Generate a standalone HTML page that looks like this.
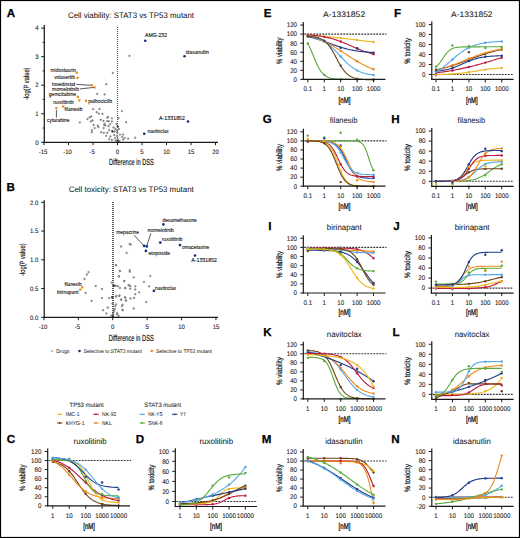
<!DOCTYPE html>
<html><head><meta charset="utf-8"><style>
html,body{margin:0;padding:0;background:#fff;}
body{width:520px;height:538px;overflow:hidden;}
svg{display:block;font-family:"Liberation Sans",sans-serif;text-rendering:geometricPrecision;}
</style></head><body>
<svg width="520" height="538" viewBox="0 0 520 538">
<rect x="0" y="0" width="520" height="538" fill="#fff"/>
<line x1="304.30" y1="34.10" x2="386.50" y2="34.10" stroke="#333" stroke-width="1.1" stroke-dasharray="1.9,1.1" stroke-linecap="butt"/>
<path d="M307.80,35.26 L308.91,35.32 L310.03,35.38 L311.14,35.44 L312.26,35.51 L313.37,35.58 L314.49,35.65 L315.60,35.72 L316.72,35.80 L317.83,35.87 L318.95,35.95 L320.06,36.04 L321.17,36.12 L322.29,36.21 L323.40,36.30 L324.52,36.40 L325.63,36.49 L326.75,36.59 L327.86,36.69 L328.98,36.80 L330.09,36.91 L331.21,37.02 L332.32,37.13 L333.44,37.24 L334.55,37.36 L335.66,37.48 L336.78,37.60 L337.89,37.73 L339.01,37.85 L340.12,37.98 L341.24,38.11 L342.35,38.24 L343.47,38.37 L344.58,38.51 L345.70,38.65 L346.81,38.78 L347.92,38.92 L349.04,39.06 L350.15,39.20 L351.27,39.34 L352.38,39.48 L353.50,39.62 L354.61,39.76 L355.73,39.89 L356.84,40.03 L357.96,40.17 L359.07,40.31 L360.19,40.45 L361.30,40.58 L362.41,40.71 L363.53,40.85 L364.64,40.98 L365.76,41.11 L366.87,41.23 L367.99,41.36 L369.10,41.48 L370.22,41.60 L371.33,41.72 L372.45,41.84 L373.56,41.95" fill="none" stroke="#f0b51a" stroke-width="1.12"/>
<path d="M307.80,34.78 L308.91,34.86 L310.03,34.95 L311.14,35.05 L312.26,35.15 L313.37,35.26 L314.49,35.38 L315.60,35.50 L316.72,35.64 L317.83,35.78 L318.95,35.94 L320.06,36.10 L321.17,36.28 L322.29,36.47 L323.40,36.67 L324.52,36.88 L325.63,37.11 L326.75,37.34 L327.86,37.60 L328.98,37.86 L330.09,38.14 L331.21,38.44 L332.32,38.75 L333.44,39.08 L334.55,39.42 L335.66,39.77 L336.78,40.15 L337.89,40.53 L339.01,40.93 L340.12,41.34 L341.24,41.77 L342.35,42.21 L343.47,42.65 L344.58,43.11 L345.70,43.58 L346.81,44.05 L347.92,44.53 L349.04,45.02 L350.15,45.51 L351.27,46.00 L352.38,46.49 L353.50,46.98 L354.61,47.46 L355.73,47.94 L356.84,48.42 L357.96,48.89 L359.07,49.34 L360.19,49.79 L361.30,50.23 L362.41,50.66 L363.53,51.07 L364.64,51.47 L365.76,51.86 L366.87,52.23 L367.99,52.59 L369.10,52.93 L370.22,53.26 L371.33,53.57 L372.45,53.87 L373.56,54.15" fill="none" stroke="#bf1a40" stroke-width="1.12"/>
<path d="M307.80,36.71 L308.91,36.94 L310.03,37.19 L311.14,37.44 L312.26,37.71 L313.37,38.00 L314.49,38.29 L315.60,38.60 L316.72,38.92 L317.83,39.25 L318.95,39.60 L320.06,39.95 L321.17,40.32 L322.29,40.70 L323.40,41.08 L324.52,41.47 L325.63,41.87 L326.75,42.27 L327.86,42.68 L328.98,43.09 L330.09,43.50 L331.21,43.91 L332.32,44.32 L333.44,44.72 L334.55,45.12 L335.66,45.52 L336.78,45.90 L337.89,46.28 L339.01,46.65 L340.12,47.01 L341.24,47.36 L342.35,47.70 L343.47,48.03 L344.58,48.34 L345.70,48.64 L346.81,48.93 L347.92,49.20 L349.04,49.46 L350.15,49.71 L351.27,49.95 L352.38,50.17 L353.50,50.38 L354.61,50.58 L355.73,50.77 L356.84,50.94 L357.96,51.11 L359.07,51.26 L360.19,51.41 L361.30,51.54 L362.41,51.67 L363.53,51.79 L364.64,51.90 L365.76,52.00 L366.87,52.10 L367.99,52.18 L369.10,52.27 L370.22,52.34 L371.33,52.41 L372.45,52.48 L373.56,52.54" fill="none" stroke="#1f3d8c" stroke-width="1.12"/>
<path d="M307.80,35.62 L308.91,35.91 L310.03,36.22 L311.14,36.54 L312.26,36.88 L313.37,37.23 L314.49,37.60 L315.60,37.98 L316.72,38.38 L317.83,38.80 L318.95,39.23 L320.06,39.68 L321.17,40.15 L322.29,40.63 L323.40,41.13 L324.52,41.65 L325.63,42.19 L326.75,42.74 L327.86,43.31 L328.98,43.89 L330.09,44.50 L331.21,45.11 L332.32,45.74 L333.44,46.38 L334.55,47.04 L335.66,47.71 L336.78,48.39 L337.89,49.08 L339.01,49.78 L340.12,50.48 L341.24,51.20 L342.35,51.92 L343.47,52.64 L344.58,53.36 L345.70,54.09 L346.81,54.81 L347.92,55.54 L349.04,56.26 L350.15,56.98 L351.27,57.69 L352.38,58.39 L353.50,59.09 L354.61,59.77 L355.73,60.45 L356.84,61.12 L357.96,61.77 L359.07,62.41 L360.19,63.04 L361.30,63.65 L362.41,64.25 L363.53,64.83 L364.64,65.39 L365.76,65.94 L366.87,66.47 L367.99,66.98 L369.10,67.48 L370.22,67.96 L371.33,68.42 L372.45,68.87 L373.56,69.30" fill="none" stroke="#ec8b20" stroke-width="1.12"/>
<path d="M307.80,36.12 L308.91,36.28 L310.03,36.47 L311.14,36.68 L312.26,36.91 L313.37,37.16 L314.49,37.44 L315.60,37.76 L316.72,38.10 L317.83,38.48 L318.95,38.90 L320.06,39.37 L321.17,39.87 L322.29,40.42 L323.40,41.02 L324.52,41.67 L325.63,42.38 L326.75,43.14 L327.86,43.95 L328.98,44.82 L330.09,45.74 L331.21,46.71 L332.32,47.73 L333.44,48.80 L334.55,49.91 L335.66,51.05 L336.78,52.22 L337.89,53.41 L339.01,54.62 L340.12,55.83 L341.24,57.04 L342.35,58.24 L343.47,59.42 L344.58,60.58 L345.70,61.70 L346.81,62.78 L347.92,63.82 L349.04,64.81 L350.15,65.74 L351.27,66.63 L352.38,67.46 L353.50,68.24 L354.61,68.96 L355.73,69.63 L356.84,70.25 L357.96,70.81 L359.07,71.33 L360.19,71.81 L361.30,72.24 L362.41,72.64 L363.53,73.00 L364.64,73.32 L365.76,73.61 L366.87,73.88 L367.99,74.12 L369.10,74.33 L370.22,74.52 L371.33,74.69 L372.45,74.85 L373.56,74.99" fill="none" stroke="#55a7e6" stroke-width="1.12"/>
<path d="M307.80,36.21 L308.91,36.28 L310.03,36.36 L311.14,36.46 L312.26,36.58 L313.37,36.73 L314.49,36.90 L315.60,37.10 L316.72,37.35 L317.83,37.65 L318.95,38.00 L320.06,38.43 L321.17,38.92 L322.29,39.51 L323.40,40.20 L324.52,41.01 L325.63,41.94 L326.75,43.02 L327.86,44.24 L328.98,45.61 L330.09,47.14 L331.21,48.82 L332.32,50.64 L333.44,52.58 L334.55,54.60 L335.66,56.69 L336.78,58.80 L337.89,60.89 L339.01,62.92 L340.12,64.87 L341.24,66.70 L342.35,68.40 L343.47,69.95 L344.58,71.35 L345.70,72.59 L346.81,73.68 L347.92,74.63 L349.04,75.45 L350.15,76.15 L351.27,76.76 L352.38,77.27 L353.50,77.70 L354.61,78.06 L355.73,78.36 L356.84,78.62 L357.96,78.83 L359.07,79.00 L360.19,79.15 L361.30,79.27 L362.41,79.37 L363.53,79.46 L364.64,79.53 L365.76,79.58 L366.87,79.63 L367.99,79.67 L369.10,79.70 L370.22,79.73 L371.33,79.75 L372.45,79.77 L373.56,79.79" fill="none" stroke="#6e4219" stroke-width="1.12"/>
<path d="M307.80,43.43 L308.91,45.57 L310.03,47.92 L311.14,50.45 L312.26,53.11 L313.37,55.83 L314.49,58.54 L315.60,61.18 L316.72,63.68 L317.83,65.99 L318.95,68.09 L320.06,69.95 L321.17,71.57 L322.29,72.96 L323.40,74.14 L324.52,75.13 L325.63,75.95 L326.75,76.62 L327.86,77.17 L328.98,77.62 L330.09,77.99 L331.21,78.28 L332.32,78.52 L333.44,78.71 L334.55,78.86 L335.66,78.98 L336.78,79.08 L337.89,79.16 L339.01,79.22 L340.12,79.27 L341.24,79.31 L342.35,79.34 L343.47,79.36 L344.58,79.38 L345.70,79.40 L346.81,79.41 L347.92,79.42 L349.04,79.43 L350.15,79.44 L351.27,79.44 L352.38,79.44 L353.50,79.45 L354.61,79.45 L355.73,79.45 L356.84,79.45 L357.96,79.46 L359.07,79.46 L360.19,79.46 L361.30,79.46 L362.41,79.46 L363.53,79.46 L364.64,79.46 L365.76,79.46 L366.87,79.46 L367.99,79.46 L369.10,79.46 L370.22,79.46 L371.33,79.46 L372.45,79.46 L373.56,79.46" fill="none" stroke="#5aab3c" stroke-width="1.12"/>
<circle cx="307.80" cy="35.26" r="1.2" fill="#f0b51a"/>
<circle cx="324.24" cy="36.37" r="1.2" fill="#f0b51a"/>
<circle cx="340.68" cy="38.05" r="1.2" fill="#f0b51a"/>
<circle cx="357.12" cy="40.07" r="1.2" fill="#f0b51a"/>
<circle cx="373.56" cy="41.95" r="1.2" fill="#f0b51a"/>
<circle cx="307.80" cy="34.78" r="1.2" fill="#bf1a40"/>
<circle cx="324.24" cy="36.83" r="1.2" fill="#bf1a40"/>
<circle cx="340.68" cy="41.55" r="1.2" fill="#bf1a40"/>
<circle cx="357.12" cy="48.54" r="1.2" fill="#bf1a40"/>
<circle cx="373.56" cy="54.15" r="1.2" fill="#bf1a40"/>
<circle cx="307.80" cy="36.37" r="1.2" fill="#1f3d8c"/>
<circle cx="324.24" cy="40.90" r="1.2" fill="#1f3d8c"/>
<circle cx="340.68" cy="47.69" r="1.2" fill="#1f3d8c"/>
<circle cx="357.12" cy="48.32" r="1.2" fill="#1f3d8c"/>
<circle cx="373.56" cy="52.67" r="1.2" fill="#1f3d8c"/>
<circle cx="307.80" cy="35.62" r="1.2" fill="#ec8b20"/>
<circle cx="324.24" cy="41.52" r="1.2" fill="#ec8b20"/>
<circle cx="340.68" cy="50.84" r="1.2" fill="#ec8b20"/>
<circle cx="357.12" cy="61.28" r="1.2" fill="#ec8b20"/>
<circle cx="373.56" cy="69.30" r="1.2" fill="#ec8b20"/>
<circle cx="307.80" cy="36.12" r="1.2" fill="#55a7e6"/>
<circle cx="324.24" cy="41.51" r="1.2" fill="#55a7e6"/>
<circle cx="340.68" cy="56.44" r="1.2" fill="#55a7e6"/>
<circle cx="357.12" cy="70.39" r="1.2" fill="#55a7e6"/>
<circle cx="373.56" cy="74.99" r="1.2" fill="#55a7e6"/>
<circle cx="307.80" cy="36.21" r="1.2" fill="#6e4219"/>
<circle cx="324.24" cy="40.80" r="1.2" fill="#6e4219"/>
<circle cx="340.68" cy="65.80" r="1.2" fill="#6e4219"/>
<circle cx="357.12" cy="78.67" r="1.2" fill="#6e4219"/>
<circle cx="373.56" cy="79.79" r="1.2" fill="#6e4219"/>
<circle cx="307.80" cy="43.43" r="1.2" fill="#5aab3c"/>
<circle cx="324.24" cy="74.90" r="1.2" fill="#5aab3c"/>
<circle cx="340.68" cy="79.29" r="1.2" fill="#5aab3c"/>
<circle cx="357.12" cy="79.45" r="1.2" fill="#5aab3c"/>
<circle cx="373.56" cy="79.46" r="1.2" fill="#5aab3c"/>
<line x1="303.30" y1="22.04" x2="303.30" y2="79.90" stroke="#1a1a1a" stroke-width="1.2" stroke-linecap="butt"/>
<line x1="302.70" y1="79.40" x2="385.50" y2="79.40" stroke="#1a1a1a" stroke-width="1.2" stroke-linecap="butt"/>
<line x1="300.30" y1="79.40" x2="303.30" y2="79.40" stroke="#1a1a1a" stroke-width="1.0" stroke-linecap="butt"/>
<text x="297.00" y="81.75" font-size="6.7" text-anchor="end" textLength="3.43" lengthAdjust="spacingAndGlyphs" fill="#222" stroke="#222" stroke-width="0.1">0</text>
<line x1="300.30" y1="70.34" x2="303.30" y2="70.34" stroke="#1a1a1a" stroke-width="1.0" stroke-linecap="butt"/>
<text x="297.00" y="72.69" font-size="6.7" text-anchor="end" textLength="6.86" lengthAdjust="spacingAndGlyphs" fill="#222" stroke="#222" stroke-width="0.1">20</text>
<line x1="300.30" y1="61.28" x2="303.30" y2="61.28" stroke="#1a1a1a" stroke-width="1.0" stroke-linecap="butt"/>
<text x="297.00" y="63.63" font-size="6.7" text-anchor="end" textLength="6.86" lengthAdjust="spacingAndGlyphs" fill="#222" stroke="#222" stroke-width="0.1">40</text>
<line x1="300.30" y1="52.22" x2="303.30" y2="52.22" stroke="#1a1a1a" stroke-width="1.0" stroke-linecap="butt"/>
<text x="297.00" y="54.57" font-size="6.7" text-anchor="end" textLength="6.86" lengthAdjust="spacingAndGlyphs" fill="#222" stroke="#222" stroke-width="0.1">60</text>
<line x1="300.30" y1="43.16" x2="303.30" y2="43.16" stroke="#1a1a1a" stroke-width="1.0" stroke-linecap="butt"/>
<text x="297.00" y="45.51" font-size="6.7" text-anchor="end" textLength="6.86" lengthAdjust="spacingAndGlyphs" fill="#222" stroke="#222" stroke-width="0.1">80</text>
<line x1="300.30" y1="34.10" x2="303.30" y2="34.10" stroke="#1a1a1a" stroke-width="1.0" stroke-linecap="butt"/>
<text x="297.00" y="36.45" font-size="6.7" text-anchor="end" textLength="10.28" lengthAdjust="spacingAndGlyphs" fill="#222" stroke="#222" stroke-width="0.1">100</text>
<line x1="300.30" y1="25.04" x2="303.30" y2="25.04" stroke="#1a1a1a" stroke-width="1.0" stroke-linecap="butt"/>
<text x="297.00" y="27.39" font-size="6.7" text-anchor="end" textLength="10.28" lengthAdjust="spacingAndGlyphs" fill="#222" stroke="#222" stroke-width="0.1">120</text>
<line x1="307.80" y1="79.40" x2="307.80" y2="82.40" stroke="#1a1a1a" stroke-width="1.0" stroke-linecap="butt"/>
<text x="307.80" y="91.10" font-size="6.7" text-anchor="middle" textLength="8.57" lengthAdjust="spacingAndGlyphs" fill="#222" stroke="#222" stroke-width="0.1">0.1</text>
<line x1="324.24" y1="79.40" x2="324.24" y2="82.40" stroke="#1a1a1a" stroke-width="1.0" stroke-linecap="butt"/>
<text x="324.24" y="91.10" font-size="6.7" text-anchor="middle" textLength="3.43" lengthAdjust="spacingAndGlyphs" fill="#222" stroke="#222" stroke-width="0.1">1</text>
<line x1="340.68" y1="79.40" x2="340.68" y2="82.40" stroke="#1a1a1a" stroke-width="1.0" stroke-linecap="butt"/>
<text x="340.68" y="91.10" font-size="6.7" text-anchor="middle" textLength="6.86" lengthAdjust="spacingAndGlyphs" fill="#222" stroke="#222" stroke-width="0.1">10</text>
<line x1="357.12" y1="79.40" x2="357.12" y2="82.40" stroke="#1a1a1a" stroke-width="1.0" stroke-linecap="butt"/>
<text x="357.12" y="91.10" font-size="6.7" text-anchor="middle" textLength="10.28" lengthAdjust="spacingAndGlyphs" fill="#222" stroke="#222" stroke-width="0.1">100</text>
<line x1="373.56" y1="79.40" x2="373.56" y2="82.40" stroke="#1a1a1a" stroke-width="1.0" stroke-linecap="butt"/>
<text x="373.56" y="91.10" font-size="6.7" text-anchor="middle" textLength="13.71" lengthAdjust="spacingAndGlyphs" fill="#222" stroke="#222" stroke-width="0.1">1000</text>
<text x="323.10" y="16.80" font-size="8.1" fill="#111" textLength="42.10" lengthAdjust="spacingAndGlyphs" stroke="#111" stroke-width="0.04">A-1331852</text>
<text x="338.60" y="102.50" font-size="8.4" fill="#111" textLength="11.90" lengthAdjust="spacingAndGlyphs" stroke="#111" stroke-width="0.3">[nM]</text>
<text transform="translate(281.80,64.00) rotate(-90)" x="0" y="0" font-size="8.0" textLength="26.50" lengthAdjust="spacingAndGlyphs" fill="#111" stroke="#111" stroke-width="0.22">% viability</text>
<line x1="432.80" y1="74.44" x2="513.10" y2="74.44" stroke="#333" stroke-width="1.1" stroke-dasharray="1.9,1.1" stroke-linecap="butt"/>
<path d="M436.00,74.56 L437.11,74.54 L438.23,74.52 L439.34,74.49 L440.46,74.47 L441.57,74.44 L442.69,74.41 L443.80,74.37 L444.92,74.34 L446.03,74.30 L447.15,74.25 L448.26,74.20 L449.37,74.15 L450.49,74.09 L451.60,74.03 L452.72,73.96 L453.83,73.89 L454.95,73.81 L456.06,73.72 L457.18,73.63 L458.29,73.53 L459.41,73.43 L460.52,73.31 L461.64,73.19 L462.75,73.07 L463.86,72.93 L464.98,72.79 L466.09,72.64 L467.21,72.49 L468.32,72.33 L469.44,72.16 L470.55,71.99 L471.67,71.81 L472.78,71.63 L473.90,71.45 L475.01,71.27 L476.12,71.08 L477.24,70.89 L478.35,70.71 L479.47,70.52 L480.58,70.34 L481.70,70.16 L482.81,69.99 L483.93,69.82 L485.04,69.65 L486.16,69.49 L487.27,69.34 L488.39,69.20 L489.50,69.06 L490.61,68.93 L491.73,68.80 L492.84,68.69 L493.96,68.58 L495.07,68.48 L496.19,68.38 L497.30,68.29 L498.42,68.21 L499.53,68.13 L500.65,68.06 L501.76,67.99" fill="none" stroke="#f0b51a" stroke-width="1.12"/>
<path d="M436.00,72.88 L437.11,72.74 L438.23,72.60 L439.34,72.46 L440.46,72.31 L441.57,72.16 L442.69,72.00 L443.80,71.84 L444.92,71.67 L446.03,71.50 L447.15,71.33 L448.26,71.15 L449.37,70.97 L450.49,70.78 L451.60,70.59 L452.72,70.39 L453.83,70.19 L454.95,69.98 L456.06,69.77 L457.18,69.55 L458.29,69.33 L459.41,69.11 L460.52,68.88 L461.64,68.64 L462.75,68.40 L463.86,68.16 L464.98,67.91 L466.09,67.66 L467.21,67.40 L468.32,67.13 L469.44,66.87 L470.55,66.59 L471.67,66.32 L472.78,66.03 L473.90,65.75 L475.01,65.46 L476.12,65.16 L477.24,64.86 L478.35,64.56 L479.47,64.26 L480.58,63.95 L481.70,63.63 L482.81,63.31 L483.93,62.99 L485.04,62.67 L486.16,62.34 L487.27,62.01 L488.39,61.68 L489.50,61.35 L490.61,61.01 L491.73,60.67 L492.84,60.33 L493.96,59.99 L495.07,59.65 L496.19,59.30 L497.30,58.96 L498.42,58.61 L499.53,58.26 L500.65,57.91 L501.76,57.57" fill="none" stroke="#bf1a40" stroke-width="1.12"/>
<path d="M436.00,71.18 L437.11,71.08 L438.23,70.96 L439.34,70.83 L440.46,70.69 L441.57,70.54 L442.69,70.36 L443.80,70.17 L444.92,69.97 L446.03,69.74 L447.15,69.49 L448.26,69.22 L449.37,68.93 L450.49,68.61 L451.60,68.27 L452.72,67.91 L453.83,67.52 L454.95,67.12 L456.06,66.69 L457.18,66.25 L458.29,65.79 L459.41,65.31 L460.52,64.82 L461.64,64.33 L462.75,63.83 L463.86,63.33 L464.98,62.83 L466.09,62.34 L467.21,61.86 L468.32,61.40 L469.44,60.95 L470.55,60.51 L471.67,60.10 L472.78,59.71 L473.90,59.33 L475.01,58.99 L476.12,58.66 L477.24,58.36 L478.35,58.08 L479.47,57.82 L480.58,57.59 L481.70,57.37 L482.81,57.18 L483.93,57.00 L485.04,56.83 L486.16,56.69 L487.27,56.55 L488.39,56.44 L489.50,56.33 L490.61,56.23 L491.73,56.14 L492.84,56.07 L493.96,56.00 L495.07,55.94 L496.19,55.88 L497.30,55.83 L498.42,55.79 L499.53,55.75 L500.65,55.71 L501.76,55.68" fill="none" stroke="#1f3d8c" stroke-width="1.12"/>
<path d="M436.00,69.76 L437.11,69.54 L438.23,69.31 L439.34,69.07 L440.46,68.82 L441.57,68.56 L442.69,68.29 L443.80,68.01 L444.92,67.72 L446.03,67.43 L447.15,67.12 L448.26,66.81 L449.37,66.48 L450.49,66.15 L451.60,65.81 L452.72,65.46 L453.83,65.10 L454.95,64.74 L456.06,64.37 L457.18,63.99 L458.29,63.60 L459.41,63.21 L460.52,62.81 L461.64,62.41 L462.75,62.00 L463.86,61.59 L464.98,61.17 L466.09,60.76 L467.21,60.34 L468.32,59.92 L469.44,59.50 L470.55,59.08 L471.67,58.66 L472.78,58.24 L473.90,57.82 L475.01,57.41 L476.12,57.00 L477.24,56.60 L478.35,56.20 L479.47,55.80 L480.58,55.41 L481.70,55.03 L482.81,54.65 L483.93,54.29 L485.04,53.92 L486.16,53.57 L487.27,53.23 L488.39,52.89 L489.50,52.56 L490.61,52.25 L491.73,51.94 L492.84,51.64 L493.96,51.35 L495.07,51.07 L496.19,50.79 L497.30,50.53 L498.42,50.28 L499.53,50.03 L500.65,49.80 L501.76,49.57" fill="none" stroke="#6e4219" stroke-width="1.12"/>
<path d="M436.00,70.50 L437.11,70.22 L438.23,69.93 L439.34,69.63 L440.46,69.31 L441.57,68.99 L442.69,68.66 L443.80,68.32 L444.92,67.96 L446.03,67.60 L447.15,67.22 L448.26,66.84 L449.37,66.45 L450.49,66.05 L451.60,65.64 L452.72,65.22 L453.83,64.79 L454.95,64.36 L456.06,63.92 L457.18,63.48 L458.29,63.03 L459.41,62.58 L460.52,62.13 L461.64,61.67 L462.75,61.21 L463.86,60.75 L464.98,60.29 L466.09,59.83 L467.21,59.38 L468.32,58.92 L469.44,58.47 L470.55,58.03 L471.67,57.59 L472.78,57.15 L473.90,56.73 L475.01,56.30 L476.12,55.89 L477.24,55.48 L478.35,55.09 L479.47,54.70 L480.58,54.32 L481.70,53.95 L482.81,53.59 L483.93,53.24 L485.04,52.91 L486.16,52.58 L487.27,52.26 L488.39,51.96 L489.50,51.66 L490.61,51.38 L491.73,51.10 L492.84,50.84 L493.96,50.58 L495.07,50.34 L496.19,50.11 L497.30,49.88 L498.42,49.67 L499.53,49.47 L500.65,49.27 L501.76,49.08" fill="none" stroke="#ec8b20" stroke-width="1.12"/>
<path d="M436.00,72.11 L437.11,71.44 L438.23,70.75 L439.34,70.01 L440.46,69.24 L441.57,68.44 L442.69,67.61 L443.80,66.74 L444.92,65.85 L446.03,64.94 L447.15,64.01 L448.26,63.06 L449.37,62.10 L450.49,61.14 L451.60,60.17 L452.72,59.20 L453.83,58.25 L454.95,57.30 L456.06,56.37 L457.18,55.46 L458.29,54.57 L459.41,53.71 L460.52,52.88 L461.64,52.08 L462.75,51.31 L463.86,50.58 L464.98,49.89 L466.09,49.23 L467.21,48.60 L468.32,48.02 L469.44,47.47 L470.55,46.95 L471.67,46.47 L472.78,46.03 L473.90,45.61 L475.01,45.22 L476.12,44.86 L477.24,44.53 L478.35,44.23 L479.47,43.95 L480.58,43.69 L481.70,43.45 L482.81,43.23 L483.93,43.04 L485.04,42.85 L486.16,42.68 L487.27,42.53 L488.39,42.39 L489.50,42.26 L490.61,42.15 L491.73,42.04 L492.84,41.95 L493.96,41.86 L495.07,41.78 L496.19,41.70 L497.30,41.64 L498.42,41.58 L499.53,41.52 L500.65,41.47 L501.76,41.43" fill="none" stroke="#55a7e6" stroke-width="1.12"/>
<path d="M436.00,66.66 L437.11,65.79 L438.23,64.73 L439.34,63.47 L440.46,62.03 L441.57,60.44 L442.69,58.76 L443.80,57.06 L444.92,55.41 L446.03,53.87 L447.15,52.50 L448.26,51.32 L449.37,50.34 L450.49,49.54 L451.60,48.90 L452.72,48.40 L453.83,48.01 L454.95,47.71 L456.06,47.49 L457.18,47.32 L458.29,47.19 L459.41,47.09 L460.52,47.02 L461.64,46.97 L462.75,46.93 L463.86,46.90 L464.98,46.88 L466.09,46.86 L467.21,46.85 L468.32,46.84 L469.44,46.83 L470.55,46.83 L471.67,46.82 L472.78,46.82 L473.90,46.82 L475.01,46.82 L476.12,46.82 L477.24,46.82 L478.35,46.82 L479.47,46.82 L480.58,46.81 L481.70,46.81 L482.81,46.81 L483.93,46.81 L485.04,46.81 L486.16,46.81 L487.27,46.81 L488.39,46.81 L489.50,46.81 L490.61,46.81 L491.73,46.81 L492.84,46.81 L493.96,46.81 L495.07,46.81 L496.19,46.81 L497.30,46.81 L498.42,46.81 L499.53,46.81 L500.65,46.81 L501.76,46.81" fill="none" stroke="#5aab3c" stroke-width="1.12"/>
<circle cx="436.00" cy="74.56" r="1.2" fill="#f0b51a"/>
<circle cx="452.44" cy="73.98" r="1.2" fill="#f0b51a"/>
<circle cx="468.88" cy="72.25" r="1.2" fill="#f0b51a"/>
<circle cx="485.32" cy="69.61" r="1.2" fill="#f0b51a"/>
<circle cx="501.76" cy="67.99" r="1.2" fill="#f0b51a"/>
<circle cx="436.00" cy="72.88" r="1.2" fill="#bf1a40"/>
<circle cx="452.44" cy="70.44" r="1.2" fill="#bf1a40"/>
<circle cx="468.88" cy="67.00" r="1.2" fill="#bf1a40"/>
<circle cx="485.32" cy="62.59" r="1.2" fill="#bf1a40"/>
<circle cx="501.76" cy="57.57" r="1.2" fill="#bf1a40"/>
<circle cx="436.00" cy="71.18" r="1.2" fill="#1f3d8c"/>
<circle cx="452.44" cy="68.00" r="1.2" fill="#1f3d8c"/>
<circle cx="468.88" cy="61.17" r="1.2" fill="#1f3d8c"/>
<circle cx="485.32" cy="56.80" r="1.2" fill="#1f3d8c"/>
<circle cx="501.76" cy="55.68" r="1.2" fill="#1f3d8c"/>
<circle cx="436.00" cy="69.70" r="1.2" fill="#6e4219"/>
<circle cx="452.44" cy="65.72" r="1.2" fill="#6e4219"/>
<circle cx="468.88" cy="52.16" r="1.2" fill="#6e4219"/>
<circle cx="485.32" cy="54.00" r="1.2" fill="#6e4219"/>
<circle cx="501.76" cy="49.52" r="1.2" fill="#6e4219"/>
<circle cx="436.00" cy="75.44" r="1.2" fill="#ec8b20"/>
<circle cx="452.44" cy="65.47" r="1.2" fill="#ec8b20"/>
<circle cx="468.88" cy="58.49" r="1.2" fill="#ec8b20"/>
<circle cx="485.32" cy="53.00" r="1.2" fill="#ec8b20"/>
<circle cx="501.76" cy="49.02" r="1.2" fill="#ec8b20"/>
<circle cx="436.00" cy="72.11" r="1.2" fill="#55a7e6"/>
<circle cx="452.44" cy="59.44" r="1.2" fill="#55a7e6"/>
<circle cx="468.88" cy="47.74" r="1.2" fill="#55a7e6"/>
<circle cx="485.32" cy="42.81" r="1.2" fill="#55a7e6"/>
<circle cx="501.76" cy="41.43" r="1.2" fill="#55a7e6"/>
<circle cx="436.00" cy="66.66" r="1.2" fill="#5aab3c"/>
<circle cx="452.44" cy="45.53" r="1.2" fill="#5aab3c"/>
<circle cx="468.88" cy="46.03" r="1.2" fill="#5aab3c"/>
<circle cx="485.32" cy="48.02" r="1.2" fill="#5aab3c"/>
<circle cx="501.76" cy="47.02" r="1.2" fill="#5aab3c"/>
<line x1="431.80" y1="21.59" x2="431.80" y2="79.92" stroke="#1a1a1a" stroke-width="1.2" stroke-linecap="butt"/>
<line x1="431.20" y1="79.42" x2="513.60" y2="79.42" stroke="#1a1a1a" stroke-width="1.2" stroke-linecap="butt"/>
<line x1="428.80" y1="74.44" x2="431.80" y2="74.44" stroke="#1a1a1a" stroke-width="1.0" stroke-linecap="butt"/>
<text x="425.50" y="76.79" font-size="6.7" text-anchor="end" textLength="3.43" lengthAdjust="spacingAndGlyphs" fill="#222" stroke="#222" stroke-width="0.1">0</text>
<line x1="428.80" y1="64.47" x2="431.80" y2="64.47" stroke="#1a1a1a" stroke-width="1.0" stroke-linecap="butt"/>
<text x="425.50" y="66.82" font-size="6.7" text-anchor="end" textLength="6.86" lengthAdjust="spacingAndGlyphs" fill="#222" stroke="#222" stroke-width="0.1">20</text>
<line x1="428.80" y1="54.50" x2="431.80" y2="54.50" stroke="#1a1a1a" stroke-width="1.0" stroke-linecap="butt"/>
<text x="425.50" y="56.85" font-size="6.7" text-anchor="end" textLength="6.86" lengthAdjust="spacingAndGlyphs" fill="#222" stroke="#222" stroke-width="0.1">40</text>
<line x1="428.80" y1="44.53" x2="431.80" y2="44.53" stroke="#1a1a1a" stroke-width="1.0" stroke-linecap="butt"/>
<text x="425.50" y="46.88" font-size="6.7" text-anchor="end" textLength="6.86" lengthAdjust="spacingAndGlyphs" fill="#222" stroke="#222" stroke-width="0.1">60</text>
<line x1="428.80" y1="34.56" x2="431.80" y2="34.56" stroke="#1a1a1a" stroke-width="1.0" stroke-linecap="butt"/>
<text x="425.50" y="36.91" font-size="6.7" text-anchor="end" textLength="6.86" lengthAdjust="spacingAndGlyphs" fill="#222" stroke="#222" stroke-width="0.1">80</text>
<line x1="428.80" y1="24.59" x2="431.80" y2="24.59" stroke="#1a1a1a" stroke-width="1.0" stroke-linecap="butt"/>
<text x="425.50" y="26.94" font-size="6.7" text-anchor="end" textLength="10.28" lengthAdjust="spacingAndGlyphs" fill="#222" stroke="#222" stroke-width="0.1">100</text>
<line x1="436.00" y1="79.42" x2="436.00" y2="82.42" stroke="#1a1a1a" stroke-width="1.0" stroke-linecap="butt"/>
<text x="436.00" y="91.12" font-size="6.7" text-anchor="middle" textLength="8.57" lengthAdjust="spacingAndGlyphs" fill="#222" stroke="#222" stroke-width="0.1">0.1</text>
<line x1="452.44" y1="79.42" x2="452.44" y2="82.42" stroke="#1a1a1a" stroke-width="1.0" stroke-linecap="butt"/>
<text x="452.44" y="91.12" font-size="6.7" text-anchor="middle" textLength="3.43" lengthAdjust="spacingAndGlyphs" fill="#222" stroke="#222" stroke-width="0.1">1</text>
<line x1="468.88" y1="79.42" x2="468.88" y2="82.42" stroke="#1a1a1a" stroke-width="1.0" stroke-linecap="butt"/>
<text x="468.88" y="91.12" font-size="6.7" text-anchor="middle" textLength="6.86" lengthAdjust="spacingAndGlyphs" fill="#222" stroke="#222" stroke-width="0.1">10</text>
<line x1="485.32" y1="79.42" x2="485.32" y2="82.42" stroke="#1a1a1a" stroke-width="1.0" stroke-linecap="butt"/>
<text x="485.32" y="91.12" font-size="6.7" text-anchor="middle" textLength="10.28" lengthAdjust="spacingAndGlyphs" fill="#222" stroke="#222" stroke-width="0.1">100</text>
<line x1="501.76" y1="79.42" x2="501.76" y2="82.42" stroke="#1a1a1a" stroke-width="1.0" stroke-linecap="butt"/>
<text x="501.76" y="91.12" font-size="6.7" text-anchor="middle" textLength="13.71" lengthAdjust="spacingAndGlyphs" fill="#222" stroke="#222" stroke-width="0.1">1000</text>
<text x="451.10" y="16.80" font-size="8.1" fill="#111" textLength="41.50" lengthAdjust="spacingAndGlyphs" stroke="#111" stroke-width="0.04">A-1331852</text>
<text x="466.00" y="102.50" font-size="8.4" fill="#111" textLength="11.70" lengthAdjust="spacingAndGlyphs" stroke="#111" stroke-width="0.3">[nM]</text>
<text transform="translate(409.60,63.80) rotate(-90)" x="0" y="0" font-size="8.0" textLength="26.00" lengthAdjust="spacingAndGlyphs" fill="#111" stroke="#111" stroke-width="0.22">% toxicity</text>
<line x1="304.40" y1="140.90" x2="386.50" y2="140.90" stroke="#333" stroke-width="1.1" stroke-dasharray="1.9,1.1" stroke-linecap="butt"/>
<path d="M307.80,140.90 L308.91,140.90 L310.03,140.90 L311.14,140.90 L312.26,140.90 L313.37,140.90 L314.49,140.90 L315.60,140.90 L316.72,140.90 L317.83,140.90 L318.95,140.90 L320.06,140.90 L321.17,140.90 L322.29,140.90 L323.40,140.90 L324.52,140.90 L325.63,140.90 L326.75,140.90 L327.86,140.90 L328.98,140.90 L330.09,140.90 L331.21,140.90 L332.32,140.90 L333.44,140.90 L334.55,140.90 L335.66,140.90 L336.78,140.90 L337.89,140.90 L339.01,140.90 L340.12,140.90 L341.24,140.90 L342.35,140.90 L343.47,140.90 L344.58,140.90 L345.70,140.91 L346.81,140.91 L347.92,140.91 L349.04,140.92 L350.15,140.93 L351.27,140.95 L352.38,140.98 L353.50,141.02 L354.61,141.08 L355.73,141.17 L356.84,141.31 L357.96,141.52 L359.07,141.82 L360.19,142.28 L361.30,142.94 L362.41,143.90 L363.53,145.24 L364.64,147.07 L365.76,149.45 L366.87,152.37 L367.99,155.71 L369.10,159.25 L370.22,162.69 L371.33,165.77 L372.45,168.34 L373.56,170.34" fill="none" stroke="#5aab3c" stroke-width="1.12"/>
<path d="M307.80,140.98 L308.91,140.98 L310.03,140.99 L311.14,140.99 L312.26,140.99 L313.37,141.00 L314.49,141.00 L315.60,141.01 L316.72,141.02 L317.83,141.04 L318.95,141.05 L320.06,141.08 L321.17,141.11 L322.29,141.14 L323.40,141.19 L324.52,141.25 L325.63,141.34 L326.75,141.44 L327.86,141.57 L328.98,141.75 L330.09,141.97 L331.21,142.25 L332.32,142.60 L333.44,143.05 L334.55,143.62 L335.66,144.33 L336.78,145.20 L337.89,146.27 L339.01,147.54 L340.12,149.06 L341.24,150.80 L342.35,152.78 L343.47,154.94 L344.58,157.26 L345.70,159.65 L346.81,162.04 L347.92,164.35 L349.04,166.53 L350.15,168.50 L351.27,170.25 L352.38,171.77 L353.50,173.05 L354.61,174.12 L355.73,174.99 L356.84,175.70 L357.96,176.27 L359.07,176.73 L360.19,177.08 L361.30,177.37 L362.41,177.59 L363.53,177.76 L364.64,177.89 L365.76,178.00 L366.87,178.08 L367.99,178.14 L369.10,178.19 L370.22,178.23 L371.33,178.26 L372.45,178.28 L373.56,178.30" fill="none" stroke="#1f3d8c" stroke-width="1.12"/>
<path d="M307.80,140.78 L308.91,140.78 L310.03,140.79 L311.14,140.79 L312.26,140.80 L313.37,140.80 L314.49,140.81 L315.60,140.82 L316.72,140.83 L317.83,140.85 L318.95,140.86 L320.06,140.89 L321.17,140.92 L322.29,140.96 L323.40,141.01 L324.52,141.07 L325.63,141.15 L326.75,141.24 L327.86,141.37 L328.98,141.52 L330.09,141.72 L331.21,141.96 L332.32,142.27 L333.44,142.65 L334.55,143.12 L335.66,143.70 L336.78,144.41 L337.89,145.28 L339.01,146.31 L340.12,147.55 L341.24,148.99 L342.35,150.65 L343.47,152.53 L344.58,154.61 L345.70,156.86 L346.81,159.22 L347.92,161.64 L349.04,164.06 L350.15,166.40 L351.27,168.61 L352.38,170.64 L353.50,172.47 L354.61,174.08 L355.73,175.47 L356.84,176.65 L357.96,177.65 L359.07,178.47 L360.19,179.15 L361.30,179.70 L362.41,180.15 L363.53,180.51 L364.64,180.80 L365.76,181.03 L366.87,181.21 L367.99,181.36 L369.10,181.48 L370.22,181.57 L371.33,181.64 L372.45,181.70 L373.56,181.75" fill="none" stroke="#ec8b20" stroke-width="1.12"/>
<path d="M307.80,140.98 L308.91,140.98 L310.03,140.99 L311.14,140.99 L312.26,141.00 L313.37,141.01 L314.49,141.02 L315.60,141.04 L316.72,141.06 L317.83,141.08 L318.95,141.11 L320.06,141.15 L321.17,141.21 L322.29,141.27 L323.40,141.36 L324.52,141.46 L325.63,141.60 L326.75,141.77 L327.86,141.99 L328.98,142.26 L330.09,142.59 L331.21,143.02 L332.32,143.54 L333.44,144.18 L334.55,144.96 L335.66,145.91 L336.78,147.02 L337.89,148.33 L339.01,149.83 L340.12,151.51 L341.24,153.35 L342.35,155.32 L343.47,157.36 L344.58,159.41 L345.70,161.42 L346.81,163.33 L347.92,165.10 L349.04,166.69 L350.15,168.10 L351.27,169.31 L352.38,170.34 L353.50,171.20 L354.61,171.91 L355.73,172.49 L356.84,172.96 L357.96,173.34 L359.07,173.64 L360.19,173.88 L361.30,174.08 L362.41,174.23 L363.53,174.35 L364.64,174.44 L365.76,174.52 L366.87,174.58 L367.99,174.62 L369.10,174.66 L370.22,174.69 L371.33,174.71 L372.45,174.73 L373.56,174.74" fill="none" stroke="#55a7e6" stroke-width="1.12"/>
<path d="M307.80,140.71 L308.91,140.72 L310.03,140.73 L311.14,140.75 L312.26,140.76 L313.37,140.79 L314.49,140.82 L315.60,140.86 L316.72,140.91 L317.83,140.98 L318.95,141.07 L320.06,141.18 L321.17,141.33 L322.29,141.52 L323.40,141.77 L324.52,142.08 L325.63,142.49 L326.75,143.00 L327.86,143.64 L328.98,144.44 L330.09,145.43 L331.21,146.63 L332.32,148.06 L333.44,149.73 L334.55,151.64 L335.66,153.75 L336.78,156.02 L337.89,158.37 L339.01,160.74 L340.12,163.03 L341.24,165.18 L342.35,167.13 L343.47,168.85 L344.58,170.33 L345.70,171.58 L346.81,172.61 L347.92,173.45 L349.04,174.12 L350.15,174.66 L351.27,175.08 L352.38,175.41 L353.50,175.67 L354.61,175.87 L355.73,176.03 L356.84,176.15 L357.96,176.24 L359.07,176.31 L360.19,176.37 L361.30,176.41 L362.41,176.44 L363.53,176.47 L364.64,176.49 L365.76,176.50 L366.87,176.51 L367.99,176.52 L369.10,176.53 L370.22,176.53 L371.33,176.54 L372.45,176.54 L373.56,176.54" fill="none" stroke="#bf1a40" stroke-width="1.12"/>
<path d="M307.80,140.79 L308.91,140.80 L310.03,140.82 L311.14,140.84 L312.26,140.86 L313.37,140.89 L314.49,140.93 L315.60,140.98 L316.72,141.05 L317.83,141.13 L318.95,141.24 L320.06,141.39 L321.17,141.58 L322.29,141.83 L323.40,142.14 L324.52,142.55 L325.63,143.07 L326.75,143.72 L327.86,144.56 L328.98,145.59 L330.09,146.87 L331.21,148.42 L332.32,150.28 L333.44,152.44 L334.55,154.90 L335.66,157.62 L336.78,160.54 L337.89,163.55 L339.01,166.57 L340.12,169.48 L341.24,172.19 L342.35,174.65 L343.47,176.80 L344.58,178.64 L345.70,180.19 L346.81,181.46 L347.92,182.49 L349.04,183.32 L350.15,183.97 L351.27,184.49 L352.38,184.89 L353.50,185.21 L354.61,185.45 L355.73,185.64 L356.84,185.78 L357.96,185.90 L359.07,185.98 L360.19,186.05 L361.30,186.10 L362.41,186.14 L363.53,186.17 L364.64,186.19 L365.76,186.21 L366.87,186.22 L367.99,186.23 L369.10,186.24 L370.22,186.25 L371.33,186.25 L372.45,186.25 L373.56,186.26" fill="none" stroke="#f0b51a" stroke-width="1.12"/>
<path d="M307.80,140.73 L308.91,140.75 L310.03,140.78 L311.14,140.82 L312.26,140.86 L313.37,140.92 L314.49,140.99 L315.60,141.09 L316.72,141.21 L317.83,141.37 L318.95,141.56 L320.06,141.81 L321.17,142.13 L322.29,142.53 L323.40,143.04 L324.52,143.67 L325.63,144.45 L326.75,145.41 L327.86,146.58 L328.98,147.99 L330.09,149.66 L331.21,151.60 L332.32,153.81 L333.44,156.26 L334.55,158.92 L335.66,161.71 L336.78,164.56 L337.89,167.38 L339.01,170.09 L340.12,172.61 L341.24,174.90 L342.35,176.92 L343.47,178.67 L344.58,180.16 L345.70,181.40 L346.81,182.42 L347.92,183.26 L349.04,183.93 L350.15,184.47 L351.27,184.90 L352.38,185.24 L353.50,185.51 L354.61,185.73 L355.73,185.89 L356.84,186.03 L357.96,186.13 L359.07,186.21 L360.19,186.27 L361.30,186.32 L362.41,186.36 L363.53,186.39 L364.64,186.41 L365.76,186.43 L366.87,186.44 L367.99,186.46 L369.10,186.46 L370.22,186.47 L371.33,186.48 L372.45,186.48 L373.56,186.48" fill="none" stroke="#6e4219" stroke-width="1.12"/>
<circle cx="307.80" cy="135.60" r="1.2" fill="#5aab3c"/>
<circle cx="324.24" cy="137.41" r="1.2" fill="#5aab3c"/>
<circle cx="340.68" cy="132.75" r="1.2" fill="#5aab3c"/>
<circle cx="357.12" cy="139.63" r="1.2" fill="#5aab3c"/>
<circle cx="373.56" cy="170.34" r="1.2" fill="#5aab3c"/>
<circle cx="307.80" cy="141.35" r="1.2" fill="#1f3d8c"/>
<circle cx="324.24" cy="138.36" r="1.2" fill="#1f3d8c"/>
<circle cx="340.68" cy="145.43" r="1.2" fill="#1f3d8c"/>
<circle cx="357.12" cy="176.23" r="1.2" fill="#1f3d8c"/>
<circle cx="373.56" cy="178.05" r="1.2" fill="#1f3d8c"/>
<circle cx="307.80" cy="139.54" r="1.2" fill="#ec8b20"/>
<circle cx="324.24" cy="140.90" r="1.2" fill="#ec8b20"/>
<circle cx="340.68" cy="146.56" r="1.2" fill="#ec8b20"/>
<circle cx="357.12" cy="180.31" r="1.2" fill="#ec8b20"/>
<circle cx="373.56" cy="182.12" r="1.2" fill="#ec8b20"/>
<circle cx="307.80" cy="140.98" r="1.2" fill="#55a7e6"/>
<circle cx="324.24" cy="141.43" r="1.2" fill="#55a7e6"/>
<circle cx="340.68" cy="152.41" r="1.2" fill="#55a7e6"/>
<circle cx="357.12" cy="173.06" r="1.2" fill="#55a7e6"/>
<circle cx="373.56" cy="174.74" r="1.2" fill="#55a7e6"/>
<circle cx="307.80" cy="141.44" r="1.2" fill="#bf1a40"/>
<circle cx="324.24" cy="140.90" r="1.2" fill="#bf1a40"/>
<circle cx="340.68" cy="164.27" r="1.2" fill="#bf1a40"/>
<circle cx="357.12" cy="176.23" r="1.2" fill="#bf1a40"/>
<circle cx="373.56" cy="176.69" r="1.2" fill="#bf1a40"/>
<circle cx="307.80" cy="138.73" r="1.2" fill="#f0b51a"/>
<circle cx="324.24" cy="140.90" r="1.2" fill="#f0b51a"/>
<circle cx="340.68" cy="170.80" r="1.2" fill="#f0b51a"/>
<circle cx="357.12" cy="185.84" r="1.2" fill="#f0b51a"/>
<circle cx="373.56" cy="186.20" r="1.2" fill="#f0b51a"/>
<circle cx="307.80" cy="141.35" r="1.2" fill="#6e4219"/>
<circle cx="324.24" cy="143.16" r="1.2" fill="#6e4219"/>
<circle cx="340.68" cy="182.12" r="1.2" fill="#6e4219"/>
<circle cx="357.12" cy="186.20" r="1.2" fill="#6e4219"/>
<circle cx="373.56" cy="186.20" r="1.2" fill="#6e4219"/>
<line x1="303.40" y1="128.84" x2="303.40" y2="186.70" stroke="#1a1a1a" stroke-width="1.2" stroke-linecap="butt"/>
<line x1="302.80" y1="186.20" x2="385.50" y2="186.20" stroke="#1a1a1a" stroke-width="1.2" stroke-linecap="butt"/>
<line x1="300.40" y1="186.20" x2="303.40" y2="186.20" stroke="#1a1a1a" stroke-width="1.0" stroke-linecap="butt"/>
<text x="297.10" y="188.55" font-size="6.7" text-anchor="end" textLength="3.43" lengthAdjust="spacingAndGlyphs" fill="#222" stroke="#222" stroke-width="0.1">0</text>
<line x1="300.40" y1="177.14" x2="303.40" y2="177.14" stroke="#1a1a1a" stroke-width="1.0" stroke-linecap="butt"/>
<text x="297.10" y="179.49" font-size="6.7" text-anchor="end" textLength="6.86" lengthAdjust="spacingAndGlyphs" fill="#222" stroke="#222" stroke-width="0.1">20</text>
<line x1="300.40" y1="168.08" x2="303.40" y2="168.08" stroke="#1a1a1a" stroke-width="1.0" stroke-linecap="butt"/>
<text x="297.10" y="170.43" font-size="6.7" text-anchor="end" textLength="6.86" lengthAdjust="spacingAndGlyphs" fill="#222" stroke="#222" stroke-width="0.1">40</text>
<line x1="300.40" y1="159.02" x2="303.40" y2="159.02" stroke="#1a1a1a" stroke-width="1.0" stroke-linecap="butt"/>
<text x="297.10" y="161.37" font-size="6.7" text-anchor="end" textLength="6.86" lengthAdjust="spacingAndGlyphs" fill="#222" stroke="#222" stroke-width="0.1">60</text>
<line x1="300.40" y1="149.96" x2="303.40" y2="149.96" stroke="#1a1a1a" stroke-width="1.0" stroke-linecap="butt"/>
<text x="297.10" y="152.31" font-size="6.7" text-anchor="end" textLength="6.86" lengthAdjust="spacingAndGlyphs" fill="#222" stroke="#222" stroke-width="0.1">80</text>
<line x1="300.40" y1="140.90" x2="303.40" y2="140.90" stroke="#1a1a1a" stroke-width="1.0" stroke-linecap="butt"/>
<text x="297.10" y="143.25" font-size="6.7" text-anchor="end" textLength="10.28" lengthAdjust="spacingAndGlyphs" fill="#222" stroke="#222" stroke-width="0.1">100</text>
<line x1="300.40" y1="131.84" x2="303.40" y2="131.84" stroke="#1a1a1a" stroke-width="1.0" stroke-linecap="butt"/>
<text x="297.10" y="134.19" font-size="6.7" text-anchor="end" textLength="10.28" lengthAdjust="spacingAndGlyphs" fill="#222" stroke="#222" stroke-width="0.1">120</text>
<line x1="307.80" y1="186.20" x2="307.80" y2="189.20" stroke="#1a1a1a" stroke-width="1.0" stroke-linecap="butt"/>
<text x="307.80" y="197.90" font-size="6.7" text-anchor="middle" textLength="8.57" lengthAdjust="spacingAndGlyphs" fill="#222" stroke="#222" stroke-width="0.1">0.1</text>
<line x1="324.24" y1="186.20" x2="324.24" y2="189.20" stroke="#1a1a1a" stroke-width="1.0" stroke-linecap="butt"/>
<text x="324.24" y="197.90" font-size="6.7" text-anchor="middle" textLength="3.43" lengthAdjust="spacingAndGlyphs" fill="#222" stroke="#222" stroke-width="0.1">1</text>
<line x1="340.68" y1="186.20" x2="340.68" y2="189.20" stroke="#1a1a1a" stroke-width="1.0" stroke-linecap="butt"/>
<text x="340.68" y="197.90" font-size="6.7" text-anchor="middle" textLength="6.86" lengthAdjust="spacingAndGlyphs" fill="#222" stroke="#222" stroke-width="0.1">10</text>
<line x1="357.12" y1="186.20" x2="357.12" y2="189.20" stroke="#1a1a1a" stroke-width="1.0" stroke-linecap="butt"/>
<text x="357.12" y="197.90" font-size="6.7" text-anchor="middle" textLength="10.28" lengthAdjust="spacingAndGlyphs" fill="#222" stroke="#222" stroke-width="0.1">100</text>
<line x1="373.56" y1="186.20" x2="373.56" y2="189.20" stroke="#1a1a1a" stroke-width="1.0" stroke-linecap="butt"/>
<text x="373.56" y="197.90" font-size="6.7" text-anchor="middle" textLength="13.71" lengthAdjust="spacingAndGlyphs" fill="#222" stroke="#222" stroke-width="0.1">1000</text>
<text x="329.70" y="123.30" font-size="8.1" fill="#111" textLength="27.70" lengthAdjust="spacingAndGlyphs" stroke="#111" stroke-width="0.04">filanesib</text>
<text x="338.60" y="208.50" font-size="8.4" fill="#111" textLength="11.90" lengthAdjust="spacingAndGlyphs" stroke="#111" stroke-width="0.3">[nM]</text>
<text transform="translate(281.80,171.00) rotate(-90)" x="0" y="0" font-size="8.0" textLength="27.00" lengthAdjust="spacingAndGlyphs" fill="#111" stroke="#111" stroke-width="0.22">% viability</text>
<line x1="432.80" y1="181.30" x2="513.10" y2="181.30" stroke="#333" stroke-width="1.1" stroke-dasharray="1.9,1.1" stroke-linecap="butt"/>
<path d="M436.00,181.34 L437.11,181.34 L438.23,181.33 L439.34,181.33 L440.46,181.33 L441.57,181.33 L442.69,181.32 L443.80,181.32 L444.92,181.32 L446.03,181.31 L447.15,181.30 L448.26,181.30 L449.37,181.29 L450.49,181.28 L451.60,181.27 L452.72,181.25 L453.83,181.23 L454.95,181.22 L456.06,181.19 L457.18,181.17 L458.29,181.13 L459.41,181.10 L460.52,181.06 L461.64,181.01 L462.75,180.95 L463.86,180.88 L464.98,180.80 L466.09,180.71 L467.21,180.60 L468.32,180.47 L469.44,180.33 L470.55,180.16 L471.67,179.97 L472.78,179.75 L473.90,179.49 L475.01,179.20 L476.12,178.87 L477.24,178.50 L478.35,178.08 L479.47,177.61 L480.58,177.10 L481.70,176.53 L482.81,175.92 L483.93,175.25 L485.04,174.55 L486.16,173.80 L487.27,173.03 L488.39,172.23 L489.50,171.42 L490.61,170.61 L491.73,169.81 L492.84,169.03 L493.96,168.27 L495.07,167.55 L496.19,166.88 L497.30,166.24 L498.42,165.66 L499.53,165.13 L500.65,164.65 L501.76,164.22" fill="none" stroke="#5aab3c" stroke-width="1.12"/>
<path d="M436.00,181.45 L437.11,181.45 L438.23,181.44 L439.34,181.44 L440.46,181.43 L441.57,181.42 L442.69,181.40 L443.80,181.39 L444.92,181.36 L446.03,181.33 L447.15,181.29 L448.26,181.24 L449.37,181.17 L450.49,181.09 L451.60,180.98 L452.72,180.83 L453.83,180.65 L454.95,180.42 L456.06,180.14 L457.18,179.79 L458.29,179.36 L459.41,178.85 L460.52,178.25 L461.64,177.57 L462.75,176.81 L463.86,176.00 L464.98,175.15 L466.09,174.31 L467.21,173.49 L468.32,172.73 L469.44,172.03 L470.55,171.42 L471.67,170.90 L472.78,170.46 L473.90,170.10 L475.01,169.81 L476.12,169.57 L477.24,169.38 L478.35,169.24 L479.47,169.12 L480.58,169.03 L481.70,168.96 L482.81,168.91 L483.93,168.87 L485.04,168.84 L486.16,168.81 L487.27,168.79 L488.39,168.78 L489.50,168.77 L490.61,168.76 L491.73,168.75 L492.84,168.75 L493.96,168.74 L495.07,168.74 L496.19,168.74 L497.30,168.74 L498.42,168.74 L499.53,168.73 L500.65,168.73 L501.76,168.73" fill="none" stroke="#6e4219" stroke-width="1.12"/>
<path d="M436.00,181.29 L437.11,181.29 L438.23,181.28 L439.34,181.28 L440.46,181.28 L441.57,181.27 L442.69,181.26 L443.80,181.26 L444.92,181.25 L446.03,181.23 L447.15,181.22 L448.26,181.20 L449.37,181.18 L450.49,181.15 L451.60,181.11 L452.72,181.06 L453.83,181.01 L454.95,180.94 L456.06,180.86 L457.18,180.75 L458.29,180.63 L459.41,180.47 L460.52,180.28 L461.64,180.05 L462.75,179.77 L463.86,179.44 L464.98,179.04 L466.09,178.57 L467.21,178.02 L468.32,177.39 L469.44,176.66 L470.55,175.85 L471.67,174.96 L472.78,174.00 L473.90,172.98 L475.01,171.93 L476.12,170.86 L477.24,169.81 L478.35,168.80 L479.47,167.85 L480.58,166.96 L481.70,166.16 L482.81,165.45 L483.93,164.82 L485.04,164.28 L486.16,163.82 L487.27,163.43 L488.39,163.10 L489.50,162.83 L490.61,162.61 L491.73,162.42 L492.84,162.27 L493.96,162.14 L495.07,162.04 L496.19,161.96 L497.30,161.89 L498.42,161.84 L499.53,161.79 L500.65,161.76 L501.76,161.73" fill="none" stroke="#55a7e6" stroke-width="1.12"/>
<path d="M436.00,181.38 L437.11,181.38 L438.23,181.37 L439.34,181.36 L440.46,181.36 L441.57,181.34 L442.69,181.33 L443.80,181.31 L444.92,181.28 L446.03,181.25 L447.15,181.20 L448.26,181.14 L449.37,181.07 L450.49,180.97 L451.60,180.83 L452.72,180.66 L453.83,180.44 L454.95,180.15 L456.06,179.78 L457.18,179.32 L458.29,178.74 L459.41,178.03 L460.52,177.17 L461.64,176.15 L462.75,174.99 L463.86,173.68 L464.98,172.28 L466.09,170.82 L467.21,169.35 L468.32,167.94 L469.44,166.63 L470.55,165.46 L471.67,164.43 L472.78,163.56 L473.90,162.84 L475.01,162.25 L476.12,161.78 L477.24,161.41 L478.35,161.12 L479.47,160.90 L480.58,160.72 L481.70,160.59 L482.81,160.48 L483.93,160.40 L485.04,160.34 L486.16,160.30 L487.27,160.26 L488.39,160.24 L489.50,160.22 L490.61,160.20 L491.73,160.19 L492.84,160.18 L493.96,160.17 L495.07,160.17 L496.19,160.16 L497.30,160.16 L498.42,160.16 L499.53,160.16 L500.65,160.16 L501.76,160.15" fill="none" stroke="#f0b51a" stroke-width="1.12"/>
<path d="M436.00,181.24 L437.11,181.24 L438.23,181.24 L439.34,181.23 L440.46,181.23 L441.57,181.22 L442.69,181.21 L443.80,181.20 L444.92,181.19 L446.03,181.17 L447.15,181.14 L448.26,181.11 L449.37,181.07 L450.49,181.01 L451.60,180.94 L452.72,180.84 L453.83,180.71 L454.95,180.54 L456.06,180.32 L457.18,180.04 L458.29,179.68 L459.41,179.21 L460.52,178.62 L461.64,177.88 L462.75,176.98 L463.86,175.88 L464.98,174.60 L466.09,173.13 L467.21,171.50 L468.32,169.75 L469.44,167.95 L470.55,166.16 L471.67,164.46 L472.78,162.89 L473.90,161.49 L475.01,160.29 L476.12,159.27 L477.24,158.44 L478.35,157.77 L479.47,157.23 L480.58,156.81 L481.70,156.48 L482.81,156.22 L483.93,156.03 L485.04,155.88 L486.16,155.76 L487.27,155.68 L488.39,155.61 L489.50,155.56 L490.61,155.52 L491.73,155.49 L492.84,155.47 L493.96,155.45 L495.07,155.44 L496.19,155.43 L497.30,155.42 L498.42,155.42 L499.53,155.41 L500.65,155.41 L501.76,155.41" fill="none" stroke="#bf1a40" stroke-width="1.12"/>
<path d="M436.00,181.51 L437.11,181.51 L438.23,181.51 L439.34,181.51 L440.46,181.51 L441.57,181.50 L442.69,181.50 L443.80,181.49 L444.92,181.49 L446.03,181.48 L447.15,181.47 L448.26,181.46 L449.37,181.44 L450.49,181.42 L451.60,181.40 L452.72,181.37 L453.83,181.33 L454.95,181.28 L456.06,181.21 L457.18,181.13 L458.29,181.03 L459.41,180.90 L460.52,180.74 L461.64,180.53 L462.75,180.27 L463.86,179.95 L464.98,179.55 L466.09,179.06 L467.21,178.45 L468.32,177.71 L469.44,176.83 L470.55,175.77 L471.67,174.54 L472.78,173.12 L473.90,171.53 L475.01,169.77 L476.12,167.89 L477.24,165.92 L478.35,163.92 L479.47,161.95 L480.58,160.05 L481.70,158.29 L482.81,156.68 L483.93,155.25 L485.04,154.00 L486.16,152.93 L487.27,152.04 L488.39,151.29 L489.50,150.67 L490.61,150.17 L491.73,149.76 L492.84,149.44 L493.96,149.17 L495.07,148.96 L496.19,148.80 L497.30,148.67 L498.42,148.56 L499.53,148.48 L500.65,148.41 L501.76,148.36" fill="none" stroke="#ec8b20" stroke-width="1.12"/>
<path d="M436.00,181.43 L437.11,181.43 L438.23,181.42 L439.34,181.41 L440.46,181.40 L441.57,181.38 L442.69,181.36 L443.80,181.34 L444.92,181.31 L446.03,181.27 L447.15,181.21 L448.26,181.14 L449.37,181.05 L450.49,180.94 L451.60,180.79 L452.72,180.60 L453.83,180.35 L454.95,180.04 L456.06,179.64 L457.18,179.14 L458.29,178.52 L459.41,177.76 L460.52,176.82 L461.64,175.70 L462.75,174.37 L463.86,172.85 L464.98,171.14 L466.09,169.28 L467.21,167.30 L468.32,165.29 L469.44,163.29 L470.55,161.39 L471.67,159.62 L472.78,158.03 L473.90,156.63 L475.01,155.44 L476.12,154.44 L477.24,153.62 L478.35,152.95 L479.47,152.41 L480.58,151.98 L481.70,151.64 L482.81,151.38 L483.93,151.17 L485.04,151.01 L486.16,150.88 L487.27,150.78 L488.39,150.70 L489.50,150.65 L490.61,150.60 L491.73,150.57 L492.84,150.54 L493.96,150.52 L495.07,150.50 L496.19,150.49 L497.30,150.48 L498.42,150.47 L499.53,150.47 L500.65,150.46 L501.76,150.46" fill="none" stroke="#1f3d8c" stroke-width="1.12"/>
<circle cx="436.00" cy="186.33" r="1.2" fill="#5aab3c"/>
<circle cx="452.44" cy="184.31" r="1.2" fill="#5aab3c"/>
<circle cx="468.88" cy="186.33" r="1.2" fill="#5aab3c"/>
<circle cx="485.32" cy="175.27" r="1.2" fill="#5aab3c"/>
<circle cx="501.76" cy="164.22" r="1.2" fill="#5aab3c"/>
<circle cx="436.00" cy="181.45" r="1.2" fill="#6e4219"/>
<circle cx="452.44" cy="180.87" r="1.2" fill="#6e4219"/>
<circle cx="468.88" cy="172.37" r="1.2" fill="#6e4219"/>
<circle cx="485.32" cy="168.83" r="1.2" fill="#6e4219"/>
<circle cx="501.76" cy="168.73" r="1.2" fill="#6e4219"/>
<circle cx="436.00" cy="181.29" r="1.2" fill="#55a7e6"/>
<circle cx="452.44" cy="181.08" r="1.2" fill="#55a7e6"/>
<circle cx="468.88" cy="177.04" r="1.2" fill="#55a7e6"/>
<circle cx="485.32" cy="164.16" r="1.2" fill="#55a7e6"/>
<circle cx="501.76" cy="161.73" r="1.2" fill="#55a7e6"/>
<circle cx="436.00" cy="183.81" r="1.2" fill="#f0b51a"/>
<circle cx="452.44" cy="184.31" r="1.2" fill="#f0b51a"/>
<circle cx="468.88" cy="167.23" r="1.2" fill="#f0b51a"/>
<circle cx="485.32" cy="166.23" r="1.2" fill="#f0b51a"/>
<circle cx="501.76" cy="160.20" r="1.2" fill="#f0b51a"/>
<circle cx="436.00" cy="181.24" r="1.2" fill="#bf1a40"/>
<circle cx="452.44" cy="180.87" r="1.2" fill="#bf1a40"/>
<circle cx="468.88" cy="168.85" r="1.2" fill="#bf1a40"/>
<circle cx="485.32" cy="155.85" r="1.2" fill="#bf1a40"/>
<circle cx="501.76" cy="155.41" r="1.2" fill="#bf1a40"/>
<circle cx="436.00" cy="181.51" r="1.2" fill="#ec8b20"/>
<circle cx="452.44" cy="181.38" r="1.2" fill="#ec8b20"/>
<circle cx="468.88" cy="177.29" r="1.2" fill="#ec8b20"/>
<circle cx="485.32" cy="153.72" r="1.2" fill="#ec8b20"/>
<circle cx="501.76" cy="148.36" r="1.2" fill="#ec8b20"/>
<circle cx="436.00" cy="181.30" r="1.2" fill="#1f3d8c"/>
<circle cx="452.44" cy="182.56" r="1.2" fill="#1f3d8c"/>
<circle cx="468.88" cy="164.22" r="1.2" fill="#1f3d8c"/>
<circle cx="485.32" cy="148.79" r="1.2" fill="#1f3d8c"/>
<circle cx="501.76" cy="151.15" r="1.2" fill="#1f3d8c"/>
<line x1="431.80" y1="128.05" x2="431.80" y2="186.83" stroke="#1a1a1a" stroke-width="1.2" stroke-linecap="butt"/>
<line x1="431.20" y1="186.33" x2="513.60" y2="186.33" stroke="#1a1a1a" stroke-width="1.2" stroke-linecap="butt"/>
<line x1="428.80" y1="181.30" x2="431.80" y2="181.30" stroke="#1a1a1a" stroke-width="1.0" stroke-linecap="butt"/>
<text x="425.50" y="183.65" font-size="6.7" text-anchor="end" textLength="3.43" lengthAdjust="spacingAndGlyphs" fill="#222" stroke="#222" stroke-width="0.1">0</text>
<line x1="428.80" y1="171.25" x2="431.80" y2="171.25" stroke="#1a1a1a" stroke-width="1.0" stroke-linecap="butt"/>
<text x="425.50" y="173.60" font-size="6.7" text-anchor="end" textLength="6.86" lengthAdjust="spacingAndGlyphs" fill="#222" stroke="#222" stroke-width="0.1">20</text>
<line x1="428.80" y1="161.20" x2="431.80" y2="161.20" stroke="#1a1a1a" stroke-width="1.0" stroke-linecap="butt"/>
<text x="425.50" y="163.55" font-size="6.7" text-anchor="end" textLength="6.86" lengthAdjust="spacingAndGlyphs" fill="#222" stroke="#222" stroke-width="0.1">40</text>
<line x1="428.80" y1="151.15" x2="431.80" y2="151.15" stroke="#1a1a1a" stroke-width="1.0" stroke-linecap="butt"/>
<text x="425.50" y="153.50" font-size="6.7" text-anchor="end" textLength="6.86" lengthAdjust="spacingAndGlyphs" fill="#222" stroke="#222" stroke-width="0.1">60</text>
<line x1="428.80" y1="141.10" x2="431.80" y2="141.10" stroke="#1a1a1a" stroke-width="1.0" stroke-linecap="butt"/>
<text x="425.50" y="143.45" font-size="6.7" text-anchor="end" textLength="6.86" lengthAdjust="spacingAndGlyphs" fill="#222" stroke="#222" stroke-width="0.1">80</text>
<line x1="428.80" y1="131.05" x2="431.80" y2="131.05" stroke="#1a1a1a" stroke-width="1.0" stroke-linecap="butt"/>
<text x="425.50" y="133.40" font-size="6.7" text-anchor="end" textLength="10.28" lengthAdjust="spacingAndGlyphs" fill="#222" stroke="#222" stroke-width="0.1">100</text>
<line x1="436.00" y1="186.33" x2="436.00" y2="189.33" stroke="#1a1a1a" stroke-width="1.0" stroke-linecap="butt"/>
<text x="436.00" y="198.03" font-size="6.7" text-anchor="middle" textLength="8.57" lengthAdjust="spacingAndGlyphs" fill="#222" stroke="#222" stroke-width="0.1">0.1</text>
<line x1="452.44" y1="186.33" x2="452.44" y2="189.33" stroke="#1a1a1a" stroke-width="1.0" stroke-linecap="butt"/>
<text x="452.44" y="198.03" font-size="6.7" text-anchor="middle" textLength="3.43" lengthAdjust="spacingAndGlyphs" fill="#222" stroke="#222" stroke-width="0.1">1</text>
<line x1="468.88" y1="186.33" x2="468.88" y2="189.33" stroke="#1a1a1a" stroke-width="1.0" stroke-linecap="butt"/>
<text x="468.88" y="198.03" font-size="6.7" text-anchor="middle" textLength="6.86" lengthAdjust="spacingAndGlyphs" fill="#222" stroke="#222" stroke-width="0.1">10</text>
<line x1="485.32" y1="186.33" x2="485.32" y2="189.33" stroke="#1a1a1a" stroke-width="1.0" stroke-linecap="butt"/>
<text x="485.32" y="198.03" font-size="6.7" text-anchor="middle" textLength="10.28" lengthAdjust="spacingAndGlyphs" fill="#222" stroke="#222" stroke-width="0.1">100</text>
<line x1="501.76" y1="186.33" x2="501.76" y2="189.33" stroke="#1a1a1a" stroke-width="1.0" stroke-linecap="butt"/>
<text x="501.76" y="198.03" font-size="6.7" text-anchor="middle" textLength="13.71" lengthAdjust="spacingAndGlyphs" fill="#222" stroke="#222" stroke-width="0.1">1000</text>
<text x="457.60" y="123.30" font-size="8.1" fill="#111" textLength="27.50" lengthAdjust="spacingAndGlyphs" stroke="#111" stroke-width="0.04">filanesib</text>
<text x="466.00" y="208.50" font-size="8.4" fill="#111" textLength="11.70" lengthAdjust="spacingAndGlyphs" stroke="#111" stroke-width="0.3">[nM]</text>
<text transform="translate(409.60,171.00) rotate(-90)" x="0" y="0" font-size="8.0" textLength="27.00" lengthAdjust="spacingAndGlyphs" fill="#111" stroke="#111" stroke-width="0.22">% toxicity</text>
<line x1="304.30" y1="247.40" x2="386.50" y2="247.40" stroke="#333" stroke-width="1.1" stroke-dasharray="1.9,1.1" stroke-linecap="butt"/>
<path d="M307.80,248.02 L308.91,248.02 L310.03,248.02 L311.14,248.02 L312.26,248.02 L313.37,248.02 L314.49,248.02 L315.60,248.02 L316.72,248.02 L317.83,248.02 L318.95,248.02 L320.06,248.02 L321.17,248.02 L322.29,248.02 L323.40,248.02 L324.52,248.02 L325.63,248.02 L326.75,248.03 L327.86,248.03 L328.98,248.03 L330.09,248.03 L331.21,248.04 L332.32,248.04 L333.44,248.05 L334.55,248.05 L335.66,248.06 L336.78,248.07 L337.89,248.08 L339.01,248.09 L340.12,248.10 L341.24,248.12 L342.35,248.14 L343.47,248.16 L344.58,248.19 L345.70,248.23 L346.81,248.27 L347.92,248.32 L349.04,248.37 L350.15,248.44 L351.27,248.53 L352.38,248.62 L353.50,248.74 L354.61,248.88 L355.73,249.04 L356.84,249.23 L357.96,249.45 L359.07,249.71 L360.19,250.02 L361.30,250.37 L362.41,250.78 L363.53,251.25 L364.64,251.78 L365.76,252.37 L366.87,253.04 L367.99,253.78 L369.10,254.58 L370.22,255.45 L371.33,256.38 L372.45,257.35 L373.56,258.35" fill="none" stroke="#bf1a40" stroke-width="1.12"/>
<path d="M307.80,248.38 L308.91,248.42 L310.03,248.47 L311.14,248.51 L312.26,248.56 L313.37,248.60 L314.49,248.65 L315.60,248.69 L316.72,248.74 L317.83,248.78 L318.95,248.83 L320.06,248.88 L321.17,248.92 L322.29,248.97 L323.40,249.02 L324.52,249.07 L325.63,249.11 L326.75,249.16 L327.86,249.21 L328.98,249.26 L330.09,249.31 L331.21,249.36 L332.32,249.41 L333.44,249.46 L334.55,249.51 L335.66,249.56 L336.78,249.61 L337.89,249.66 L339.01,249.71 L340.12,249.77 L341.24,249.82 L342.35,249.87 L343.47,249.92 L344.58,249.98 L345.70,250.03 L346.81,250.09 L347.92,250.14 L349.04,250.19 L350.15,250.25 L351.27,250.30 L352.38,250.36 L353.50,250.42 L354.61,250.47 L355.73,250.53 L356.84,250.59 L357.96,250.64 L359.07,250.70 L360.19,250.76 L361.30,250.82 L362.41,250.88 L363.53,250.94 L364.64,250.99 L365.76,251.05 L366.87,251.11 L367.99,251.18 L369.10,251.24 L370.22,251.30 L371.33,251.36 L372.45,251.42 L373.56,251.48" fill="none" stroke="#ec8b20" stroke-width="1.12"/>
<path d="M307.80,248.70 L308.91,248.70 L310.03,248.70 L311.14,248.71 L312.26,248.71 L313.37,248.71 L314.49,248.71 L315.60,248.71 L316.72,248.72 L317.83,248.72 L318.95,248.73 L320.06,248.73 L321.17,248.74 L322.29,248.75 L323.40,248.76 L324.52,248.78 L325.63,248.80 L326.75,248.82 L327.86,248.84 L328.98,248.87 L330.09,248.91 L331.21,248.95 L332.32,249.00 L333.44,249.06 L334.55,249.13 L335.66,249.21 L336.78,249.31 L337.89,249.42 L339.01,249.54 L340.12,249.68 L341.24,249.84 L342.35,250.01 L343.47,250.20 L344.58,250.39 L345.70,250.60 L346.81,250.81 L347.92,251.01 L349.04,251.22 L350.15,251.42 L351.27,251.61 L352.38,251.78 L353.50,251.94 L354.61,252.08 L355.73,252.21 L356.84,252.32 L357.96,252.42 L359.07,252.51 L360.19,252.58 L361.30,252.64 L362.41,252.69 L363.53,252.74 L364.64,252.78 L365.76,252.81 L366.87,252.83 L367.99,252.85 L369.10,252.87 L370.22,252.89 L371.33,252.90 L372.45,252.91 L373.56,252.92" fill="none" stroke="#55a7e6" stroke-width="1.12"/>
<path d="M307.80,250.26 L308.91,250.26 L310.03,250.27 L311.14,250.27 L312.26,250.28 L313.37,250.28 L314.49,250.29 L315.60,250.30 L316.72,250.31 L317.83,250.32 L318.95,250.34 L320.06,250.35 L321.17,250.37 L322.29,250.39 L323.40,250.42 L324.52,250.45 L325.63,250.48 L326.75,250.52 L327.86,250.57 L328.98,250.62 L330.09,250.68 L331.21,250.75 L332.32,250.83 L333.44,250.92 L334.55,251.03 L335.66,251.16 L336.78,251.30 L337.89,251.47 L339.01,251.66 L340.12,251.87 L341.24,252.12 L342.35,252.41 L343.47,252.73 L344.58,253.11 L345.70,253.53 L346.81,254.01 L347.92,254.55 L349.04,255.15 L350.15,255.84 L351.27,256.59 L352.38,257.44 L353.50,258.36 L354.61,259.38 L355.73,260.48 L356.84,261.68 L357.96,262.95 L359.07,264.31 L360.19,265.73 L361.30,267.21 L362.41,268.73 L363.53,270.29 L364.64,271.85 L365.76,273.41 L366.87,274.95 L367.99,276.45 L369.10,277.90 L370.22,279.28 L371.33,280.60 L372.45,281.83 L373.56,282.97" fill="none" stroke="#1f3d8c" stroke-width="1.12"/>
<path d="M307.80,248.60 L308.91,248.60 L310.03,248.60 L311.14,248.60 L312.26,248.61 L313.37,248.61 L314.49,248.61 L315.60,248.61 L316.72,248.61 L317.83,248.61 L318.95,248.61 L320.06,248.61 L321.17,248.61 L322.29,248.62 L323.40,248.62 L324.52,248.62 L325.63,248.63 L326.75,248.64 L327.86,248.64 L328.98,248.66 L330.09,248.67 L331.21,248.68 L332.32,248.70 L333.44,248.73 L334.55,248.76 L335.66,248.80 L336.78,248.85 L337.89,248.91 L339.01,248.99 L340.12,249.08 L341.24,249.20 L342.35,249.34 L343.47,249.52 L344.58,249.74 L345.70,250.02 L346.81,250.36 L347.92,250.77 L349.04,251.27 L350.15,251.89 L351.27,252.62 L352.38,253.50 L353.50,254.54 L354.61,255.76 L355.73,257.16 L356.84,258.76 L357.96,260.53 L359.07,262.48 L360.19,264.55 L361.30,266.73 L362.41,268.95 L363.53,271.15 L364.64,273.30 L365.76,275.34 L366.87,277.23 L367.99,278.94 L369.10,280.47 L370.22,281.81 L371.33,282.96 L372.45,283.94 L373.56,284.77" fill="none" stroke="#6e4219" stroke-width="1.12"/>
<path d="M307.80,248.86 L308.91,248.87 L310.03,248.87 L311.14,248.87 L312.26,248.88 L313.37,248.89 L314.49,248.89 L315.60,248.90 L316.72,248.92 L317.83,248.93 L318.95,248.95 L320.06,248.97 L321.17,249.00 L322.29,249.03 L323.40,249.08 L324.52,249.13 L325.63,249.20 L326.75,249.28 L327.86,249.38 L328.98,249.50 L330.09,249.65 L331.21,249.83 L332.32,250.05 L333.44,250.32 L334.55,250.64 L335.66,251.03 L336.78,251.49 L337.89,252.03 L339.01,252.67 L340.12,253.40 L341.24,254.22 L342.35,255.15 L343.47,256.17 L344.58,257.26 L345.70,258.42 L346.81,259.61 L347.92,260.81 L349.04,262.00 L350.15,263.14 L351.27,264.22 L352.38,265.21 L353.50,266.11 L354.61,266.91 L355.73,267.62 L356.84,268.23 L357.96,268.75 L359.07,269.19 L360.19,269.56 L361.30,269.87 L362.41,270.12 L363.53,270.33 L364.64,270.51 L365.76,270.65 L366.87,270.76 L367.99,270.86 L369.10,270.93 L370.22,271.00 L371.33,271.05 L372.45,271.09 L373.56,271.12" fill="none" stroke="#5aab3c" stroke-width="1.12"/>
<path d="M307.80,248.95 L308.91,248.95 L310.03,248.96 L311.14,248.97 L312.26,248.98 L313.37,249.00 L314.49,249.01 L315.60,249.03 L316.72,249.06 L317.83,249.08 L318.95,249.12 L320.06,249.16 L321.17,249.20 L322.29,249.26 L323.40,249.33 L324.52,249.41 L325.63,249.51 L326.75,249.63 L327.86,249.77 L328.98,249.93 L330.09,250.13 L331.21,250.36 L332.32,250.64 L333.44,250.97 L334.55,251.35 L335.66,251.80 L336.78,252.33 L337.89,252.95 L339.01,253.66 L340.12,254.47 L341.24,255.41 L342.35,256.46 L343.47,257.65 L344.58,258.96 L345.70,260.39 L346.81,261.95 L347.92,263.61 L349.04,265.35 L350.15,267.16 L351.27,269.00 L352.38,270.84 L353.50,272.66 L354.61,274.42 L355.73,276.09 L356.84,277.67 L357.96,279.14 L359.07,280.47 L360.19,281.68 L361.30,282.77 L362.41,283.72 L363.53,284.56 L364.64,285.30 L365.76,285.93 L366.87,286.47 L367.99,286.94 L369.10,287.34 L370.22,287.68 L371.33,287.96 L372.45,288.21 L373.56,288.41" fill="none" stroke="#f0b51a" stroke-width="1.12"/>
<circle cx="307.80" cy="248.02" r="1.2" fill="#bf1a40"/>
<circle cx="324.24" cy="248.02" r="1.2" fill="#bf1a40"/>
<circle cx="340.68" cy="248.11" r="1.2" fill="#bf1a40"/>
<circle cx="357.12" cy="249.28" r="1.2" fill="#bf1a40"/>
<circle cx="373.56" cy="258.35" r="1.2" fill="#bf1a40"/>
<circle cx="307.80" cy="248.38" r="1.2" fill="#ec8b20"/>
<circle cx="324.24" cy="249.05" r="1.2" fill="#ec8b20"/>
<circle cx="340.68" cy="249.79" r="1.2" fill="#ec8b20"/>
<circle cx="357.12" cy="250.60" r="1.2" fill="#ec8b20"/>
<circle cx="373.56" cy="251.48" r="1.2" fill="#ec8b20"/>
<circle cx="307.80" cy="248.31" r="1.2" fill="#55a7e6"/>
<circle cx="324.24" cy="249.22" r="1.2" fill="#55a7e6"/>
<circle cx="340.68" cy="247.40" r="1.2" fill="#55a7e6"/>
<circle cx="357.12" cy="252.42" r="1.2" fill="#55a7e6"/>
<circle cx="373.56" cy="252.87" r="1.2" fill="#55a7e6"/>
<circle cx="307.80" cy="250.26" r="1.2" fill="#1f3d8c"/>
<circle cx="324.24" cy="250.44" r="1.2" fill="#1f3d8c"/>
<circle cx="340.68" cy="251.99" r="1.2" fill="#1f3d8c"/>
<circle cx="357.12" cy="261.99" r="1.2" fill="#1f3d8c"/>
<circle cx="373.56" cy="282.97" r="1.2" fill="#1f3d8c"/>
<circle cx="307.80" cy="251.05" r="1.2" fill="#6e4219"/>
<circle cx="324.24" cy="248.77" r="1.2" fill="#6e4219"/>
<circle cx="340.68" cy="248.77" r="1.2" fill="#6e4219"/>
<circle cx="357.12" cy="259.26" r="1.2" fill="#6e4219"/>
<circle cx="373.56" cy="284.79" r="1.2" fill="#6e4219"/>
<circle cx="307.80" cy="248.86" r="1.2" fill="#5aab3c"/>
<circle cx="324.24" cy="249.12" r="1.2" fill="#5aab3c"/>
<circle cx="340.68" cy="253.80" r="1.2" fill="#5aab3c"/>
<circle cx="357.12" cy="268.36" r="1.2" fill="#5aab3c"/>
<circle cx="373.56" cy="271.12" r="1.2" fill="#5aab3c"/>
<circle cx="307.80" cy="248.95" r="1.2" fill="#f0b51a"/>
<circle cx="324.24" cy="249.39" r="1.2" fill="#f0b51a"/>
<circle cx="340.68" cy="254.93" r="1.2" fill="#f0b51a"/>
<circle cx="357.12" cy="278.05" r="1.2" fill="#f0b51a"/>
<circle cx="373.56" cy="288.41" r="1.2" fill="#f0b51a"/>
<line x1="303.30" y1="235.28" x2="303.30" y2="293.50" stroke="#1a1a1a" stroke-width="1.2" stroke-linecap="butt"/>
<line x1="302.70" y1="293.00" x2="385.50" y2="293.00" stroke="#1a1a1a" stroke-width="1.2" stroke-linecap="butt"/>
<line x1="300.30" y1="293.00" x2="303.30" y2="293.00" stroke="#1a1a1a" stroke-width="1.0" stroke-linecap="butt"/>
<text x="297.00" y="295.35" font-size="6.7" text-anchor="end" textLength="3.43" lengthAdjust="spacingAndGlyphs" fill="#222" stroke="#222" stroke-width="0.1">0</text>
<line x1="300.30" y1="283.88" x2="303.30" y2="283.88" stroke="#1a1a1a" stroke-width="1.0" stroke-linecap="butt"/>
<text x="297.00" y="286.23" font-size="6.7" text-anchor="end" textLength="6.86" lengthAdjust="spacingAndGlyphs" fill="#222" stroke="#222" stroke-width="0.1">20</text>
<line x1="300.30" y1="274.76" x2="303.30" y2="274.76" stroke="#1a1a1a" stroke-width="1.0" stroke-linecap="butt"/>
<text x="297.00" y="277.11" font-size="6.7" text-anchor="end" textLength="6.86" lengthAdjust="spacingAndGlyphs" fill="#222" stroke="#222" stroke-width="0.1">40</text>
<line x1="300.30" y1="265.64" x2="303.30" y2="265.64" stroke="#1a1a1a" stroke-width="1.0" stroke-linecap="butt"/>
<text x="297.00" y="267.99" font-size="6.7" text-anchor="end" textLength="6.86" lengthAdjust="spacingAndGlyphs" fill="#222" stroke="#222" stroke-width="0.1">60</text>
<line x1="300.30" y1="256.52" x2="303.30" y2="256.52" stroke="#1a1a1a" stroke-width="1.0" stroke-linecap="butt"/>
<text x="297.00" y="258.87" font-size="6.7" text-anchor="end" textLength="6.86" lengthAdjust="spacingAndGlyphs" fill="#222" stroke="#222" stroke-width="0.1">80</text>
<line x1="300.30" y1="247.40" x2="303.30" y2="247.40" stroke="#1a1a1a" stroke-width="1.0" stroke-linecap="butt"/>
<text x="297.00" y="249.75" font-size="6.7" text-anchor="end" textLength="10.28" lengthAdjust="spacingAndGlyphs" fill="#222" stroke="#222" stroke-width="0.1">100</text>
<line x1="300.30" y1="238.28" x2="303.30" y2="238.28" stroke="#1a1a1a" stroke-width="1.0" stroke-linecap="butt"/>
<text x="297.00" y="240.63" font-size="6.7" text-anchor="end" textLength="10.28" lengthAdjust="spacingAndGlyphs" fill="#222" stroke="#222" stroke-width="0.1">120</text>
<line x1="307.80" y1="293.00" x2="307.80" y2="296.00" stroke="#1a1a1a" stroke-width="1.0" stroke-linecap="butt"/>
<text x="307.80" y="304.70" font-size="6.7" text-anchor="middle" textLength="8.57" lengthAdjust="spacingAndGlyphs" fill="#222" stroke="#222" stroke-width="0.1">0.1</text>
<line x1="324.24" y1="293.00" x2="324.24" y2="296.00" stroke="#1a1a1a" stroke-width="1.0" stroke-linecap="butt"/>
<text x="324.24" y="304.70" font-size="6.7" text-anchor="middle" textLength="3.43" lengthAdjust="spacingAndGlyphs" fill="#222" stroke="#222" stroke-width="0.1">1</text>
<line x1="340.68" y1="293.00" x2="340.68" y2="296.00" stroke="#1a1a1a" stroke-width="1.0" stroke-linecap="butt"/>
<text x="340.68" y="304.70" font-size="6.7" text-anchor="middle" textLength="6.86" lengthAdjust="spacingAndGlyphs" fill="#222" stroke="#222" stroke-width="0.1">10</text>
<line x1="357.12" y1="293.00" x2="357.12" y2="296.00" stroke="#1a1a1a" stroke-width="1.0" stroke-linecap="butt"/>
<text x="357.12" y="304.70" font-size="6.7" text-anchor="middle" textLength="10.28" lengthAdjust="spacingAndGlyphs" fill="#222" stroke="#222" stroke-width="0.1">100</text>
<line x1="373.56" y1="293.00" x2="373.56" y2="296.00" stroke="#1a1a1a" stroke-width="1.0" stroke-linecap="butt"/>
<text x="373.56" y="304.70" font-size="6.7" text-anchor="middle" textLength="13.71" lengthAdjust="spacingAndGlyphs" fill="#222" stroke="#222" stroke-width="0.1">1000</text>
<text x="326.80" y="230.30" font-size="8.1" fill="#111" textLength="34.90" lengthAdjust="spacingAndGlyphs" stroke="#111" stroke-width="0.04">birinapant</text>
<text x="338.60" y="315.30" font-size="8.4" fill="#111" textLength="11.90" lengthAdjust="spacingAndGlyphs" stroke="#111" stroke-width="0.3">[nM]</text>
<text transform="translate(281.80,278.00) rotate(-90)" x="0" y="0" font-size="8.0" textLength="27.00" lengthAdjust="spacingAndGlyphs" fill="#111" stroke="#111" stroke-width="0.22">% viability</text>
<line x1="432.40" y1="288.10" x2="513.10" y2="288.10" stroke="#333" stroke-width="1.1" stroke-dasharray="1.9,1.1" stroke-linecap="butt"/>
<path d="M436.00,288.45 L437.11,288.45 L438.23,288.45 L439.34,288.45 L440.46,288.45 L441.57,288.45 L442.69,288.45 L443.80,288.45 L444.92,288.45 L446.03,288.45 L447.15,288.45 L448.26,288.45 L449.37,288.45 L450.49,288.45 L451.60,288.45 L452.72,288.45 L453.83,288.45 L454.95,288.45 L456.06,288.45 L457.18,288.45 L458.29,288.45 L459.41,288.45 L460.52,288.45 L461.64,288.45 L462.75,288.45 L463.86,288.45 L464.98,288.45 L466.09,288.45 L467.21,288.45 L468.32,288.45 L469.44,288.45 L470.55,288.43 L471.67,288.40 L472.78,288.36 L473.90,288.31 L475.01,288.24 L476.12,288.16 L477.24,288.07 L478.35,287.97 L479.47,287.87 L480.58,287.75 L481.70,287.63 L482.81,287.50 L483.93,287.37 L485.04,287.23 L486.16,287.08 L487.27,286.88 L488.39,286.63 L489.50,286.34 L490.61,286.01 L491.73,285.64 L492.84,285.24 L493.96,284.81 L495.07,284.36 L496.19,283.87 L497.30,283.37 L498.42,282.84 L499.53,282.30 L500.65,281.74 L501.76,281.18" fill="none" stroke="#bf1a40" stroke-width="1.12"/>
<path d="M436.00,287.51 L437.11,287.51 L438.23,287.51 L439.34,287.51 L440.46,287.50 L441.57,287.50 L442.69,287.50 L443.80,287.50 L444.92,287.49 L446.03,287.49 L447.15,287.49 L448.26,287.48 L449.37,287.48 L450.49,287.47 L451.60,287.47 L452.72,287.46 L453.83,287.45 L454.95,287.44 L456.06,287.43 L457.18,287.41 L458.29,287.40 L459.41,287.38 L460.52,287.36 L461.64,287.34 L462.75,287.31 L463.86,287.28 L464.98,287.24 L466.09,287.20 L467.21,287.15 L468.32,287.10 L469.44,287.04 L470.55,286.97 L471.67,286.89 L472.78,286.80 L473.90,286.70 L475.01,286.59 L476.12,286.46 L477.24,286.32 L478.35,286.16 L479.47,285.99 L480.58,285.81 L481.70,285.60 L482.81,285.39 L483.93,285.15 L485.04,284.91 L486.16,284.65 L487.27,284.38 L488.39,284.10 L489.50,283.82 L490.61,283.54 L491.73,283.26 L492.84,282.98 L493.96,282.71 L495.07,282.45 L496.19,282.20 L497.30,281.97 L498.42,281.75 L499.53,281.54 L500.65,281.35 L501.76,281.18" fill="none" stroke="#f0b51a" stroke-width="1.12"/>
<path d="M436.00,284.74 L437.11,284.74 L438.23,284.73 L439.34,284.73 L440.46,284.72 L441.57,284.71 L442.69,284.70 L443.80,284.70 L444.92,284.69 L446.03,284.68 L447.15,284.66 L448.26,284.65 L449.37,284.64 L450.49,284.62 L451.60,284.60 L452.72,284.58 L453.83,284.56 L454.95,284.53 L456.06,284.50 L457.18,284.47 L458.29,284.43 L459.41,284.39 L460.52,284.35 L461.64,284.30 L462.75,284.25 L463.86,284.19 L464.98,284.12 L466.09,284.05 L467.21,283.97 L468.32,283.88 L469.44,283.78 L470.55,283.68 L471.67,283.56 L472.78,283.43 L473.90,283.30 L475.01,283.15 L476.12,282.99 L477.24,282.81 L478.35,282.63 L479.47,282.43 L480.58,282.22 L481.70,281.99 L482.81,281.76 L483.93,281.51 L485.04,281.26 L486.16,280.99 L487.27,280.72 L488.39,280.44 L489.50,280.15 L490.61,279.86 L491.73,279.57 L492.84,279.28 L493.96,278.99 L495.07,278.71 L496.19,278.43 L497.30,278.16 L498.42,277.89 L499.53,277.64 L500.65,277.40 L501.76,277.17" fill="none" stroke="#6e4219" stroke-width="1.12"/>
<path d="M436.00,286.60 L437.11,286.59 L438.23,286.59 L439.34,286.59 L440.46,286.58 L441.57,286.57 L442.69,286.56 L443.80,286.55 L444.92,286.52 L446.03,286.49 L447.15,286.44 L448.26,286.37 L449.37,286.27 L450.49,286.14 L451.60,285.94 L452.72,285.67 L453.83,285.30 L454.95,284.80 L456.06,284.16 L457.18,283.37 L458.29,282.43 L459.41,281.38 L460.52,280.28 L461.64,279.21 L462.75,278.23 L463.86,277.38 L464.98,276.69 L466.09,276.15 L467.21,275.73 L468.32,275.43 L469.44,275.21 L470.55,275.05 L471.67,274.94 L472.78,274.86 L473.90,274.81 L475.01,274.77 L476.12,274.74 L477.24,274.73 L478.35,274.71 L479.47,274.70 L480.58,274.70 L481.70,274.69 L482.81,274.69 L483.93,274.69 L485.04,274.69 L486.16,274.69 L487.27,274.69 L488.39,274.69 L489.50,274.68 L490.61,274.68 L491.73,274.68 L492.84,274.68 L493.96,274.68 L495.07,274.68 L496.19,274.68 L497.30,274.68 L498.42,274.68 L499.53,274.68 L500.65,274.68 L501.76,274.68" fill="none" stroke="#55a7e6" stroke-width="1.12"/>
<path d="M436.00,283.96 L437.11,283.96 L438.23,283.96 L439.34,283.96 L440.46,283.96 L441.57,283.96 L442.69,283.96 L443.80,283.95 L444.92,283.95 L446.03,283.94 L447.15,283.93 L448.26,283.92 L449.37,283.90 L450.49,283.88 L451.60,283.84 L452.72,283.79 L453.83,283.72 L454.95,283.63 L456.06,283.49 L457.18,283.30 L458.29,283.04 L459.41,282.69 L460.52,282.22 L461.64,281.60 L462.75,280.81 L463.86,279.84 L464.98,278.70 L466.09,277.42 L467.21,276.07 L468.32,274.71 L469.44,273.44 L470.55,272.31 L471.67,271.36 L472.78,270.58 L473.90,269.97 L475.01,269.51 L476.12,269.16 L477.24,268.91 L478.35,268.72 L479.47,268.59 L480.58,268.50 L481.70,268.43 L482.81,268.38 L483.93,268.34 L485.04,268.32 L486.16,268.30 L487.27,268.29 L488.39,268.28 L489.50,268.28 L490.61,268.27 L491.73,268.27 L492.84,268.27 L493.96,268.27 L495.07,268.26 L496.19,268.26 L497.30,268.26 L498.42,268.26 L499.53,268.26 L500.65,268.26 L501.76,268.26" fill="none" stroke="#5aab3c" stroke-width="1.12"/>
<path d="M436.00,286.59 L437.11,286.58 L438.23,286.57 L439.34,286.55 L440.46,286.53 L441.57,286.50 L442.69,286.45 L443.80,286.40 L444.92,286.33 L446.03,286.24 L447.15,286.11 L448.26,285.96 L449.37,285.75 L450.49,285.49 L451.60,285.15 L452.72,284.73 L453.83,284.19 L454.95,283.54 L456.06,282.74 L457.18,281.80 L458.29,280.71 L459.41,279.49 L460.52,278.16 L461.64,276.77 L462.75,275.36 L463.86,273.99 L464.98,272.71 L466.09,271.56 L467.21,270.54 L468.32,269.67 L469.44,268.95 L470.55,268.36 L471.67,267.88 L472.78,267.50 L473.90,267.20 L475.01,266.97 L476.12,266.79 L477.24,266.65 L478.35,266.55 L479.47,266.46 L480.58,266.40 L481.70,266.35 L482.81,266.32 L483.93,266.29 L485.04,266.27 L486.16,266.25 L487.27,266.24 L488.39,266.23 L489.50,266.23 L490.61,266.22 L491.73,266.22 L492.84,266.21 L493.96,266.21 L495.07,266.21 L496.19,266.21 L497.30,266.21 L498.42,266.21 L499.53,266.21 L500.65,266.21 L501.76,266.20" fill="none" stroke="#ec8b20" stroke-width="1.12"/>
<path d="M436.00,285.03 L437.11,285.03 L438.23,285.02 L439.34,285.02 L440.46,285.01 L441.57,285.00 L442.69,284.98 L443.80,284.96 L444.92,284.94 L446.03,284.90 L447.15,284.85 L448.26,284.78 L449.37,284.69 L450.49,284.56 L451.60,284.39 L452.72,284.17 L453.83,283.87 L454.95,283.47 L456.06,282.94 L457.18,282.25 L458.29,281.36 L459.41,280.23 L460.52,278.83 L461.64,277.14 L462.75,275.16 L463.86,272.92 L464.98,270.50 L466.09,267.99 L467.21,265.52 L468.32,263.18 L469.44,261.07 L470.55,259.23 L471.67,257.69 L472.78,256.44 L473.90,255.44 L475.01,254.66 L476.12,254.05 L477.24,253.59 L478.35,253.25 L479.47,252.99 L480.58,252.79 L481.70,252.65 L482.81,252.54 L483.93,252.46 L485.04,252.41 L486.16,252.36 L487.27,252.33 L488.39,252.31 L489.50,252.29 L490.61,252.28 L491.73,252.27 L492.84,252.26 L493.96,252.26 L495.07,252.25 L496.19,252.25 L497.30,252.25 L498.42,252.25 L499.53,252.25 L500.65,252.24 L501.76,252.24" fill="none" stroke="#1f3d8c" stroke-width="1.12"/>
<circle cx="436.00" cy="288.45" r="1.2" fill="#bf1a40"/>
<circle cx="452.44" cy="289.10" r="1.2" fill="#bf1a40"/>
<circle cx="468.88" cy="288.45" r="1.2" fill="#bf1a40"/>
<circle cx="485.32" cy="287.20" r="1.2" fill="#bf1a40"/>
<circle cx="501.76" cy="281.08" r="1.2" fill="#bf1a40"/>
<circle cx="436.00" cy="287.51" r="1.2" fill="#f0b51a"/>
<circle cx="452.44" cy="287.46" r="1.2" fill="#f0b51a"/>
<circle cx="468.88" cy="287.07" r="1.2" fill="#f0b51a"/>
<circle cx="485.32" cy="284.84" r="1.2" fill="#f0b51a"/>
<circle cx="501.76" cy="281.18" r="1.2" fill="#f0b51a"/>
<circle cx="436.00" cy="284.74" r="1.2" fill="#6e4219"/>
<circle cx="452.44" cy="284.58" r="1.2" fill="#6e4219"/>
<circle cx="468.88" cy="283.83" r="1.2" fill="#6e4219"/>
<circle cx="485.32" cy="281.19" r="1.2" fill="#6e4219"/>
<circle cx="501.76" cy="277.17" r="1.2" fill="#6e4219"/>
<circle cx="436.00" cy="286.60" r="1.2" fill="#55a7e6"/>
<circle cx="452.44" cy="285.74" r="1.2" fill="#55a7e6"/>
<circle cx="468.88" cy="275.31" r="1.2" fill="#55a7e6"/>
<circle cx="485.32" cy="274.69" r="1.2" fill="#55a7e6"/>
<circle cx="501.76" cy="274.68" r="1.2" fill="#55a7e6"/>
<circle cx="436.00" cy="281.58" r="1.2" fill="#5aab3c"/>
<circle cx="452.44" cy="283.89" r="1.2" fill="#5aab3c"/>
<circle cx="468.88" cy="272.55" r="1.2" fill="#5aab3c"/>
<circle cx="485.32" cy="270.55" r="1.2" fill="#5aab3c"/>
<circle cx="501.76" cy="265.68" r="1.2" fill="#5aab3c"/>
<circle cx="436.00" cy="286.60" r="1.2" fill="#ec8b20"/>
<circle cx="452.44" cy="284.84" r="1.2" fill="#ec8b20"/>
<circle cx="468.88" cy="266.54" r="1.2" fill="#ec8b20"/>
<circle cx="485.32" cy="270.55" r="1.2" fill="#ec8b20"/>
<circle cx="501.76" cy="261.67" r="1.2" fill="#ec8b20"/>
<circle cx="436.00" cy="284.84" r="1.2" fill="#1f3d8c"/>
<circle cx="452.44" cy="284.44" r="1.2" fill="#1f3d8c"/>
<circle cx="468.88" cy="262.02" r="1.2" fill="#1f3d8c"/>
<circle cx="485.32" cy="254.75" r="1.2" fill="#1f3d8c"/>
<circle cx="501.76" cy="250.19" r="1.2" fill="#1f3d8c"/>
<line x1="431.40" y1="234.95" x2="431.40" y2="293.62" stroke="#1a1a1a" stroke-width="1.2" stroke-linecap="butt"/>
<line x1="430.80" y1="293.12" x2="513.60" y2="293.12" stroke="#1a1a1a" stroke-width="1.2" stroke-linecap="butt"/>
<line x1="428.40" y1="288.10" x2="431.40" y2="288.10" stroke="#1a1a1a" stroke-width="1.0" stroke-linecap="butt"/>
<text x="425.10" y="290.45" font-size="6.7" text-anchor="end" textLength="3.43" lengthAdjust="spacingAndGlyphs" fill="#222" stroke="#222" stroke-width="0.1">0</text>
<line x1="428.40" y1="278.07" x2="431.40" y2="278.07" stroke="#1a1a1a" stroke-width="1.0" stroke-linecap="butt"/>
<text x="425.10" y="280.42" font-size="6.7" text-anchor="end" textLength="6.86" lengthAdjust="spacingAndGlyphs" fill="#222" stroke="#222" stroke-width="0.1">20</text>
<line x1="428.40" y1="268.04" x2="431.40" y2="268.04" stroke="#1a1a1a" stroke-width="1.0" stroke-linecap="butt"/>
<text x="425.10" y="270.39" font-size="6.7" text-anchor="end" textLength="6.86" lengthAdjust="spacingAndGlyphs" fill="#222" stroke="#222" stroke-width="0.1">40</text>
<line x1="428.40" y1="258.01" x2="431.40" y2="258.01" stroke="#1a1a1a" stroke-width="1.0" stroke-linecap="butt"/>
<text x="425.10" y="260.36" font-size="6.7" text-anchor="end" textLength="6.86" lengthAdjust="spacingAndGlyphs" fill="#222" stroke="#222" stroke-width="0.1">60</text>
<line x1="428.40" y1="247.98" x2="431.40" y2="247.98" stroke="#1a1a1a" stroke-width="1.0" stroke-linecap="butt"/>
<text x="425.10" y="250.33" font-size="6.7" text-anchor="end" textLength="6.86" lengthAdjust="spacingAndGlyphs" fill="#222" stroke="#222" stroke-width="0.1">80</text>
<line x1="428.40" y1="237.95" x2="431.40" y2="237.95" stroke="#1a1a1a" stroke-width="1.0" stroke-linecap="butt"/>
<text x="425.10" y="240.30" font-size="6.7" text-anchor="end" textLength="10.28" lengthAdjust="spacingAndGlyphs" fill="#222" stroke="#222" stroke-width="0.1">100</text>
<line x1="436.00" y1="293.12" x2="436.00" y2="296.12" stroke="#1a1a1a" stroke-width="1.0" stroke-linecap="butt"/>
<text x="436.00" y="304.81" font-size="6.7" text-anchor="middle" textLength="8.57" lengthAdjust="spacingAndGlyphs" fill="#222" stroke="#222" stroke-width="0.1">0.1</text>
<line x1="452.44" y1="293.12" x2="452.44" y2="296.12" stroke="#1a1a1a" stroke-width="1.0" stroke-linecap="butt"/>
<text x="452.44" y="304.81" font-size="6.7" text-anchor="middle" textLength="3.43" lengthAdjust="spacingAndGlyphs" fill="#222" stroke="#222" stroke-width="0.1">1</text>
<line x1="468.88" y1="293.12" x2="468.88" y2="296.12" stroke="#1a1a1a" stroke-width="1.0" stroke-linecap="butt"/>
<text x="468.88" y="304.81" font-size="6.7" text-anchor="middle" textLength="6.86" lengthAdjust="spacingAndGlyphs" fill="#222" stroke="#222" stroke-width="0.1">10</text>
<line x1="485.32" y1="293.12" x2="485.32" y2="296.12" stroke="#1a1a1a" stroke-width="1.0" stroke-linecap="butt"/>
<text x="485.32" y="304.81" font-size="6.7" text-anchor="middle" textLength="10.28" lengthAdjust="spacingAndGlyphs" fill="#222" stroke="#222" stroke-width="0.1">100</text>
<line x1="501.76" y1="293.12" x2="501.76" y2="296.12" stroke="#1a1a1a" stroke-width="1.0" stroke-linecap="butt"/>
<text x="501.76" y="304.81" font-size="6.7" text-anchor="middle" textLength="13.71" lengthAdjust="spacingAndGlyphs" fill="#222" stroke="#222" stroke-width="0.1">1000</text>
<text x="454.70" y="230.30" font-size="8.1" fill="#111" textLength="34.90" lengthAdjust="spacingAndGlyphs" stroke="#111" stroke-width="0.04">birinapant</text>
<text x="466.00" y="315.30" font-size="8.4" fill="#111" textLength="11.70" lengthAdjust="spacingAndGlyphs" stroke="#111" stroke-width="0.3">[nM]</text>
<text transform="translate(409.60,278.00) rotate(-90)" x="0" y="0" font-size="8.0" textLength="27.00" lengthAdjust="spacingAndGlyphs" fill="#111" stroke="#111" stroke-width="0.22">% toxicity</text>
<line x1="304.30" y1="353.80" x2="386.50" y2="353.80" stroke="#333" stroke-width="1.1" stroke-dasharray="1.9,1.1" stroke-linecap="butt"/>
<path d="M307.80,357.32 L308.64,357.33 L309.47,357.35 L310.31,357.36 L311.14,357.38 L311.98,357.40 L312.82,357.43 L313.65,357.47 L314.49,357.52 L315.32,357.57 L316.16,357.65 L317.00,357.74 L317.83,357.86 L318.67,358.00 L319.50,358.19 L320.34,358.42 L321.17,358.70 L322.01,359.05 L322.85,359.49 L323.68,360.03 L324.52,360.68 L325.35,361.48 L326.19,362.44 L327.03,363.58 L327.86,364.92 L328.70,366.47 L329.53,368.24 L330.37,370.20 L331.21,372.35 L332.04,374.63 L332.88,377.00 L333.71,379.39 L334.55,381.75 L335.39,384.01 L336.22,386.12 L337.06,388.04 L337.89,389.76 L338.73,391.27 L339.57,392.57 L340.40,393.67 L341.24,394.59 L342.07,395.36 L342.91,395.99 L343.75,396.50 L344.58,396.92 L345.42,397.26 L346.25,397.53 L347.09,397.75 L347.92,397.92 L348.76,398.06 L349.60,398.17 L350.43,398.26 L351.27,398.33 L352.10,398.39 L352.94,398.43 L353.78,398.47 L354.61,398.49 L355.45,398.52 L356.28,398.53 L357.12,398.55" fill="none" stroke="#5aab3c" stroke-width="1.12"/>
<path d="M307.80,350.50 L308.91,350.56 L310.03,350.62 L311.14,350.70 L312.26,350.80 L313.37,350.93 L314.49,351.09 L315.60,351.28 L316.72,351.52 L317.83,351.82 L318.95,352.19 L320.06,352.64 L321.17,353.19 L322.29,353.85 L323.40,354.66 L324.52,355.63 L325.63,356.78 L326.75,358.14 L327.86,359.72 L328.98,361.52 L330.09,363.56 L331.21,365.80 L332.32,368.24 L333.44,370.82 L334.55,373.49 L335.66,376.19 L336.78,378.84 L337.89,381.39 L339.01,383.79 L340.12,386.00 L341.24,387.98 L342.35,389.74 L343.47,391.27 L344.58,392.58 L345.70,393.69 L346.81,394.63 L347.92,395.40 L349.04,396.04 L350.15,396.57 L351.27,397.00 L352.38,397.35 L353.50,397.64 L354.61,397.87 L355.73,398.05 L356.84,398.20 L357.96,398.32 L359.07,398.42 L360.19,398.50 L361.30,398.56 L362.41,398.61 L363.53,398.65 L364.64,398.68 L365.76,398.71 L366.87,398.73 L367.99,398.75 L369.10,398.76 L370.22,398.77 L371.33,398.78 L372.45,398.79 L373.56,398.79" fill="none" stroke="#6e4219" stroke-width="1.12"/>
<path d="M307.80,351.96 L308.91,352.04 L310.03,352.14 L311.14,352.24 L312.26,352.36 L313.37,352.49 L314.49,352.65 L315.60,352.82 L316.72,353.02 L317.83,353.24 L318.95,353.49 L320.06,353.78 L321.17,354.10 L322.29,354.46 L323.40,354.87 L324.52,355.32 L325.63,355.83 L326.75,356.39 L327.86,357.02 L328.98,357.71 L330.09,358.48 L331.21,359.32 L332.32,360.24 L333.44,361.23 L334.55,362.31 L335.66,363.47 L336.78,364.70 L337.89,366.01 L339.01,367.38 L340.12,368.82 L341.24,370.31 L342.35,371.83 L343.47,373.38 L344.58,374.95 L345.70,376.52 L346.81,378.07 L347.92,379.60 L349.04,381.08 L350.15,382.52 L351.27,383.89 L352.38,385.20 L353.50,386.44 L354.61,387.59 L355.73,388.67 L356.84,389.67 L357.96,390.58 L359.07,391.42 L360.19,392.19 L361.30,392.88 L362.41,393.51 L363.53,394.08 L364.64,394.58 L365.76,395.04 L366.87,395.44 L367.99,395.80 L369.10,396.13 L370.22,396.41 L371.33,396.66 L372.45,396.89 L373.56,397.08" fill="none" stroke="#55a7e6" stroke-width="1.12"/>
<path d="M307.80,353.39 L308.91,353.45 L310.03,353.53 L311.14,353.61 L312.26,353.71 L313.37,353.82 L314.49,353.94 L315.60,354.08 L316.72,354.24 L317.83,354.42 L318.95,354.62 L320.06,354.85 L321.17,355.11 L322.29,355.40 L323.40,355.73 L324.52,356.09 L325.63,356.50 L326.75,356.95 L327.86,357.46 L328.98,358.02 L330.09,358.64 L331.21,359.32 L332.32,360.07 L333.44,360.88 L334.55,361.76 L335.66,362.71 L336.78,363.73 L337.89,364.82 L339.01,365.98 L340.12,367.19 L341.24,368.45 L342.35,369.76 L343.47,371.10 L344.58,372.47 L345.70,373.84 L346.81,375.23 L347.92,376.60 L349.04,377.94 L350.15,379.26 L351.27,380.53 L352.38,381.75 L353.50,382.92 L354.61,384.02 L355.73,385.05 L356.84,386.02 L357.96,386.91 L359.07,387.74 L360.19,388.50 L361.30,389.19 L362.41,389.82 L363.53,390.39 L364.64,390.91 L365.76,391.37 L366.87,391.79 L367.99,392.16 L369.10,392.50 L370.22,392.79 L371.33,393.06 L372.45,393.29 L373.56,393.50" fill="none" stroke="#ec8b20" stroke-width="1.12"/>
<path d="M307.80,352.08 L308.91,352.36 L310.03,352.66 L311.14,352.96 L312.26,353.26 L313.37,353.57 L314.49,353.88 L315.60,354.20 L316.72,354.52 L317.83,354.85 L318.95,355.19 L320.06,355.53 L321.17,355.88 L322.29,356.23 L323.40,356.59 L324.52,356.96 L325.63,357.33 L326.75,357.71 L327.86,358.09 L328.98,358.48 L330.09,358.88 L331.21,359.28 L332.32,359.70 L333.44,360.12 L334.55,360.54 L335.66,360.98 L336.78,361.42 L337.89,361.87 L339.01,362.32 L340.12,362.79 L341.24,363.26 L342.35,363.74 L343.47,364.23 L344.58,364.72 L345.70,365.23 L346.81,365.74 L347.92,366.27 L349.04,366.80 L350.15,367.34 L351.27,367.89 L352.38,368.45 L353.50,369.02 L354.61,369.60 L355.73,370.19 L356.84,370.79 L357.96,371.40 L359.07,372.02 L360.19,372.65 L361.30,373.29 L362.41,373.94 L363.53,374.61 L364.64,375.28 L365.76,375.97 L366.87,376.67 L367.99,377.38 L369.10,378.10 L370.22,378.84 L371.33,379.59 L372.45,380.35 L373.56,381.12" fill="none" stroke="#1f3d8c" stroke-width="1.12"/>
<path d="M307.80,353.40 L308.91,353.41 L310.03,353.41 L311.14,353.42 L312.26,353.43 L313.37,353.44 L314.49,353.46 L315.60,353.47 L316.72,353.49 L317.83,353.51 L318.95,353.54 L320.06,353.57 L321.17,353.61 L322.29,353.65 L323.40,353.70 L324.52,353.75 L325.63,353.82 L326.75,353.90 L327.86,353.99 L328.98,354.10 L330.09,354.22 L331.21,354.36 L332.32,354.53 L333.44,354.73 L334.55,354.95 L335.66,355.21 L336.78,355.52 L337.89,355.86 L339.01,356.26 L340.12,356.72 L341.24,357.24 L342.35,357.83 L343.47,358.49 L344.58,359.24 L345.70,360.08 L346.81,361.00 L347.92,362.02 L349.04,363.13 L350.15,364.32 L351.27,365.60 L352.38,366.95 L353.50,368.37 L354.61,369.83 L355.73,371.32 L356.84,372.82 L357.96,374.31 L359.07,375.78 L360.19,377.20 L361.30,378.56 L362.41,379.86 L363.53,381.07 L364.64,382.20 L365.76,383.23 L366.87,384.17 L367.99,385.02 L369.10,385.79 L370.22,386.47 L371.33,387.08 L372.45,387.61 L373.56,388.08" fill="none" stroke="#bf1a40" stroke-width="1.12"/>
<path d="M307.80,354.75 L308.91,354.78 L310.03,354.81 L311.14,354.84 L312.26,354.88 L313.37,354.92 L314.49,354.97 L315.60,355.01 L316.72,355.06 L317.83,355.12 L318.95,355.18 L320.06,355.24 L321.17,355.31 L322.29,355.38 L323.40,355.46 L324.52,355.55 L325.63,355.64 L326.75,355.74 L327.86,355.85 L328.98,355.97 L330.09,356.09 L331.21,356.23 L332.32,356.37 L333.44,356.53 L334.55,356.70 L335.66,356.88 L336.78,357.08 L337.89,357.29 L339.01,357.52 L340.12,357.77 L341.24,358.03 L342.35,358.32 L343.47,358.63 L344.58,358.96 L345.70,359.32 L346.81,359.71 L347.92,360.12 L349.04,360.57 L350.15,361.06 L351.27,361.58 L352.38,362.14 L353.50,362.75 L354.61,363.40 L355.73,364.11 L356.84,364.87 L357.96,365.69 L359.07,366.57 L360.19,367.52 L361.30,368.55 L362.41,369.65 L363.53,370.84 L364.64,372.13 L365.76,373.51 L366.87,375.00 L367.99,376.61 L369.10,378.34 L370.22,380.21 L371.33,382.22 L372.45,384.39 L373.56,386.72" fill="none" stroke="#f0b51a" stroke-width="1.12"/>
<circle cx="307.80" cy="357.86" r="1.2" fill="#5aab3c"/>
<circle cx="324.24" cy="361.02" r="1.2" fill="#5aab3c"/>
<circle cx="340.68" cy="398.90" r="1.2" fill="#5aab3c"/>
<circle cx="307.80" cy="350.50" r="1.2" fill="#6e4219"/>
<circle cx="324.24" cy="355.37" r="1.2" fill="#6e4219"/>
<circle cx="340.68" cy="387.02" r="1.2" fill="#6e4219"/>
<circle cx="357.12" cy="398.23" r="1.2" fill="#6e4219"/>
<circle cx="373.56" cy="398.79" r="1.2" fill="#6e4219"/>
<circle cx="307.80" cy="351.96" r="1.2" fill="#55a7e6"/>
<circle cx="324.24" cy="355.20" r="1.2" fill="#55a7e6"/>
<circle cx="340.68" cy="369.56" r="1.2" fill="#55a7e6"/>
<circle cx="357.12" cy="389.90" r="1.2" fill="#55a7e6"/>
<circle cx="373.56" cy="397.08" r="1.2" fill="#55a7e6"/>
<circle cx="307.80" cy="353.39" r="1.2" fill="#ec8b20"/>
<circle cx="324.24" cy="356.00" r="1.2" fill="#ec8b20"/>
<circle cx="340.68" cy="367.81" r="1.2" fill="#ec8b20"/>
<circle cx="357.12" cy="386.25" r="1.2" fill="#ec8b20"/>
<circle cx="373.56" cy="393.50" r="1.2" fill="#ec8b20"/>
<circle cx="307.80" cy="352.45" r="1.2" fill="#1f3d8c"/>
<circle cx="324.24" cy="355.60" r="1.2" fill="#1f3d8c"/>
<circle cx="340.68" cy="365.07" r="1.2" fill="#1f3d8c"/>
<circle cx="357.12" cy="368.68" r="1.2" fill="#1f3d8c"/>
<circle cx="373.56" cy="381.31" r="1.2" fill="#1f3d8c"/>
<circle cx="307.80" cy="353.40" r="1.2" fill="#bf1a40"/>
<circle cx="324.24" cy="353.74" r="1.2" fill="#bf1a40"/>
<circle cx="340.68" cy="356.97" r="1.2" fill="#bf1a40"/>
<circle cx="357.12" cy="373.19" r="1.2" fill="#bf1a40"/>
<circle cx="373.56" cy="388.08" r="1.2" fill="#bf1a40"/>
<circle cx="307.80" cy="354.75" r="1.2" fill="#f0b51a"/>
<circle cx="324.24" cy="355.53" r="1.2" fill="#f0b51a"/>
<circle cx="340.68" cy="357.90" r="1.2" fill="#f0b51a"/>
<circle cx="357.12" cy="365.07" r="1.2" fill="#f0b51a"/>
<circle cx="373.56" cy="386.72" r="1.2" fill="#f0b51a"/>
<line x1="303.30" y1="341.78" x2="303.30" y2="399.40" stroke="#1a1a1a" stroke-width="1.2" stroke-linecap="butt"/>
<line x1="302.70" y1="398.90" x2="385.50" y2="398.90" stroke="#1a1a1a" stroke-width="1.2" stroke-linecap="butt"/>
<line x1="300.30" y1="398.90" x2="303.30" y2="398.90" stroke="#1a1a1a" stroke-width="1.0" stroke-linecap="butt"/>
<text x="297.00" y="401.25" font-size="6.7" text-anchor="end" textLength="3.43" lengthAdjust="spacingAndGlyphs" fill="#222" stroke="#222" stroke-width="0.1">0</text>
<line x1="300.30" y1="389.88" x2="303.30" y2="389.88" stroke="#1a1a1a" stroke-width="1.0" stroke-linecap="butt"/>
<text x="297.00" y="392.23" font-size="6.7" text-anchor="end" textLength="6.86" lengthAdjust="spacingAndGlyphs" fill="#222" stroke="#222" stroke-width="0.1">20</text>
<line x1="300.30" y1="380.86" x2="303.30" y2="380.86" stroke="#1a1a1a" stroke-width="1.0" stroke-linecap="butt"/>
<text x="297.00" y="383.21" font-size="6.7" text-anchor="end" textLength="6.86" lengthAdjust="spacingAndGlyphs" fill="#222" stroke="#222" stroke-width="0.1">40</text>
<line x1="300.30" y1="371.84" x2="303.30" y2="371.84" stroke="#1a1a1a" stroke-width="1.0" stroke-linecap="butt"/>
<text x="297.00" y="374.19" font-size="6.7" text-anchor="end" textLength="6.86" lengthAdjust="spacingAndGlyphs" fill="#222" stroke="#222" stroke-width="0.1">60</text>
<line x1="300.30" y1="362.82" x2="303.30" y2="362.82" stroke="#1a1a1a" stroke-width="1.0" stroke-linecap="butt"/>
<text x="297.00" y="365.17" font-size="6.7" text-anchor="end" textLength="6.86" lengthAdjust="spacingAndGlyphs" fill="#222" stroke="#222" stroke-width="0.1">80</text>
<line x1="300.30" y1="353.80" x2="303.30" y2="353.80" stroke="#1a1a1a" stroke-width="1.0" stroke-linecap="butt"/>
<text x="297.00" y="356.15" font-size="6.7" text-anchor="end" textLength="10.28" lengthAdjust="spacingAndGlyphs" fill="#222" stroke="#222" stroke-width="0.1">100</text>
<line x1="300.30" y1="344.78" x2="303.30" y2="344.78" stroke="#1a1a1a" stroke-width="1.0" stroke-linecap="butt"/>
<text x="297.00" y="347.13" font-size="6.7" text-anchor="end" textLength="10.28" lengthAdjust="spacingAndGlyphs" fill="#222" stroke="#222" stroke-width="0.1">120</text>
<line x1="307.80" y1="398.90" x2="307.80" y2="401.90" stroke="#1a1a1a" stroke-width="1.0" stroke-linecap="butt"/>
<text x="307.80" y="410.60" font-size="6.7" text-anchor="middle" textLength="3.43" lengthAdjust="spacingAndGlyphs" fill="#222" stroke="#222" stroke-width="0.1">1</text>
<line x1="324.24" y1="398.90" x2="324.24" y2="401.90" stroke="#1a1a1a" stroke-width="1.0" stroke-linecap="butt"/>
<text x="324.24" y="410.60" font-size="6.7" text-anchor="middle" textLength="6.86" lengthAdjust="spacingAndGlyphs" fill="#222" stroke="#222" stroke-width="0.1">10</text>
<line x1="340.68" y1="398.90" x2="340.68" y2="401.90" stroke="#1a1a1a" stroke-width="1.0" stroke-linecap="butt"/>
<text x="340.68" y="410.60" font-size="6.7" text-anchor="middle" textLength="10.28" lengthAdjust="spacingAndGlyphs" fill="#222" stroke="#222" stroke-width="0.1">100</text>
<line x1="357.12" y1="398.90" x2="357.12" y2="401.90" stroke="#1a1a1a" stroke-width="1.0" stroke-linecap="butt"/>
<text x="357.12" y="410.60" font-size="6.7" text-anchor="middle" textLength="13.71" lengthAdjust="spacingAndGlyphs" fill="#222" stroke="#222" stroke-width="0.1">1000</text>
<line x1="373.56" y1="398.90" x2="373.56" y2="401.90" stroke="#1a1a1a" stroke-width="1.0" stroke-linecap="butt"/>
<text x="373.56" y="410.60" font-size="6.7" text-anchor="middle" textLength="17.14" lengthAdjust="spacingAndGlyphs" fill="#222" stroke="#222" stroke-width="0.1">10000</text>
<text x="326.80" y="337.10" font-size="8.1" fill="#111" textLength="34.90" lengthAdjust="spacingAndGlyphs" stroke="#111" stroke-width="0.04">navitoclax</text>
<text x="338.60" y="421.50" font-size="8.4" fill="#111" textLength="11.90" lengthAdjust="spacingAndGlyphs" stroke="#111" stroke-width="0.3">[nM]</text>
<text transform="translate(281.80,385.00) rotate(-90)" x="0" y="0" font-size="8.0" textLength="28.00" lengthAdjust="spacingAndGlyphs" fill="#111" stroke="#111" stroke-width="0.22">% viability</text>
<line x1="432.80" y1="394.40" x2="513.10" y2="394.40" stroke="#333" stroke-width="1.1" stroke-dasharray="1.9,1.1" stroke-linecap="butt"/>
<path d="M436.00,394.43 L437.11,394.43 L438.23,394.43 L439.34,394.42 L440.46,394.42 L441.57,394.42 L442.69,394.42 L443.80,394.41 L444.92,394.41 L446.03,394.40 L447.15,394.40 L448.26,394.39 L449.37,394.38 L450.49,394.37 L451.60,394.37 L452.72,394.35 L453.83,394.34 L454.95,394.33 L456.06,394.31 L457.18,394.30 L458.29,394.28 L459.41,394.26 L460.52,394.23 L461.64,394.20 L462.75,394.17 L463.86,394.14 L464.98,394.10 L466.09,394.05 L467.21,394.00 L468.32,393.94 L469.44,393.88 L470.55,393.80 L471.67,393.72 L472.78,393.63 L473.90,393.52 L475.01,393.40 L476.12,393.27 L477.24,393.12 L478.35,392.95 L479.47,392.76 L480.58,392.54 L481.70,392.30 L482.81,392.03 L483.93,391.72 L485.04,391.38 L486.16,391.00 L487.27,390.57 L488.39,390.08 L489.50,389.54 L490.61,388.94 L491.73,388.27 L492.84,387.52 L493.96,386.68 L495.07,385.76 L496.19,384.73 L497.30,383.60 L498.42,382.36 L499.53,380.99 L500.65,379.49 L501.76,377.85" fill="none" stroke="#f0b51a" stroke-width="1.12"/>
<path d="M436.00,395.64 L437.11,395.64 L438.23,395.64 L439.34,395.64 L440.46,395.64 L441.57,395.64 L442.69,395.64 L443.80,395.63 L444.92,395.63 L446.03,395.62 L447.15,395.62 L448.26,395.61 L449.37,395.60 L450.49,395.59 L451.60,395.57 L452.72,395.54 L453.83,395.52 L454.95,395.48 L456.06,395.43 L457.18,395.37 L458.29,395.29 L459.41,395.18 L460.52,395.05 L461.64,394.89 L462.75,394.69 L463.86,394.44 L464.98,394.13 L466.09,393.75 L467.21,393.30 L468.32,392.78 L469.44,392.19 L470.55,391.52 L471.67,390.80 L472.78,390.05 L473.90,389.29 L475.01,388.54 L476.12,387.83 L477.24,387.17 L478.35,386.58 L479.47,386.07 L480.58,385.63 L481.70,385.26 L482.81,384.95 L483.93,384.71 L485.04,384.51 L486.16,384.35 L487.27,384.22 L488.39,384.12 L489.50,384.05 L490.61,383.98 L491.73,383.94 L492.84,383.90 L493.96,383.87 L495.07,383.85 L496.19,383.83 L497.30,383.82 L498.42,383.81 L499.53,383.80 L500.65,383.79 L501.76,383.79" fill="none" stroke="#bf1a40" stroke-width="1.12"/>
<path d="M436.00,397.91 L437.11,397.43 L438.23,396.96 L439.34,396.48 L440.46,396.01 L441.57,395.53 L442.69,395.05 L443.80,394.58 L444.92,394.10 L446.03,393.63 L447.15,393.15 L448.26,392.67 L449.37,392.20 L450.49,391.72 L451.60,391.25 L452.72,390.77 L453.83,390.25 L454.95,389.68 L456.06,389.08 L457.18,388.45 L458.29,387.82 L459.41,387.19 L460.52,386.58 L461.64,385.99 L462.75,385.46 L463.86,384.98 L464.98,384.57 L466.09,384.24 L467.21,384.01 L468.32,383.88 L469.44,383.87 L470.55,383.87 L471.67,383.87 L472.78,383.87 L473.90,383.87 L475.01,383.87 L476.12,383.87 L477.24,383.87 L478.35,383.87 L479.47,383.87 L480.58,383.87 L481.70,383.87 L482.81,383.87 L483.93,383.87 L485.04,383.87 L486.16,383.87 L487.27,383.88 L488.39,383.89 L489.50,383.91 L490.61,383.94 L491.73,383.97 L492.84,384.00 L493.96,384.04 L495.07,384.08 L496.19,384.12 L497.30,384.17 L498.42,384.22 L499.53,384.27 L500.65,384.32 L501.76,384.37" fill="none" stroke="#6e4219" stroke-width="1.12"/>
<path d="M436.00,395.36 L437.11,395.16 L438.23,394.94 L439.34,394.72 L440.46,394.50 L441.57,394.27 L442.69,394.04 L443.80,393.80 L444.92,393.56 L446.03,393.31 L447.15,393.05 L448.26,392.79 L449.37,392.52 L450.49,392.25 L451.60,391.97 L452.72,391.69 L453.83,391.40 L454.95,391.10 L456.06,390.80 L457.18,390.49 L458.29,390.18 L459.41,389.86 L460.52,389.53 L461.64,389.20 L462.75,388.86 L463.86,388.52 L464.98,388.17 L466.09,387.81 L467.21,387.45 L468.32,387.08 L469.44,386.70 L470.55,386.32 L471.67,385.93 L472.78,385.54 L473.90,385.14 L475.01,384.73 L476.12,384.32 L477.24,383.90 L478.35,383.47 L479.47,383.04 L480.58,382.60 L481.70,382.16 L482.81,381.71 L483.93,381.26 L485.04,380.80 L486.16,380.33 L487.27,379.86 L488.39,379.39 L489.50,378.90 L490.61,378.42 L491.73,377.93 L492.84,377.43 L493.96,376.93 L495.07,376.43 L496.19,375.92 L497.30,375.41 L498.42,374.89 L499.53,374.37 L500.65,373.85 L501.76,373.32" fill="none" stroke="#1f3d8c" stroke-width="1.12"/>
<path d="M436.00,395.36 L437.11,395.20 L438.23,395.01 L439.34,394.80 L440.46,394.57 L441.57,394.30 L442.69,394.01 L443.80,393.68 L444.92,393.32 L446.03,392.92 L447.15,392.48 L448.26,392.00 L449.37,391.47 L450.49,390.89 L451.60,390.26 L452.72,389.59 L453.83,388.86 L454.95,388.09 L456.06,387.27 L457.18,386.41 L458.29,385.50 L459.41,384.56 L460.52,383.60 L461.64,382.61 L462.75,381.61 L463.86,380.60 L464.98,379.60 L466.09,378.60 L467.21,377.62 L468.32,376.67 L469.44,375.75 L470.55,374.87 L471.67,374.03 L472.78,373.24 L473.90,372.49 L475.01,371.79 L476.12,371.15 L477.24,370.55 L478.35,370.00 L479.47,369.49 L480.58,369.03 L481.70,368.62 L482.81,368.24 L483.93,367.90 L485.04,367.59 L486.16,367.31 L487.27,367.07 L488.39,366.85 L489.50,366.65 L490.61,366.48 L491.73,366.32 L492.84,366.18 L493.96,366.06 L495.07,365.95 L496.19,365.85 L497.30,365.77 L498.42,365.69 L499.53,365.62 L500.65,365.56 L501.76,365.51" fill="none" stroke="#ec8b20" stroke-width="1.12"/>
<path d="M436.00,392.13 L437.11,392.12 L438.23,392.12 L439.34,392.12 L440.46,392.11 L441.57,392.10 L442.69,392.09 L443.80,392.08 L444.92,392.05 L446.03,392.03 L447.15,391.99 L448.26,391.93 L449.37,391.86 L450.49,391.76 L451.60,391.63 L452.72,391.45 L453.83,391.21 L454.95,390.88 L456.06,390.45 L457.18,389.88 L458.29,389.13 L459.41,388.17 L460.52,386.96 L461.64,385.48 L462.75,383.71 L463.86,381.68 L464.98,379.44 L466.09,377.07 L467.21,374.70 L468.32,372.43 L469.44,370.35 L470.55,368.52 L471.67,366.98 L472.78,365.72 L473.90,364.72 L475.01,363.93 L476.12,363.33 L477.24,362.87 L478.35,362.53 L479.47,362.27 L480.58,362.08 L481.70,361.94 L482.81,361.83 L483.93,361.76 L485.04,361.70 L486.16,361.66 L487.27,361.63 L488.39,361.61 L489.50,361.59 L490.61,361.58 L491.73,361.57 L492.84,361.56 L493.96,361.56 L495.07,361.56 L496.19,361.55 L497.30,361.55 L498.42,361.55 L499.53,361.55 L500.65,361.55 L501.76,361.55" fill="none" stroke="#55a7e6" stroke-width="1.12"/>
<path d="M436.00,396.26 L437.11,395.95 L438.23,395.58 L439.34,395.11 L440.46,394.54 L441.57,393.84 L442.69,393.00 L443.80,392.00 L444.92,390.84 L446.03,389.52 L447.15,388.03 L448.26,386.42 L449.37,384.70 L450.49,382.93 L451.60,381.16 L452.72,379.43 L453.83,377.81 L454.95,376.31 L456.06,374.97 L457.18,373.80 L458.29,372.79 L459.41,371.94 L460.52,371.23 L461.64,370.65 L462.75,370.18 L463.86,369.79 L464.98,369.48 L466.09,369.24 L467.21,369.04 L468.32,368.89 L469.44,368.77 L470.55,368.67 L471.67,368.59 L472.78,368.53 L473.90,368.49 L475.01,368.45 L476.12,368.42 L477.24,368.40 L478.35,368.38 L479.47,368.37 L480.58,368.35 L481.70,368.35 L482.81,368.34 L483.93,368.33 L485.04,368.33 L486.16,368.33 L487.27,368.32 L488.39,368.32 L489.50,368.32 L490.61,368.32 L491.73,368.32 L492.84,368.32 L493.96,368.32 L495.07,368.32 L496.19,368.32 L497.30,368.32 L498.42,368.32 L499.53,368.32 L500.65,368.32 L501.76,368.32" fill="none" stroke="#5aab3c" stroke-width="1.12"/>
<circle cx="436.00" cy="394.43" r="1.2" fill="#f0b51a"/>
<circle cx="452.44" cy="394.36" r="1.2" fill="#f0b51a"/>
<circle cx="468.88" cy="393.91" r="1.2" fill="#f0b51a"/>
<circle cx="485.32" cy="391.29" r="1.2" fill="#f0b51a"/>
<circle cx="501.76" cy="377.85" r="1.2" fill="#f0b51a"/>
<circle cx="436.00" cy="396.26" r="1.2" fill="#bf1a40"/>
<circle cx="452.44" cy="394.90" r="1.2" fill="#bf1a40"/>
<circle cx="468.88" cy="392.54" r="1.2" fill="#bf1a40"/>
<circle cx="485.32" cy="383.37" r="1.2" fill="#bf1a40"/>
<circle cx="501.76" cy="385.37" r="1.2" fill="#bf1a40"/>
<circle cx="436.00" cy="397.91" r="1.2" fill="#6e4219"/>
<circle cx="452.44" cy="390.89" r="1.2" fill="#6e4219"/>
<circle cx="468.88" cy="382.87" r="1.2" fill="#6e4219"/>
<circle cx="485.32" cy="379.86" r="1.2" fill="#6e4219"/>
<circle cx="501.76" cy="391.29" r="1.2" fill="#6e4219"/>
<circle cx="436.00" cy="395.36" r="1.2" fill="#1f3d8c"/>
<circle cx="452.44" cy="391.76" r="1.2" fill="#1f3d8c"/>
<circle cx="468.88" cy="386.89" r="1.2" fill="#1f3d8c"/>
<circle cx="485.32" cy="380.68" r="1.2" fill="#1f3d8c"/>
<circle cx="501.76" cy="373.32" r="1.2" fill="#1f3d8c"/>
<circle cx="436.00" cy="395.36" r="1.2" fill="#ec8b20"/>
<circle cx="452.44" cy="389.76" r="1.2" fill="#ec8b20"/>
<circle cx="468.88" cy="376.21" r="1.2" fill="#ec8b20"/>
<circle cx="485.32" cy="367.52" r="1.2" fill="#ec8b20"/>
<circle cx="501.76" cy="365.51" r="1.2" fill="#ec8b20"/>
<circle cx="436.00" cy="392.13" r="1.2" fill="#55a7e6"/>
<circle cx="452.44" cy="391.50" r="1.2" fill="#55a7e6"/>
<circle cx="468.88" cy="371.36" r="1.2" fill="#55a7e6"/>
<circle cx="485.32" cy="361.69" r="1.2" fill="#55a7e6"/>
<circle cx="501.76" cy="361.55" r="1.2" fill="#55a7e6"/>
<circle cx="436.00" cy="396.26" r="1.2" fill="#5aab3c"/>
<circle cx="452.44" cy="379.86" r="1.2" fill="#5aab3c"/>
<circle cx="468.88" cy="366.32" r="1.2" fill="#5aab3c"/>
<circle cx="485.32" cy="368.82" r="1.2" fill="#5aab3c"/>
<circle cx="501.76" cy="371.83" r="1.2" fill="#5aab3c"/>
<line x1="431.80" y1="341.25" x2="431.80" y2="399.91" stroke="#1a1a1a" stroke-width="1.2" stroke-linecap="butt"/>
<line x1="431.20" y1="399.41" x2="513.60" y2="399.41" stroke="#1a1a1a" stroke-width="1.2" stroke-linecap="butt"/>
<line x1="428.80" y1="394.40" x2="431.80" y2="394.40" stroke="#1a1a1a" stroke-width="1.0" stroke-linecap="butt"/>
<text x="425.50" y="396.75" font-size="6.7" text-anchor="end" textLength="3.43" lengthAdjust="spacingAndGlyphs" fill="#222" stroke="#222" stroke-width="0.1">0</text>
<line x1="428.80" y1="384.37" x2="431.80" y2="384.37" stroke="#1a1a1a" stroke-width="1.0" stroke-linecap="butt"/>
<text x="425.50" y="386.72" font-size="6.7" text-anchor="end" textLength="6.86" lengthAdjust="spacingAndGlyphs" fill="#222" stroke="#222" stroke-width="0.1">20</text>
<line x1="428.80" y1="374.34" x2="431.80" y2="374.34" stroke="#1a1a1a" stroke-width="1.0" stroke-linecap="butt"/>
<text x="425.50" y="376.69" font-size="6.7" text-anchor="end" textLength="6.86" lengthAdjust="spacingAndGlyphs" fill="#222" stroke="#222" stroke-width="0.1">40</text>
<line x1="428.80" y1="364.31" x2="431.80" y2="364.31" stroke="#1a1a1a" stroke-width="1.0" stroke-linecap="butt"/>
<text x="425.50" y="366.66" font-size="6.7" text-anchor="end" textLength="6.86" lengthAdjust="spacingAndGlyphs" fill="#222" stroke="#222" stroke-width="0.1">60</text>
<line x1="428.80" y1="354.28" x2="431.80" y2="354.28" stroke="#1a1a1a" stroke-width="1.0" stroke-linecap="butt"/>
<text x="425.50" y="356.63" font-size="6.7" text-anchor="end" textLength="6.86" lengthAdjust="spacingAndGlyphs" fill="#222" stroke="#222" stroke-width="0.1">80</text>
<line x1="428.80" y1="344.25" x2="431.80" y2="344.25" stroke="#1a1a1a" stroke-width="1.0" stroke-linecap="butt"/>
<text x="425.50" y="346.60" font-size="6.7" text-anchor="end" textLength="10.28" lengthAdjust="spacingAndGlyphs" fill="#222" stroke="#222" stroke-width="0.1">100</text>
<line x1="436.00" y1="399.41" x2="436.00" y2="402.41" stroke="#1a1a1a" stroke-width="1.0" stroke-linecap="butt"/>
<text x="436.00" y="411.11" font-size="6.7" text-anchor="middle" textLength="3.43" lengthAdjust="spacingAndGlyphs" fill="#222" stroke="#222" stroke-width="0.1">1</text>
<line x1="452.44" y1="399.41" x2="452.44" y2="402.41" stroke="#1a1a1a" stroke-width="1.0" stroke-linecap="butt"/>
<text x="452.44" y="411.11" font-size="6.7" text-anchor="middle" textLength="6.86" lengthAdjust="spacingAndGlyphs" fill="#222" stroke="#222" stroke-width="0.1">10</text>
<line x1="468.88" y1="399.41" x2="468.88" y2="402.41" stroke="#1a1a1a" stroke-width="1.0" stroke-linecap="butt"/>
<text x="468.88" y="411.11" font-size="6.7" text-anchor="middle" textLength="10.28" lengthAdjust="spacingAndGlyphs" fill="#222" stroke="#222" stroke-width="0.1">100</text>
<line x1="485.32" y1="399.41" x2="485.32" y2="402.41" stroke="#1a1a1a" stroke-width="1.0" stroke-linecap="butt"/>
<text x="485.32" y="411.11" font-size="6.7" text-anchor="middle" textLength="13.71" lengthAdjust="spacingAndGlyphs" fill="#222" stroke="#222" stroke-width="0.1">1000</text>
<line x1="501.76" y1="399.41" x2="501.76" y2="402.41" stroke="#1a1a1a" stroke-width="1.0" stroke-linecap="butt"/>
<text x="501.76" y="411.11" font-size="6.7" text-anchor="middle" textLength="17.14" lengthAdjust="spacingAndGlyphs" fill="#222" stroke="#222" stroke-width="0.1">10000</text>
<text x="454.70" y="337.10" font-size="8.1" fill="#111" textLength="34.70" lengthAdjust="spacingAndGlyphs" stroke="#111" stroke-width="0.04">navitoclax</text>
<text x="466.00" y="421.50" font-size="8.4" fill="#111" textLength="11.70" lengthAdjust="spacingAndGlyphs" stroke="#111" stroke-width="0.3">[nM]</text>
<text transform="translate(409.60,385.00) rotate(-90)" x="0" y="0" font-size="8.0" textLength="28.00" lengthAdjust="spacingAndGlyphs" fill="#111" stroke="#111" stroke-width="0.22">% toxicity</text>
<line x1="304.20" y1="461.00" x2="386.50" y2="461.00" stroke="#333" stroke-width="1.1" stroke-dasharray="1.9,1.1" stroke-linecap="butt"/>
<path d="M307.80,458.29 L308.91,458.29 L310.03,458.29 L311.14,458.29 L312.26,458.29 L313.37,458.29 L314.49,458.29 L315.60,458.29 L316.72,458.29 L317.83,458.29 L318.95,458.29 L320.06,458.29 L321.17,458.29 L322.29,458.29 L323.40,458.29 L324.52,458.29 L325.63,458.29 L326.75,458.29 L327.86,458.29 L328.98,458.29 L330.09,458.29 L331.21,458.29 L332.32,458.29 L333.44,458.29 L334.55,458.29 L335.66,458.29 L336.78,458.30 L337.89,458.30 L339.01,458.30 L340.12,458.31 L341.24,458.31 L342.35,458.32 L343.47,458.33 L344.58,458.34 L345.70,458.36 L346.81,458.38 L347.92,458.40 L349.04,458.44 L350.15,458.48 L351.27,458.53 L352.38,458.60 L353.50,458.69 L354.61,458.81 L355.73,458.95 L356.84,459.14 L357.96,459.38 L359.07,459.67 L360.19,460.04 L361.30,460.50 L362.41,461.06 L363.53,461.74 L364.64,462.55 L365.76,463.49 L366.87,464.57 L367.99,465.77 L369.10,467.06 L370.22,468.43 L371.33,469.82 L372.45,471.19 L373.56,472.50" fill="none" stroke="#6e4219" stroke-width="1.12"/>
<path d="M307.80,461.11 L308.91,461.11 L310.03,461.11 L311.14,461.11 L312.26,461.11 L313.37,461.11 L314.49,461.11 L315.60,461.11 L316.72,461.12 L317.83,461.12 L318.95,461.12 L320.06,461.12 L321.17,461.12 L322.29,461.13 L323.40,461.13 L324.52,461.13 L325.63,461.13 L326.75,461.14 L327.86,461.14 L328.98,461.15 L330.09,461.15 L331.21,461.16 L332.32,461.17 L333.44,461.18 L334.55,461.19 L335.66,461.20 L336.78,461.22 L337.89,461.23 L339.01,461.25 L340.12,461.27 L341.24,461.30 L342.35,461.32 L343.47,461.36 L344.58,461.39 L345.70,461.44 L346.81,461.48 L347.92,461.54 L349.04,461.60 L350.15,461.67 L351.27,461.76 L352.38,461.85 L353.50,461.96 L354.61,462.09 L355.73,462.23 L356.84,462.39 L357.96,462.58 L359.07,462.80 L360.19,463.04 L361.30,463.33 L362.41,463.65 L363.53,464.02 L364.64,464.44 L365.76,464.93 L366.87,465.48 L367.99,466.12 L369.10,466.84 L370.22,467.67 L371.33,468.61 L372.45,469.69 L373.56,470.92" fill="none" stroke="#f0b51a" stroke-width="1.12"/>
<path d="M307.80,460.99 L308.91,460.99 L310.03,460.99 L311.14,460.99 L312.26,460.99 L313.37,460.99 L314.49,460.99 L315.60,460.99 L316.72,460.99 L317.83,460.99 L318.95,460.99 L320.06,460.99 L321.17,460.99 L322.29,460.99 L323.40,460.99 L324.52,460.99 L325.63,460.99 L326.75,460.99 L327.86,460.99 L328.98,460.99 L330.09,461.00 L331.21,461.00 L332.32,461.00 L333.44,461.00 L334.55,461.00 L335.66,461.00 L336.78,461.00 L337.89,461.00 L339.01,461.00 L340.12,461.00 L341.24,461.01 L342.35,461.01 L343.47,461.02 L344.58,461.03 L345.70,461.04 L346.81,461.05 L347.92,461.07 L349.04,461.10 L350.15,461.14 L351.27,461.19 L352.38,461.25 L353.50,461.34 L354.61,461.46 L355.73,461.62 L356.84,461.84 L357.96,462.12 L359.07,462.50 L360.19,463.00 L361.30,463.64 L362.41,464.48 L363.53,465.54 L364.64,466.88 L365.76,468.51 L366.87,470.46 L367.99,472.72 L369.10,475.24 L370.22,477.95 L371.33,480.73 L372.45,483.46 L373.56,486.03" fill="none" stroke="#bf1a40" stroke-width="1.12"/>
<path d="M307.80,460.99 L308.91,460.99 L310.03,460.99 L311.14,460.99 L312.26,460.99 L313.37,460.99 L314.49,460.99 L315.60,460.99 L316.72,460.99 L317.83,460.99 L318.95,460.99 L320.06,460.99 L321.17,460.99 L322.29,460.99 L323.40,460.99 L324.52,460.99 L325.63,460.99 L326.75,460.99 L327.86,460.99 L328.98,460.99 L330.09,460.99 L331.21,460.99 L332.32,460.99 L333.44,460.99 L334.55,460.99 L335.66,461.00 L336.78,461.00 L337.89,461.00 L339.01,461.00 L340.12,461.01 L341.24,461.01 L342.35,461.02 L343.47,461.03 L344.58,461.05 L345.70,461.07 L346.81,461.09 L347.92,461.12 L349.04,461.17 L350.15,461.22 L351.27,461.30 L352.38,461.40 L353.50,461.54 L354.61,461.72 L355.73,461.95 L356.84,462.26 L357.96,462.67 L359.07,463.20 L360.19,463.90 L361.30,464.81 L362.41,465.99 L363.53,467.49 L364.64,469.39 L365.76,471.76 L366.87,474.68 L367.99,478.17 L369.10,482.27 L370.22,486.92 L371.33,492.03 L372.45,497.44 L373.56,502.94" fill="none" stroke="#ec8b20" stroke-width="1.12"/>
<path d="M307.80,456.94 L308.91,457.23 L310.03,457.53 L311.14,457.85 L312.26,458.18 L313.37,458.53 L314.49,458.89 L315.60,459.27 L316.72,459.67 L317.83,460.08 L318.95,460.51 L320.06,460.96 L321.17,461.43 L322.29,461.91 L323.40,462.42 L324.52,462.94 L325.63,463.48 L326.75,464.04 L327.86,464.61 L328.98,465.21 L330.09,465.82 L331.21,466.46 L332.32,467.11 L333.44,467.78 L334.55,468.46 L335.66,469.16 L336.78,469.88 L337.89,470.61 L339.01,471.36 L340.12,472.12 L341.24,472.89 L342.35,473.67 L343.47,474.46 L344.58,475.26 L345.70,476.07 L346.81,476.88 L347.92,477.70 L349.04,478.52 L350.15,479.35 L351.27,480.17 L352.38,481.00 L353.50,481.82 L354.61,482.63 L355.73,483.45 L356.84,484.25 L357.96,485.05 L359.07,485.84 L360.19,486.62 L361.30,487.38 L362.41,488.14 L363.53,488.88 L364.64,489.61 L365.76,490.32 L366.87,491.01 L367.99,491.69 L369.10,492.36 L370.22,493.00 L371.33,493.63 L372.45,494.23 L373.56,494.82" fill="none" stroke="#5aab3c" stroke-width="1.12"/>
<path d="M307.80,460.74 L308.91,461.14 L310.03,461.54 L311.14,461.96 L312.26,462.40 L313.37,462.85 L314.49,463.32 L315.60,463.80 L316.72,464.30 L317.83,464.81 L318.95,465.34 L320.06,465.88 L321.17,466.44 L322.29,467.02 L323.40,467.61 L324.52,468.22 L325.63,468.84 L326.75,469.47 L327.86,470.12 L328.98,470.78 L330.09,471.45 L331.21,472.13 L332.32,472.83 L333.44,473.54 L334.55,474.25 L335.66,474.97 L336.78,475.71 L337.89,476.44 L339.01,477.19 L340.12,477.94 L341.24,478.69 L342.35,479.44 L343.47,480.20 L344.58,480.96 L345.70,481.71 L346.81,482.47 L347.92,483.22 L349.04,483.97 L350.15,484.71 L351.27,485.45 L352.38,486.18 L353.50,486.90 L354.61,487.61 L355.73,488.31 L356.84,489.01 L357.96,489.69 L359.07,490.36 L360.19,491.02 L361.30,491.66 L362.41,492.29 L363.53,492.91 L364.64,493.51 L365.76,494.10 L366.87,494.67 L367.99,495.22 L369.10,495.77 L370.22,496.29 L371.33,496.80 L372.45,497.30 L373.56,497.77" fill="none" stroke="#1f3d8c" stroke-width="1.12"/>
<path d="M307.80,461.21 L308.91,461.56 L310.03,461.93 L311.14,462.33 L312.26,462.74 L313.37,463.17 L314.49,463.62 L315.60,464.09 L316.72,464.58 L317.83,465.09 L318.95,465.62 L320.06,466.18 L321.17,466.75 L322.29,467.34 L323.40,467.96 L324.52,468.59 L325.63,469.25 L326.75,469.92 L327.86,470.62 L328.98,471.33 L330.09,472.05 L331.21,472.80 L332.32,473.55 L333.44,474.32 L334.55,475.11 L335.66,475.90 L336.78,476.70 L337.89,477.51 L339.01,478.33 L340.12,479.15 L341.24,479.97 L342.35,480.79 L343.47,481.61 L344.58,482.43 L345.70,483.25 L346.81,484.05 L347.92,484.85 L349.04,485.64 L350.15,486.42 L351.27,487.19 L352.38,487.94 L353.50,488.68 L354.61,489.40 L355.73,490.10 L356.84,490.78 L357.96,491.45 L359.07,492.10 L360.19,492.73 L361.30,493.33 L362.41,493.92 L363.53,494.48 L364.64,495.03 L365.76,495.55 L366.87,496.06 L367.99,496.54 L369.10,497.00 L370.22,497.45 L371.33,497.87 L372.45,498.27 L373.56,498.66" fill="none" stroke="#55a7e6" stroke-width="1.12"/>
<circle cx="307.80" cy="458.29" r="1.2" fill="#6e4219"/>
<circle cx="324.24" cy="458.29" r="1.2" fill="#6e4219"/>
<circle cx="340.68" cy="458.31" r="1.2" fill="#6e4219"/>
<circle cx="357.12" cy="459.19" r="1.2" fill="#6e4219"/>
<circle cx="373.56" cy="472.50" r="1.2" fill="#6e4219"/>
<circle cx="307.80" cy="461.11" r="1.2" fill="#f0b51a"/>
<circle cx="324.24" cy="461.13" r="1.2" fill="#f0b51a"/>
<circle cx="340.68" cy="461.28" r="1.2" fill="#f0b51a"/>
<circle cx="357.12" cy="462.44" r="1.2" fill="#f0b51a"/>
<circle cx="373.56" cy="470.92" r="1.2" fill="#f0b51a"/>
<circle cx="307.80" cy="460.99" r="1.2" fill="#bf1a40"/>
<circle cx="324.24" cy="460.99" r="1.2" fill="#bf1a40"/>
<circle cx="340.68" cy="461.01" r="1.2" fill="#bf1a40"/>
<circle cx="357.12" cy="461.90" r="1.2" fill="#bf1a40"/>
<circle cx="373.56" cy="486.03" r="1.2" fill="#bf1a40"/>
<circle cx="307.80" cy="461.00" r="1.2" fill="#ec8b20"/>
<circle cx="324.24" cy="461.45" r="1.2" fill="#ec8b20"/>
<circle cx="340.68" cy="463.25" r="1.2" fill="#ec8b20"/>
<circle cx="357.12" cy="462.35" r="1.2" fill="#ec8b20"/>
<circle cx="373.56" cy="502.94" r="1.2" fill="#ec8b20"/>
<circle cx="307.80" cy="456.94" r="1.2" fill="#5aab3c"/>
<circle cx="324.24" cy="462.80" r="1.2" fill="#5aab3c"/>
<circle cx="340.68" cy="472.50" r="1.2" fill="#5aab3c"/>
<circle cx="357.12" cy="484.45" r="1.2" fill="#5aab3c"/>
<circle cx="373.56" cy="494.82" r="1.2" fill="#5aab3c"/>
<circle cx="307.80" cy="460.74" r="1.2" fill="#1f3d8c"/>
<circle cx="324.24" cy="468.06" r="1.2" fill="#1f3d8c"/>
<circle cx="340.68" cy="478.31" r="1.2" fill="#1f3d8c"/>
<circle cx="357.12" cy="489.18" r="1.2" fill="#1f3d8c"/>
<circle cx="373.56" cy="497.77" r="1.2" fill="#1f3d8c"/>
<circle cx="307.80" cy="461.21" r="1.2" fill="#55a7e6"/>
<circle cx="324.24" cy="468.43" r="1.2" fill="#55a7e6"/>
<circle cx="340.68" cy="479.56" r="1.2" fill="#55a7e6"/>
<circle cx="357.12" cy="490.95" r="1.2" fill="#55a7e6"/>
<circle cx="373.56" cy="498.66" r="1.2" fill="#55a7e6"/>
<line x1="303.20" y1="448.98" x2="303.20" y2="506.60" stroke="#1a1a1a" stroke-width="1.2" stroke-linecap="butt"/>
<line x1="302.60" y1="506.10" x2="385.50" y2="506.10" stroke="#1a1a1a" stroke-width="1.2" stroke-linecap="butt"/>
<line x1="300.20" y1="506.10" x2="303.20" y2="506.10" stroke="#1a1a1a" stroke-width="1.0" stroke-linecap="butt"/>
<text x="296.90" y="508.45" font-size="6.7" text-anchor="end" textLength="3.43" lengthAdjust="spacingAndGlyphs" fill="#222" stroke="#222" stroke-width="0.1">0</text>
<line x1="300.20" y1="497.08" x2="303.20" y2="497.08" stroke="#1a1a1a" stroke-width="1.0" stroke-linecap="butt"/>
<text x="296.90" y="499.43" font-size="6.7" text-anchor="end" textLength="6.86" lengthAdjust="spacingAndGlyphs" fill="#222" stroke="#222" stroke-width="0.1">20</text>
<line x1="300.20" y1="488.06" x2="303.20" y2="488.06" stroke="#1a1a1a" stroke-width="1.0" stroke-linecap="butt"/>
<text x="296.90" y="490.41" font-size="6.7" text-anchor="end" textLength="6.86" lengthAdjust="spacingAndGlyphs" fill="#222" stroke="#222" stroke-width="0.1">40</text>
<line x1="300.20" y1="479.04" x2="303.20" y2="479.04" stroke="#1a1a1a" stroke-width="1.0" stroke-linecap="butt"/>
<text x="296.90" y="481.39" font-size="6.7" text-anchor="end" textLength="6.86" lengthAdjust="spacingAndGlyphs" fill="#222" stroke="#222" stroke-width="0.1">60</text>
<line x1="300.20" y1="470.02" x2="303.20" y2="470.02" stroke="#1a1a1a" stroke-width="1.0" stroke-linecap="butt"/>
<text x="296.90" y="472.37" font-size="6.7" text-anchor="end" textLength="6.86" lengthAdjust="spacingAndGlyphs" fill="#222" stroke="#222" stroke-width="0.1">80</text>
<line x1="300.20" y1="461.00" x2="303.20" y2="461.00" stroke="#1a1a1a" stroke-width="1.0" stroke-linecap="butt"/>
<text x="296.90" y="463.35" font-size="6.7" text-anchor="end" textLength="10.28" lengthAdjust="spacingAndGlyphs" fill="#222" stroke="#222" stroke-width="0.1">100</text>
<line x1="300.20" y1="451.98" x2="303.20" y2="451.98" stroke="#1a1a1a" stroke-width="1.0" stroke-linecap="butt"/>
<text x="296.90" y="454.33" font-size="6.7" text-anchor="end" textLength="10.28" lengthAdjust="spacingAndGlyphs" fill="#222" stroke="#222" stroke-width="0.1">120</text>
<line x1="307.80" y1="506.10" x2="307.80" y2="509.10" stroke="#1a1a1a" stroke-width="1.0" stroke-linecap="butt"/>
<text x="307.80" y="517.80" font-size="6.7" text-anchor="middle" textLength="3.43" lengthAdjust="spacingAndGlyphs" fill="#222" stroke="#222" stroke-width="0.1">1</text>
<line x1="324.24" y1="506.10" x2="324.24" y2="509.10" stroke="#1a1a1a" stroke-width="1.0" stroke-linecap="butt"/>
<text x="324.24" y="517.80" font-size="6.7" text-anchor="middle" textLength="6.86" lengthAdjust="spacingAndGlyphs" fill="#222" stroke="#222" stroke-width="0.1">10</text>
<line x1="340.68" y1="506.10" x2="340.68" y2="509.10" stroke="#1a1a1a" stroke-width="1.0" stroke-linecap="butt"/>
<text x="340.68" y="517.80" font-size="6.7" text-anchor="middle" textLength="10.28" lengthAdjust="spacingAndGlyphs" fill="#222" stroke="#222" stroke-width="0.1">100</text>
<line x1="357.12" y1="506.10" x2="357.12" y2="509.10" stroke="#1a1a1a" stroke-width="1.0" stroke-linecap="butt"/>
<text x="357.12" y="517.80" font-size="6.7" text-anchor="middle" textLength="13.71" lengthAdjust="spacingAndGlyphs" fill="#222" stroke="#222" stroke-width="0.1">1000</text>
<line x1="373.56" y1="506.10" x2="373.56" y2="509.10" stroke="#1a1a1a" stroke-width="1.0" stroke-linecap="butt"/>
<text x="373.56" y="517.80" font-size="6.7" text-anchor="middle" textLength="17.14" lengthAdjust="spacingAndGlyphs" fill="#222" stroke="#222" stroke-width="0.1">10000</text>
<text x="325.20" y="443.80" font-size="8.1" fill="#111" textLength="37.50" lengthAdjust="spacingAndGlyphs" stroke="#111" stroke-width="0.04">idasanutlin</text>
<text x="338.60" y="528.80" font-size="8.4" fill="#111" textLength="11.90" lengthAdjust="spacingAndGlyphs" stroke="#111" stroke-width="0.3">[nM]</text>
<text transform="translate(281.80,492.00) rotate(-90)" x="0" y="0" font-size="8.0" textLength="28.00" lengthAdjust="spacingAndGlyphs" fill="#111" stroke="#111" stroke-width="0.22">% viability</text>
<line x1="432.80" y1="497.20" x2="513.10" y2="497.20" stroke="#333" stroke-width="1.1" stroke-dasharray="1.9,1.1" stroke-linecap="butt"/>
<path d="M436.00,496.97 L437.11,496.97 L438.23,496.97 L439.34,496.97 L440.46,496.97 L441.57,496.97 L442.69,496.97 L443.80,496.97 L444.92,496.97 L446.03,496.97 L447.15,496.97 L448.26,496.97 L449.37,496.97 L450.49,496.97 L451.60,496.97 L452.72,496.97 L453.83,496.97 L454.95,496.97 L456.06,496.97 L457.18,496.97 L458.29,496.97 L459.41,496.97 L460.52,496.97 L461.64,496.97 L462.75,496.97 L463.86,496.97 L464.98,496.97 L466.09,496.97 L467.21,496.97 L468.32,496.97 L469.44,496.97 L470.55,496.97 L471.67,496.97 L472.78,496.97 L473.90,496.97 L475.01,496.97 L476.12,496.97 L477.24,496.97 L478.35,496.97 L479.47,496.97 L480.58,496.97 L481.70,496.97 L482.81,496.97 L483.93,496.97 L485.04,496.97 L486.16,496.97 L487.27,496.97 L488.39,496.97 L489.50,496.97 L490.61,496.97 L491.73,496.97 L492.84,496.97 L493.96,496.97 L495.07,496.97 L496.19,496.97 L497.30,496.97 L498.42,496.97 L499.53,496.97 L500.65,496.97 L501.76,496.97" fill="none" stroke="#bf1a40" stroke-width="1.12"/>
<path d="M436.00,498.11 L437.11,498.11 L438.23,498.11 L439.34,498.11 L440.46,498.11 L441.57,498.11 L442.69,498.11 L443.80,498.11 L444.92,498.11 L446.03,498.11 L447.15,498.11 L448.26,498.11 L449.37,498.11 L450.49,498.11 L451.60,498.11 L452.72,498.11 L453.83,498.11 L454.95,498.11 L456.06,498.11 L457.18,498.11 L458.29,498.11 L459.41,498.11 L460.52,498.11 L461.64,498.11 L462.75,498.11 L463.86,498.11 L464.98,498.11 L466.09,498.11 L467.21,498.11 L468.32,498.11 L469.44,498.11 L470.55,498.11 L471.67,498.09 L472.78,498.07 L473.90,498.04 L475.01,498.01 L476.12,497.98 L477.24,497.94 L478.35,497.90 L479.47,497.86 L480.58,497.82 L481.70,497.77 L482.81,497.74 L483.93,497.70 L485.04,497.66 L486.16,497.63 L487.27,497.60 L488.39,497.57 L489.50,497.54 L490.61,497.51 L491.73,497.48 L492.84,497.45 L493.96,497.42 L495.07,497.39 L496.19,497.35 L497.30,497.32 L498.42,497.29 L499.53,497.26 L500.65,497.23 L501.76,497.20" fill="none" stroke="#6e4219" stroke-width="1.12"/>
<path d="M436.00,497.20 L437.11,497.20 L438.23,497.20 L439.34,497.20 L440.46,497.20 L441.57,497.20 L442.69,497.20 L443.80,497.20 L444.92,497.20 L446.03,497.20 L447.15,497.20 L448.26,497.20 L449.37,497.20 L450.49,497.20 L451.60,497.20 L452.72,497.20 L453.83,497.20 L454.95,497.20 L456.06,497.20 L457.18,497.20 L458.29,497.20 L459.41,497.20 L460.52,497.20 L461.64,497.20 L462.75,497.20 L463.86,497.20 L464.98,497.20 L466.09,497.20 L467.21,497.20 L468.32,497.20 L469.44,497.20 L470.55,497.20 L471.67,497.20 L472.78,497.20 L473.90,497.20 L475.01,497.20 L476.12,497.20 L477.24,497.20 L478.35,497.20 L479.47,497.20 L480.58,497.20 L481.70,497.20 L482.81,497.20 L483.93,497.20 L485.04,497.20 L486.16,497.20 L487.27,497.20 L488.39,497.20 L489.50,497.20 L490.61,497.20 L491.73,497.20 L492.84,497.20 L493.96,497.20 L495.07,497.20 L496.19,497.20 L497.30,497.20 L498.42,497.20 L499.53,497.20 L500.65,497.20 L501.76,497.20" fill="none" stroke="#f0b51a" stroke-width="1.12"/>
<path d="M436.00,497.20 L437.11,497.20 L438.23,497.20 L439.34,497.20 L440.46,497.20 L441.57,497.20 L442.69,497.20 L443.80,497.20 L444.92,497.20 L446.03,497.20 L447.15,497.20 L448.26,497.20 L449.37,497.20 L450.49,497.20 L451.60,497.20 L452.72,497.20 L453.83,497.20 L454.95,497.19 L456.06,497.19 L457.18,497.18 L458.29,497.17 L459.41,497.15 L460.52,497.14 L461.64,497.12 L462.75,497.10 L463.86,497.08 L464.98,497.06 L466.09,497.04 L467.21,497.01 L468.32,496.99 L469.44,496.96 L470.55,496.91 L471.67,496.85 L472.78,496.77 L473.90,496.68 L475.01,496.57 L476.12,496.45 L477.24,496.31 L478.35,496.16 L479.47,495.99 L480.58,495.81 L481.70,495.62 L482.81,495.42 L483.93,495.20 L485.04,494.97 L486.16,494.70 L487.27,494.31 L488.39,493.83 L489.50,493.27 L490.61,492.67 L491.73,492.05 L492.84,491.43 L493.96,490.82 L495.07,490.19 L496.19,489.52 L497.30,488.82 L498.42,488.10 L499.53,487.35 L500.65,486.57 L501.76,485.77" fill="none" stroke="#55a7e6" stroke-width="1.12"/>
<path d="M436.00,503.86 L437.11,503.77 L438.23,503.66 L439.34,503.55 L440.46,503.44 L441.57,503.32 L442.69,503.19 L443.80,503.06 L444.92,502.92 L446.03,502.77 L447.15,502.61 L448.26,502.45 L449.37,502.28 L450.49,502.11 L451.60,501.92 L452.72,501.73 L453.83,501.53 L454.95,501.33 L456.06,501.11 L457.18,500.89 L458.29,500.66 L459.41,500.42 L460.52,500.17 L461.64,499.92 L462.75,499.65 L463.86,499.38 L464.98,499.11 L466.09,498.82 L467.21,498.54 L468.32,498.24 L469.44,497.94 L470.55,497.63 L471.67,497.32 L472.78,497.01 L473.90,496.69 L475.01,496.37 L476.12,496.04 L477.24,495.72 L478.35,495.39 L479.47,495.07 L480.58,494.74 L481.70,494.42 L482.81,494.09 L483.93,493.77 L485.04,493.45 L486.16,493.14 L487.27,492.83 L488.39,492.52 L489.50,492.22 L490.61,491.92 L491.73,491.64 L492.84,491.35 L493.96,491.08 L495.07,490.81 L496.19,490.54 L497.30,490.29 L498.42,490.04 L499.53,489.80 L500.65,489.57 L501.76,489.35" fill="none" stroke="#5aab3c" stroke-width="1.12"/>
<path d="M436.00,497.50 L437.11,497.47 L438.23,497.43 L439.34,497.39 L440.46,497.33 L441.57,497.26 L442.69,497.18 L443.80,497.08 L444.92,496.95 L446.03,496.80 L447.15,496.62 L448.26,496.40 L449.37,496.13 L450.49,495.82 L451.60,495.44 L452.72,495.00 L453.83,494.48 L454.95,493.89 L456.06,493.22 L457.18,492.46 L458.29,491.62 L459.41,490.72 L460.52,489.75 L461.64,488.75 L462.75,487.73 L463.86,486.71 L464.98,485.72 L466.09,484.77 L467.21,483.89 L468.32,483.07 L469.44,482.34 L470.55,481.69 L471.67,481.12 L472.78,480.63 L473.90,480.21 L475.01,479.85 L476.12,479.55 L477.24,479.30 L478.35,479.09 L479.47,478.92 L480.58,478.78 L481.70,478.66 L482.81,478.56 L483.93,478.49 L485.04,478.42 L486.16,478.37 L487.27,478.33 L488.39,478.29 L489.50,478.27 L490.61,478.24 L491.73,478.22 L492.84,478.21 L493.96,478.20 L495.07,478.19 L496.19,478.18 L497.30,478.17 L498.42,478.17 L499.53,478.16 L500.65,478.16 L501.76,478.16" fill="none" stroke="#1f3d8c" stroke-width="1.12"/>
<path d="M436.00,499.49 L437.11,499.49 L438.23,499.49 L439.34,499.49 L440.46,499.49 L441.57,499.49 L442.69,499.49 L443.80,499.49 L444.92,499.49 L446.03,499.49 L447.15,499.49 L448.26,499.49 L449.37,499.49 L450.49,499.49 L451.60,499.49 L452.72,499.48 L453.83,499.48 L454.95,499.46 L456.06,499.43 L457.18,499.39 L458.29,499.35 L459.41,499.29 L460.52,499.23 L461.64,499.16 L462.75,499.09 L463.86,499.01 L464.98,498.92 L466.09,498.82 L467.21,498.73 L468.32,498.62 L469.44,498.51 L470.55,498.37 L471.67,498.19 L472.78,497.96 L473.90,497.71 L475.01,497.41 L476.12,497.08 L477.24,496.72 L478.35,496.32 L479.47,495.89 L480.58,495.42 L481.70,494.93 L482.81,494.39 L483.93,493.83 L485.04,493.24 L486.16,492.55 L487.27,491.60 L488.39,490.43 L489.50,489.08 L490.61,487.56 L491.73,485.61 L492.84,483.29 L493.96,480.68 L495.07,477.68 L496.19,474.41 L497.30,471.01 L498.42,467.45 L499.53,463.70 L500.65,459.75 L501.76,455.61" fill="none" stroke="#ec8b20" stroke-width="1.12"/>
<circle cx="436.00" cy="496.97" r="1.2" fill="#bf1a40"/>
<circle cx="452.44" cy="496.97" r="1.2" fill="#bf1a40"/>
<circle cx="468.88" cy="496.97" r="1.2" fill="#bf1a40"/>
<circle cx="485.32" cy="496.97" r="1.2" fill="#bf1a40"/>
<circle cx="501.76" cy="496.97" r="1.2" fill="#bf1a40"/>
<circle cx="436.00" cy="498.11" r="1.2" fill="#6e4219"/>
<circle cx="452.44" cy="498.11" r="1.2" fill="#6e4219"/>
<circle cx="468.88" cy="498.11" r="1.2" fill="#6e4219"/>
<circle cx="485.32" cy="497.66" r="1.2" fill="#6e4219"/>
<circle cx="501.76" cy="497.20" r="1.2" fill="#6e4219"/>
<circle cx="436.00" cy="497.20" r="1.2" fill="#f0b51a"/>
<circle cx="452.44" cy="497.20" r="1.2" fill="#f0b51a"/>
<circle cx="468.88" cy="497.20" r="1.2" fill="#f0b51a"/>
<circle cx="485.32" cy="497.20" r="1.2" fill="#f0b51a"/>
<circle cx="501.76" cy="497.20" r="1.2" fill="#f0b51a"/>
<circle cx="436.00" cy="497.20" r="1.2" fill="#55a7e6"/>
<circle cx="452.44" cy="497.20" r="1.2" fill="#55a7e6"/>
<circle cx="468.88" cy="497.20" r="1.2" fill="#55a7e6"/>
<circle cx="485.32" cy="494.91" r="1.2" fill="#55a7e6"/>
<circle cx="501.76" cy="485.77" r="1.2" fill="#55a7e6"/>
<circle cx="436.00" cy="503.86" r="1.2" fill="#5aab3c"/>
<circle cx="452.44" cy="501.78" r="1.2" fill="#5aab3c"/>
<circle cx="468.88" cy="498.09" r="1.2" fill="#5aab3c"/>
<circle cx="485.32" cy="493.37" r="1.2" fill="#5aab3c"/>
<circle cx="501.76" cy="489.35" r="1.2" fill="#5aab3c"/>
<circle cx="436.00" cy="497.50" r="1.2" fill="#1f3d8c"/>
<circle cx="452.44" cy="495.12" r="1.2" fill="#1f3d8c"/>
<circle cx="468.88" cy="482.70" r="1.2" fill="#1f3d8c"/>
<circle cx="485.32" cy="478.41" r="1.2" fill="#1f3d8c"/>
<circle cx="501.76" cy="478.16" r="1.2" fill="#1f3d8c"/>
<circle cx="436.00" cy="499.49" r="1.2" fill="#ec8b20"/>
<circle cx="452.44" cy="499.49" r="1.2" fill="#ec8b20"/>
<circle cx="468.88" cy="498.57" r="1.2" fill="#ec8b20"/>
<circle cx="485.32" cy="493.09" r="1.2" fill="#ec8b20"/>
<circle cx="501.76" cy="455.61" r="1.2" fill="#ec8b20"/>
<line x1="431.80" y1="448.50" x2="431.80" y2="506.84" stroke="#1a1a1a" stroke-width="1.2" stroke-linecap="butt"/>
<line x1="431.20" y1="506.34" x2="513.60" y2="506.34" stroke="#1a1a1a" stroke-width="1.2" stroke-linecap="butt"/>
<line x1="428.80" y1="506.34" x2="431.80" y2="506.34" stroke="#1a1a1a" stroke-width="1.0" stroke-linecap="butt"/>
<text x="425.50" y="508.69" font-size="6.7" text-anchor="end" textLength="8.91" lengthAdjust="spacingAndGlyphs" fill="#222" stroke="#222" stroke-width="0.1">-20</text>
<line x1="428.80" y1="497.20" x2="431.80" y2="497.20" stroke="#1a1a1a" stroke-width="1.0" stroke-linecap="butt"/>
<text x="425.50" y="499.55" font-size="6.7" text-anchor="end" textLength="3.43" lengthAdjust="spacingAndGlyphs" fill="#222" stroke="#222" stroke-width="0.1">0</text>
<line x1="428.80" y1="488.06" x2="431.80" y2="488.06" stroke="#1a1a1a" stroke-width="1.0" stroke-linecap="butt"/>
<text x="425.50" y="490.41" font-size="6.7" text-anchor="end" textLength="6.86" lengthAdjust="spacingAndGlyphs" fill="#222" stroke="#222" stroke-width="0.1">20</text>
<line x1="428.80" y1="478.92" x2="431.80" y2="478.92" stroke="#1a1a1a" stroke-width="1.0" stroke-linecap="butt"/>
<text x="425.50" y="481.27" font-size="6.7" text-anchor="end" textLength="6.86" lengthAdjust="spacingAndGlyphs" fill="#222" stroke="#222" stroke-width="0.1">40</text>
<line x1="428.80" y1="469.78" x2="431.80" y2="469.78" stroke="#1a1a1a" stroke-width="1.0" stroke-linecap="butt"/>
<text x="425.50" y="472.13" font-size="6.7" text-anchor="end" textLength="6.86" lengthAdjust="spacingAndGlyphs" fill="#222" stroke="#222" stroke-width="0.1">60</text>
<line x1="428.80" y1="460.64" x2="431.80" y2="460.64" stroke="#1a1a1a" stroke-width="1.0" stroke-linecap="butt"/>
<text x="425.50" y="462.99" font-size="6.7" text-anchor="end" textLength="6.86" lengthAdjust="spacingAndGlyphs" fill="#222" stroke="#222" stroke-width="0.1">80</text>
<line x1="428.80" y1="451.50" x2="431.80" y2="451.50" stroke="#1a1a1a" stroke-width="1.0" stroke-linecap="butt"/>
<text x="425.50" y="453.85" font-size="6.7" text-anchor="end" textLength="10.28" lengthAdjust="spacingAndGlyphs" fill="#222" stroke="#222" stroke-width="0.1">100</text>
<line x1="436.00" y1="506.34" x2="436.00" y2="509.34" stroke="#1a1a1a" stroke-width="1.0" stroke-linecap="butt"/>
<text x="436.00" y="518.04" font-size="6.7" text-anchor="middle" textLength="3.43" lengthAdjust="spacingAndGlyphs" fill="#222" stroke="#222" stroke-width="0.1">1</text>
<line x1="452.44" y1="506.34" x2="452.44" y2="509.34" stroke="#1a1a1a" stroke-width="1.0" stroke-linecap="butt"/>
<text x="452.44" y="518.04" font-size="6.7" text-anchor="middle" textLength="6.86" lengthAdjust="spacingAndGlyphs" fill="#222" stroke="#222" stroke-width="0.1">10</text>
<line x1="468.88" y1="506.34" x2="468.88" y2="509.34" stroke="#1a1a1a" stroke-width="1.0" stroke-linecap="butt"/>
<text x="468.88" y="518.04" font-size="6.7" text-anchor="middle" textLength="10.28" lengthAdjust="spacingAndGlyphs" fill="#222" stroke="#222" stroke-width="0.1">100</text>
<line x1="485.32" y1="506.34" x2="485.32" y2="509.34" stroke="#1a1a1a" stroke-width="1.0" stroke-linecap="butt"/>
<text x="485.32" y="518.04" font-size="6.7" text-anchor="middle" textLength="13.71" lengthAdjust="spacingAndGlyphs" fill="#222" stroke="#222" stroke-width="0.1">1000</text>
<line x1="501.76" y1="506.34" x2="501.76" y2="509.34" stroke="#1a1a1a" stroke-width="1.0" stroke-linecap="butt"/>
<text x="501.76" y="518.04" font-size="6.7" text-anchor="middle" textLength="17.14" lengthAdjust="spacingAndGlyphs" fill="#222" stroke="#222" stroke-width="0.1">10000</text>
<text x="453.10" y="443.80" font-size="8.1" fill="#111" textLength="37.70" lengthAdjust="spacingAndGlyphs" stroke="#111" stroke-width="0.04">idasanutlin</text>
<text x="466.00" y="528.80" font-size="8.4" fill="#111" textLength="11.70" lengthAdjust="spacingAndGlyphs" stroke="#111" stroke-width="0.3">[nM]</text>
<text transform="translate(409.60,492.00) rotate(-90)" x="0" y="0" font-size="8.0" textLength="28.00" lengthAdjust="spacingAndGlyphs" fill="#111" stroke="#111" stroke-width="0.22">% toxicity</text>
<line x1="48.70" y1="460.50" x2="131.00" y2="460.50" stroke="#333" stroke-width="1.1" stroke-dasharray="1.9,1.1" stroke-linecap="butt"/>
<path d="M52.80,461.91 L53.91,462.14 L55.03,462.41 L56.14,462.72 L57.26,463.07 L58.37,463.47 L59.49,463.93 L60.60,464.45 L61.72,465.03 L62.83,465.69 L63.95,466.43 L65.06,467.26 L66.17,468.17 L67.29,469.18 L68.40,470.29 L69.52,471.50 L70.63,472.80 L71.75,474.19 L72.86,475.66 L73.98,477.21 L75.09,478.82 L76.21,480.47 L77.32,482.15 L78.44,483.84 L79.55,485.52 L80.66,487.18 L81.78,488.79 L82.89,490.34 L84.01,491.82 L85.12,493.21 L86.24,494.51 L87.35,495.72 L88.47,496.83 L89.58,497.85 L90.70,498.77 L91.81,499.60 L92.92,500.34 L94.04,501.00 L95.15,501.59 L96.27,502.11 L97.38,502.57 L98.50,502.98 L99.61,503.33 L100.73,503.64 L101.84,503.91 L102.96,504.14 L104.07,504.35 L105.19,504.53 L106.30,504.68 L107.41,504.81 L108.53,504.93 L109.64,505.03 L110.76,505.12 L111.87,505.19 L112.99,505.26 L114.10,505.31 L115.22,505.36 L116.33,505.40 L117.45,505.44 L118.56,505.47" fill="none" stroke="#6e4219" stroke-width="1.12"/>
<path d="M52.80,460.96 L53.91,461.51 L55.03,462.11 L56.14,462.76 L57.26,463.48 L58.37,464.25 L59.49,465.08 L60.60,465.98 L61.72,466.93 L62.83,467.95 L63.95,469.02 L65.06,470.14 L66.17,471.32 L67.29,472.54 L68.40,473.79 L69.52,475.07 L70.63,476.36 L71.75,477.67 L72.86,478.98 L73.98,480.27 L75.09,481.54 L76.21,482.79 L77.32,484.00 L78.44,485.16 L79.55,486.28 L80.66,487.34 L81.78,488.34 L82.89,489.29 L84.01,490.17 L85.12,490.99 L86.24,491.75 L87.35,492.45 L88.47,493.09 L89.58,493.68 L90.70,494.22 L91.81,494.71 L92.92,495.15 L94.04,495.55 L95.15,495.91 L96.27,496.24 L97.38,496.53 L98.50,496.79 L99.61,497.02 L100.73,497.23 L101.84,497.42 L102.96,497.59 L104.07,497.74 L105.19,497.87 L106.30,497.99 L107.41,498.10 L108.53,498.19 L109.64,498.27 L110.76,498.35 L111.87,498.41 L112.99,498.47 L114.10,498.52 L115.22,498.57 L116.33,498.61 L117.45,498.65 L118.56,498.68" fill="none" stroke="#ec8b20" stroke-width="1.12"/>
<path d="M52.80,459.96 L53.91,460.28 L55.03,460.63 L56.14,461.00 L57.26,461.40 L58.37,461.84 L59.49,462.30 L60.60,462.80 L61.72,463.33 L62.83,463.90 L63.95,464.51 L65.06,465.15 L66.17,465.83 L67.29,466.55 L68.40,467.31 L69.52,468.10 L70.63,468.93 L71.75,469.80 L72.86,470.71 L73.98,471.64 L75.09,472.61 L76.21,473.61 L77.32,474.62 L78.44,475.66 L79.55,476.72 L80.66,477.79 L81.78,478.86 L82.89,479.94 L84.01,481.02 L85.12,482.09 L86.24,483.15 L87.35,484.19 L88.47,485.22 L89.58,486.22 L90.70,487.20 L91.81,488.15 L92.92,489.07 L94.04,489.95 L95.15,490.80 L96.27,491.61 L97.38,492.38 L98.50,493.12 L99.61,493.81 L100.73,494.47 L101.84,495.09 L102.96,495.67 L104.07,496.22 L105.19,496.73 L106.30,497.21 L107.41,497.65 L108.53,498.07 L109.64,498.45 L110.76,498.81 L111.87,499.14 L112.99,499.45 L114.10,499.73 L115.22,499.99 L116.33,500.23 L117.45,500.45 L118.56,500.66" fill="none" stroke="#bf1a40" stroke-width="1.12"/>
<path d="M52.80,459.47 L53.91,459.48 L55.03,459.49 L56.14,459.51 L57.26,459.53 L58.37,459.56 L59.49,459.59 L60.60,459.63 L61.72,459.68 L62.83,459.74 L63.95,459.81 L65.06,459.91 L66.17,460.02 L67.29,460.16 L68.40,460.33 L69.52,460.54 L70.63,460.79 L71.75,461.11 L72.86,461.49 L73.98,461.95 L75.09,462.50 L76.21,463.17 L77.32,463.96 L78.44,464.89 L79.55,465.99 L80.66,467.26 L81.78,468.72 L82.89,470.36 L84.01,472.18 L85.12,474.17 L86.24,476.29 L87.35,478.52 L88.47,480.80 L89.58,483.09 L90.70,485.33 L91.81,487.48 L92.92,489.50 L94.04,491.35 L95.15,493.03 L96.27,494.53 L97.38,495.84 L98.50,496.97 L99.61,497.94 L100.73,498.76 L101.84,499.45 L102.96,500.03 L104.07,500.51 L105.19,500.90 L106.30,501.23 L107.41,501.49 L108.53,501.71 L109.64,501.89 L110.76,502.04 L111.87,502.15 L112.99,502.25 L114.10,502.33 L115.22,502.39 L116.33,502.44 L117.45,502.48 L118.56,502.52" fill="none" stroke="#f0b51a" stroke-width="1.12"/>
<path d="M52.80,459.69 L53.91,459.70 L55.03,459.72 L56.14,459.74 L57.26,459.77 L58.37,459.80 L59.49,459.84 L60.60,459.90 L61.72,459.97 L62.83,460.05 L63.95,460.16 L65.06,460.30 L66.17,460.46 L67.29,460.67 L68.40,460.93 L69.52,461.25 L70.63,461.65 L71.75,462.14 L72.86,462.73 L73.98,463.45 L75.09,464.31 L76.21,465.34 L77.32,466.53 L78.44,467.91 L79.55,469.48 L80.66,471.21 L81.78,473.10 L82.89,475.10 L84.01,477.17 L85.12,479.26 L86.24,481.30 L87.35,483.26 L88.47,485.08 L89.58,486.75 L90.70,488.23 L91.81,489.53 L92.92,490.64 L94.04,491.59 L95.15,492.39 L96.27,493.05 L97.38,493.59 L98.50,494.04 L99.61,494.40 L100.73,494.69 L101.84,494.92 L102.96,495.11 L104.07,495.27 L105.19,495.39 L106.30,495.48 L107.41,495.56 L108.53,495.62 L109.64,495.67 L110.76,495.71 L111.87,495.74 L112.99,495.77 L114.10,495.79 L115.22,495.80 L116.33,495.82 L117.45,495.83 L118.56,495.83" fill="none" stroke="#5aab3c" stroke-width="1.12"/>
<path d="M52.80,457.64 L53.91,457.71 L55.03,457.79 L56.14,457.89 L57.26,458.00 L58.37,458.12 L59.49,458.27 L60.60,458.44 L61.72,458.64 L62.83,458.86 L63.95,459.13 L65.06,459.42 L66.17,459.76 L67.29,460.15 L68.40,460.59 L69.52,461.09 L70.63,461.64 L71.75,462.27 L72.86,462.96 L73.98,463.72 L75.09,464.55 L76.21,465.45 L77.32,466.42 L78.44,467.45 L79.55,468.53 L80.66,469.66 L81.78,470.82 L82.89,472.00 L84.01,473.18 L85.12,474.36 L86.24,475.51 L87.35,476.63 L88.47,477.70 L89.58,478.71 L90.70,479.66 L91.81,480.55 L92.92,481.36 L94.04,482.11 L95.15,482.78 L96.27,483.38 L97.38,483.93 L98.50,484.41 L99.61,484.83 L100.73,485.21 L101.84,485.54 L102.96,485.83 L104.07,486.08 L105.19,486.30 L106.30,486.49 L107.41,486.65 L108.53,486.80 L109.64,486.92 L110.76,487.02 L111.87,487.12 L112.99,487.19 L114.10,487.26 L115.22,487.32 L116.33,487.37 L117.45,487.41 L118.56,487.45" fill="none" stroke="#1f3d8c" stroke-width="1.12"/>
<path d="M52.80,457.78 L53.91,457.83 L55.03,457.89 L56.14,457.95 L57.26,458.03 L58.37,458.11 L59.49,458.21 L60.60,458.32 L61.72,458.44 L62.83,458.58 L63.95,458.73 L65.06,458.91 L66.17,459.11 L67.29,459.34 L68.40,459.59 L69.52,459.88 L70.63,460.20 L71.75,460.56 L72.86,460.96 L73.98,461.41 L75.09,461.90 L76.21,462.45 L77.32,463.06 L78.44,463.73 L79.55,464.46 L80.66,465.26 L81.78,466.13 L82.89,467.07 L84.01,468.07 L85.12,469.15 L86.24,470.29 L87.35,471.49 L88.47,472.74 L89.58,474.04 L90.70,475.38 L91.81,476.74 L92.92,478.13 L94.04,479.52 L95.15,480.90 L96.27,482.27 L97.38,483.61 L98.50,484.90 L99.61,486.16 L100.73,487.35 L101.84,488.49 L102.96,489.56 L104.07,490.57 L105.19,491.50 L106.30,492.37 L107.41,493.16 L108.53,493.90 L109.64,494.56 L110.76,495.17 L111.87,495.72 L112.99,496.21 L114.10,496.66 L115.22,497.06 L116.33,497.41 L117.45,497.73 L118.56,498.02" fill="none" stroke="#55a7e6" stroke-width="1.12"/>
<circle cx="52.80" cy="461.91" r="1.2" fill="#6e4219"/>
<circle cx="69.24" cy="471.19" r="1.2" fill="#6e4219"/>
<circle cx="85.68" cy="493.87" r="1.2" fill="#6e4219"/>
<circle cx="102.12" cy="503.97" r="1.2" fill="#6e4219"/>
<circle cx="118.56" cy="505.47" r="1.2" fill="#6e4219"/>
<circle cx="52.80" cy="460.96" r="1.2" fill="#ec8b20"/>
<circle cx="69.24" cy="474.75" r="1.2" fill="#ec8b20"/>
<circle cx="85.68" cy="491.38" r="1.2" fill="#ec8b20"/>
<circle cx="102.12" cy="497.47" r="1.2" fill="#ec8b20"/>
<circle cx="118.56" cy="498.68" r="1.2" fill="#ec8b20"/>
<circle cx="52.80" cy="459.96" r="1.2" fill="#bf1a40"/>
<circle cx="69.24" cy="467.90" r="1.2" fill="#bf1a40"/>
<circle cx="85.68" cy="482.62" r="1.2" fill="#bf1a40"/>
<circle cx="102.12" cy="495.24" r="1.2" fill="#bf1a40"/>
<circle cx="118.56" cy="500.66" r="1.2" fill="#bf1a40"/>
<circle cx="52.80" cy="459.47" r="1.2" fill="#f0b51a"/>
<circle cx="69.24" cy="460.48" r="1.2" fill="#f0b51a"/>
<circle cx="85.68" cy="475.21" r="1.2" fill="#f0b51a"/>
<circle cx="102.12" cy="499.60" r="1.2" fill="#f0b51a"/>
<circle cx="118.56" cy="502.52" r="1.2" fill="#f0b51a"/>
<circle cx="52.80" cy="459.78" r="1.2" fill="#5aab3c"/>
<circle cx="69.24" cy="458.69" r="1.2" fill="#5aab3c"/>
<circle cx="85.68" cy="480.88" r="1.2" fill="#5aab3c"/>
<circle cx="102.12" cy="494.02" r="1.2" fill="#5aab3c"/>
<circle cx="118.56" cy="497.19" r="1.2" fill="#5aab3c"/>
<circle cx="52.80" cy="458.24" r="1.2" fill="#1f3d8c"/>
<circle cx="69.24" cy="460.05" r="1.2" fill="#1f3d8c"/>
<circle cx="85.68" cy="476.81" r="1.2" fill="#1f3d8c"/>
<circle cx="102.12" cy="482.43" r="1.2" fill="#1f3d8c"/>
<circle cx="118.56" cy="489.49" r="1.2" fill="#1f3d8c"/>
<circle cx="52.80" cy="457.78" r="1.2" fill="#55a7e6"/>
<circle cx="69.24" cy="459.80" r="1.2" fill="#55a7e6"/>
<circle cx="85.68" cy="469.71" r="1.2" fill="#55a7e6"/>
<circle cx="102.12" cy="488.77" r="1.2" fill="#55a7e6"/>
<circle cx="118.56" cy="498.02" r="1.2" fill="#55a7e6"/>
<line x1="47.70" y1="448.44" x2="47.70" y2="506.30" stroke="#1a1a1a" stroke-width="1.2" stroke-linecap="butt"/>
<line x1="47.10" y1="505.80" x2="130.00" y2="505.80" stroke="#1a1a1a" stroke-width="1.2" stroke-linecap="butt"/>
<line x1="44.70" y1="505.80" x2="47.70" y2="505.80" stroke="#1a1a1a" stroke-width="1.0" stroke-linecap="butt"/>
<text x="41.40" y="508.15" font-size="6.7" text-anchor="end" textLength="3.43" lengthAdjust="spacingAndGlyphs" fill="#222" stroke="#222" stroke-width="0.1">0</text>
<line x1="44.70" y1="496.74" x2="47.70" y2="496.74" stroke="#1a1a1a" stroke-width="1.0" stroke-linecap="butt"/>
<text x="41.40" y="499.09" font-size="6.7" text-anchor="end" textLength="6.86" lengthAdjust="spacingAndGlyphs" fill="#222" stroke="#222" stroke-width="0.1">20</text>
<line x1="44.70" y1="487.68" x2="47.70" y2="487.68" stroke="#1a1a1a" stroke-width="1.0" stroke-linecap="butt"/>
<text x="41.40" y="490.03" font-size="6.7" text-anchor="end" textLength="6.86" lengthAdjust="spacingAndGlyphs" fill="#222" stroke="#222" stroke-width="0.1">40</text>
<line x1="44.70" y1="478.62" x2="47.70" y2="478.62" stroke="#1a1a1a" stroke-width="1.0" stroke-linecap="butt"/>
<text x="41.40" y="480.97" font-size="6.7" text-anchor="end" textLength="6.86" lengthAdjust="spacingAndGlyphs" fill="#222" stroke="#222" stroke-width="0.1">60</text>
<line x1="44.70" y1="469.56" x2="47.70" y2="469.56" stroke="#1a1a1a" stroke-width="1.0" stroke-linecap="butt"/>
<text x="41.40" y="471.91" font-size="6.7" text-anchor="end" textLength="6.86" lengthAdjust="spacingAndGlyphs" fill="#222" stroke="#222" stroke-width="0.1">80</text>
<line x1="44.70" y1="460.50" x2="47.70" y2="460.50" stroke="#1a1a1a" stroke-width="1.0" stroke-linecap="butt"/>
<text x="41.40" y="462.85" font-size="6.7" text-anchor="end" textLength="10.28" lengthAdjust="spacingAndGlyphs" fill="#222" stroke="#222" stroke-width="0.1">100</text>
<line x1="44.70" y1="451.44" x2="47.70" y2="451.44" stroke="#1a1a1a" stroke-width="1.0" stroke-linecap="butt"/>
<text x="41.40" y="453.79" font-size="6.7" text-anchor="end" textLength="10.28" lengthAdjust="spacingAndGlyphs" fill="#222" stroke="#222" stroke-width="0.1">120</text>
<line x1="52.80" y1="505.80" x2="52.80" y2="508.80" stroke="#1a1a1a" stroke-width="1.0" stroke-linecap="butt"/>
<text x="52.80" y="517.50" font-size="6.7" text-anchor="middle" textLength="3.43" lengthAdjust="spacingAndGlyphs" fill="#222" stroke="#222" stroke-width="0.1">1</text>
<line x1="69.24" y1="505.80" x2="69.24" y2="508.80" stroke="#1a1a1a" stroke-width="1.0" stroke-linecap="butt"/>
<text x="69.24" y="517.50" font-size="6.7" text-anchor="middle" textLength="6.86" lengthAdjust="spacingAndGlyphs" fill="#222" stroke="#222" stroke-width="0.1">10</text>
<line x1="85.68" y1="505.80" x2="85.68" y2="508.80" stroke="#1a1a1a" stroke-width="1.0" stroke-linecap="butt"/>
<text x="85.68" y="517.50" font-size="6.7" text-anchor="middle" textLength="10.28" lengthAdjust="spacingAndGlyphs" fill="#222" stroke="#222" stroke-width="0.1">100</text>
<line x1="102.12" y1="505.80" x2="102.12" y2="508.80" stroke="#1a1a1a" stroke-width="1.0" stroke-linecap="butt"/>
<text x="102.12" y="517.50" font-size="6.7" text-anchor="middle" textLength="13.71" lengthAdjust="spacingAndGlyphs" fill="#222" stroke="#222" stroke-width="0.1">1000</text>
<line x1="118.56" y1="505.80" x2="118.56" y2="508.80" stroke="#1a1a1a" stroke-width="1.0" stroke-linecap="butt"/>
<text x="118.56" y="517.50" font-size="6.7" text-anchor="middle" textLength="17.14" lengthAdjust="spacingAndGlyphs" fill="#222" stroke="#222" stroke-width="0.1">10000</text>
<text x="73.60" y="444.10" font-size="8.1" fill="#111" textLength="33.10" lengthAdjust="spacingAndGlyphs" stroke="#111" stroke-width="0.04">ruxolitinib</text>
<text x="83.30" y="529.00" font-size="8.4" fill="#111" textLength="11.70" lengthAdjust="spacingAndGlyphs" stroke="#111" stroke-width="0.3">[nM]</text>
<text transform="translate(24.80,491.00) rotate(-90)" x="0" y="0" font-size="8.0" textLength="26.40" lengthAdjust="spacingAndGlyphs" fill="#111" stroke="#111" stroke-width="0.22">% viability</text>
<line x1="176.30" y1="501.50" x2="256.50" y2="501.50" stroke="#333" stroke-width="1.1" stroke-dasharray="1.9,1.1" stroke-linecap="butt"/>
<path d="M180.00,504.77 L181.11,504.77 L182.22,504.77 L183.33,504.77 L184.43,504.77 L185.54,504.77 L186.65,504.77 L187.76,504.77 L188.87,504.77 L189.98,504.77 L191.08,504.77 L192.19,504.77 L193.30,504.77 L194.41,504.76 L195.52,504.76 L196.63,504.76 L197.74,504.76 L198.84,504.75 L199.95,504.75 L201.06,504.74 L202.17,504.73 L203.28,504.71 L204.39,504.70 L205.49,504.68 L206.60,504.65 L207.71,504.61 L208.82,504.56 L209.93,504.50 L211.04,504.42 L212.15,504.32 L213.25,504.20 L214.36,504.04 L215.47,503.84 L216.58,503.59 L217.69,503.30 L218.80,502.94 L219.91,502.52 L221.01,502.05 L222.12,501.52 L223.23,500.95 L224.34,500.35 L225.45,499.75 L226.56,499.16 L227.66,498.61 L228.77,498.10 L229.88,497.65 L230.99,497.26 L232.10,496.94 L233.21,496.66 L234.32,496.44 L235.42,496.26 L236.53,496.12 L237.64,496.00 L238.75,495.91 L239.86,495.85 L240.97,495.79 L242.07,495.75 L243.18,495.72 L244.29,495.69 L245.40,495.67" fill="none" stroke="#bf1a40" stroke-width="1.12"/>
<path d="M180.00,503.69 L181.11,503.69 L182.22,503.68 L183.33,503.67 L184.43,503.66 L185.54,503.65 L186.65,503.64 L187.76,503.63 L188.87,503.61 L189.98,503.59 L191.08,503.57 L192.19,503.55 L193.30,503.52 L194.41,503.48 L195.52,503.44 L196.63,503.40 L197.74,503.34 L198.84,503.28 L199.95,503.21 L201.06,503.13 L202.17,503.03 L203.28,502.92 L204.39,502.79 L205.49,502.64 L206.60,502.47 L207.71,502.28 L208.82,502.06 L209.93,501.81 L211.04,501.53 L212.15,501.22 L213.25,500.87 L214.36,500.48 L215.47,500.06 L216.58,499.60 L217.69,499.10 L218.80,498.56 L219.91,498.00 L221.01,497.41 L222.12,496.80 L223.23,496.18 L224.34,495.55 L225.45,494.93 L226.56,494.31 L227.66,493.71 L228.77,493.13 L229.88,492.58 L230.99,492.07 L232.10,491.58 L233.21,491.14 L234.32,490.73 L235.42,490.36 L236.53,490.03 L237.64,489.73 L238.75,489.46 L239.86,489.23 L240.97,489.02 L242.07,488.84 L243.18,488.68 L244.29,488.54 L245.40,488.42" fill="none" stroke="#ec8b20" stroke-width="1.12"/>
<path d="M180.00,503.67 L181.11,503.67 L182.22,503.67 L183.33,503.67 L184.43,503.67 L185.54,503.66 L186.65,503.66 L187.76,503.66 L188.87,503.66 L189.98,503.66 L191.08,503.66 L192.19,503.65 L193.30,503.65 L194.41,503.64 L195.52,503.63 L196.63,503.62 L197.74,503.61 L198.84,503.59 L199.95,503.56 L201.06,503.52 L202.17,503.48 L203.28,503.41 L204.39,503.33 L205.49,503.22 L206.60,503.07 L207.71,502.88 L208.82,502.64 L209.93,502.32 L211.04,501.92 L212.15,501.42 L213.25,500.80 L214.36,500.06 L215.47,499.19 L216.58,498.21 L217.69,497.13 L218.80,496.00 L219.91,494.87 L221.01,493.77 L222.12,492.74 L223.23,491.83 L224.34,491.04 L225.45,490.37 L226.56,489.83 L227.66,489.39 L228.77,489.04 L229.88,488.77 L230.99,488.56 L232.10,488.40 L233.21,488.27 L234.32,488.18 L235.42,488.11 L236.53,488.06 L237.64,488.02 L238.75,487.98 L239.86,487.96 L240.97,487.95 L242.07,487.93 L243.18,487.92 L244.29,487.92 L245.40,487.91" fill="none" stroke="#f0b51a" stroke-width="1.12"/>
<path d="M180.00,503.60 L181.11,503.57 L182.22,503.55 L183.33,503.52 L184.43,503.48 L185.54,503.45 L186.65,503.41 L187.76,503.36 L188.87,503.32 L189.98,503.26 L191.08,503.21 L192.19,503.15 L193.30,503.08 L194.41,503.01 L195.52,502.93 L196.63,502.84 L197.74,502.74 L198.84,502.64 L199.95,502.53 L201.06,502.40 L202.17,502.27 L203.28,502.13 L204.39,501.97 L205.49,501.80 L206.60,501.62 L207.71,501.42 L208.82,501.20 L209.93,500.97 L211.04,500.73 L212.15,500.46 L213.25,500.18 L214.36,499.87 L215.47,499.55 L216.58,499.21 L217.69,498.84 L218.80,498.45 L219.91,498.05 L221.01,497.62 L222.12,497.17 L223.23,496.70 L224.34,496.21 L225.45,495.70 L226.56,495.18 L227.66,494.64 L228.77,494.08 L229.88,493.51 L230.99,492.94 L232.10,492.35 L233.21,491.76 L234.32,491.17 L235.42,490.58 L236.53,489.98 L237.64,489.40 L238.75,488.82 L239.86,488.25 L240.97,487.70 L242.07,487.15 L243.18,486.63 L244.29,486.12 L245.40,485.63" fill="none" stroke="#6e4219" stroke-width="1.12"/>
<path d="M180.00,502.92 L181.11,502.67 L182.22,502.42 L183.33,502.17 L184.43,501.92 L185.54,501.68 L186.65,501.43 L187.76,501.18 L188.87,500.94 L189.98,500.69 L191.08,500.44 L192.19,500.20 L193.30,499.95 L194.41,499.71 L195.52,499.46 L196.63,499.22 L197.74,498.97 L198.84,498.73 L199.95,498.48 L201.06,498.24 L202.17,498.00 L203.28,497.75 L204.39,497.51 L205.49,497.27 L206.60,497.03 L207.71,496.79 L208.82,496.54 L209.93,496.30 L211.04,496.06 L212.15,495.82 L213.25,495.58 L214.36,495.34 L215.47,495.10 L216.58,494.86 L217.69,494.62 L218.80,494.38 L219.91,494.14 L221.01,493.90 L222.12,493.67 L223.23,493.43 L224.34,493.19 L225.45,492.95 L226.56,492.72 L227.66,492.48 L228.77,492.24 L229.88,492.01 L230.99,491.77 L232.10,491.53 L233.21,491.30 L234.32,491.06 L235.42,490.83 L236.53,490.59 L237.64,490.36 L238.75,490.13 L239.86,489.89 L240.97,489.66 L242.07,489.43 L243.18,489.19 L244.29,488.96 L245.40,488.73" fill="none" stroke="#1f3d8c" stroke-width="1.12"/>
<path d="M180.00,502.75 L181.11,502.60 L182.22,502.44 L183.33,502.28 L184.43,502.11 L185.54,501.94 L186.65,501.75 L187.76,501.56 L188.87,501.37 L189.98,501.16 L191.08,500.94 L192.19,500.72 L193.30,500.49 L194.41,500.25 L195.52,499.99 L196.63,499.73 L197.74,499.46 L198.84,499.17 L199.95,498.87 L201.06,498.56 L202.17,498.24 L203.28,497.91 L204.39,497.56 L205.49,497.19 L206.60,496.81 L207.71,496.42 L208.82,496.01 L209.93,495.58 L211.04,495.14 L212.15,494.67 L213.25,494.19 L214.36,493.69 L215.47,493.16 L216.58,492.62 L217.69,492.05 L218.80,491.46 L219.91,490.84 L221.01,490.20 L222.12,489.53 L223.23,488.84 L224.34,488.12 L225.45,487.36 L226.56,486.58 L227.66,485.76 L228.77,484.91 L229.88,484.02 L230.99,483.10 L232.10,482.14 L233.21,481.14 L234.32,480.10 L235.42,479.01 L236.53,477.88 L237.64,476.70 L238.75,475.48 L239.86,474.20 L240.97,472.87 L242.07,471.49 L243.18,470.05 L244.29,468.55 L245.40,466.99" fill="none" stroke="#55a7e6" stroke-width="1.12"/>
<path d="M180.00,504.93 L181.11,504.88 L182.22,504.82 L183.33,504.75 L184.43,504.67 L185.54,504.57 L186.65,504.46 L187.76,504.32 L188.87,504.16 L189.98,503.97 L191.08,503.75 L192.19,503.49 L193.30,503.18 L194.41,502.82 L195.52,502.41 L196.63,501.93 L197.74,501.38 L198.84,500.75 L199.95,500.03 L201.06,499.23 L202.17,498.33 L203.28,497.34 L204.39,496.26 L205.49,495.09 L206.60,493.85 L207.71,492.54 L208.82,491.19 L209.93,489.82 L211.04,488.44 L212.15,487.07 L213.25,485.74 L214.36,484.47 L215.47,483.27 L216.58,482.14 L217.69,481.11 L218.80,480.17 L219.91,479.32 L221.01,478.56 L222.12,477.90 L223.23,477.31 L224.34,476.80 L225.45,476.35 L226.56,475.97 L227.66,475.64 L228.77,475.36 L229.88,475.12 L230.99,474.91 L232.10,474.74 L233.21,474.59 L234.32,474.46 L235.42,474.36 L236.53,474.27 L237.64,474.20 L238.75,474.13 L239.86,474.08 L240.97,474.04 L242.07,474.00 L243.18,473.97 L244.29,473.94 L245.40,473.92" fill="none" stroke="#5aab3c" stroke-width="1.12"/>
<circle cx="180.00" cy="504.77" r="1.2" fill="#bf1a40"/>
<circle cx="196.35" cy="504.76" r="1.2" fill="#bf1a40"/>
<circle cx="212.70" cy="504.26" r="1.2" fill="#bf1a40"/>
<circle cx="229.05" cy="497.98" r="1.2" fill="#bf1a40"/>
<circle cx="245.40" cy="495.67" r="1.2" fill="#bf1a40"/>
<circle cx="180.00" cy="503.69" r="1.2" fill="#ec8b20"/>
<circle cx="196.35" cy="503.41" r="1.2" fill="#ec8b20"/>
<circle cx="212.70" cy="501.05" r="1.2" fill="#ec8b20"/>
<circle cx="229.05" cy="492.99" r="1.2" fill="#ec8b20"/>
<circle cx="245.40" cy="488.42" r="1.2" fill="#ec8b20"/>
<circle cx="180.00" cy="503.67" r="1.2" fill="#f0b51a"/>
<circle cx="196.35" cy="503.62" r="1.2" fill="#f0b51a"/>
<circle cx="212.70" cy="501.12" r="1.2" fill="#f0b51a"/>
<circle cx="229.05" cy="488.96" r="1.2" fill="#f0b51a"/>
<circle cx="245.40" cy="487.91" r="1.2" fill="#f0b51a"/>
<circle cx="180.00" cy="503.60" r="1.2" fill="#6e4219"/>
<circle cx="196.35" cy="502.86" r="1.2" fill="#6e4219"/>
<circle cx="212.70" cy="500.32" r="1.2" fill="#6e4219"/>
<circle cx="229.05" cy="493.94" r="1.2" fill="#6e4219"/>
<circle cx="245.40" cy="485.63" r="1.2" fill="#6e4219"/>
<circle cx="180.00" cy="502.92" r="1.2" fill="#1f3d8c"/>
<circle cx="196.35" cy="499.28" r="1.2" fill="#1f3d8c"/>
<circle cx="212.70" cy="495.70" r="1.2" fill="#1f3d8c"/>
<circle cx="229.05" cy="492.18" r="1.2" fill="#1f3d8c"/>
<circle cx="245.40" cy="488.73" r="1.2" fill="#1f3d8c"/>
<circle cx="180.00" cy="502.75" r="1.2" fill="#55a7e6"/>
<circle cx="196.35" cy="499.80" r="1.2" fill="#55a7e6"/>
<circle cx="212.70" cy="494.43" r="1.2" fill="#55a7e6"/>
<circle cx="229.05" cy="484.69" r="1.2" fill="#55a7e6"/>
<circle cx="245.40" cy="466.99" r="1.2" fill="#55a7e6"/>
<circle cx="180.00" cy="504.26" r="1.2" fill="#5aab3c"/>
<circle cx="196.35" cy="503.01" r="1.2" fill="#5aab3c"/>
<circle cx="212.70" cy="485.62" r="1.2" fill="#5aab3c"/>
<circle cx="229.05" cy="477.38" r="1.2" fill="#5aab3c"/>
<circle cx="245.40" cy="472.86" r="1.2" fill="#5aab3c"/>
<line x1="175.30" y1="448.25" x2="175.30" y2="507.02" stroke="#1a1a1a" stroke-width="1.2" stroke-linecap="butt"/>
<line x1="174.70" y1="506.52" x2="257.00" y2="506.52" stroke="#1a1a1a" stroke-width="1.2" stroke-linecap="butt"/>
<line x1="172.30" y1="501.50" x2="175.30" y2="501.50" stroke="#1a1a1a" stroke-width="1.0" stroke-linecap="butt"/>
<text x="169.00" y="503.85" font-size="6.7" text-anchor="end" textLength="3.43" lengthAdjust="spacingAndGlyphs" fill="#222" stroke="#222" stroke-width="0.1">0</text>
<line x1="172.30" y1="491.45" x2="175.30" y2="491.45" stroke="#1a1a1a" stroke-width="1.0" stroke-linecap="butt"/>
<text x="169.00" y="493.80" font-size="6.7" text-anchor="end" textLength="6.86" lengthAdjust="spacingAndGlyphs" fill="#222" stroke="#222" stroke-width="0.1">20</text>
<line x1="172.30" y1="481.40" x2="175.30" y2="481.40" stroke="#1a1a1a" stroke-width="1.0" stroke-linecap="butt"/>
<text x="169.00" y="483.75" font-size="6.7" text-anchor="end" textLength="6.86" lengthAdjust="spacingAndGlyphs" fill="#222" stroke="#222" stroke-width="0.1">40</text>
<line x1="172.30" y1="471.35" x2="175.30" y2="471.35" stroke="#1a1a1a" stroke-width="1.0" stroke-linecap="butt"/>
<text x="169.00" y="473.70" font-size="6.7" text-anchor="end" textLength="6.86" lengthAdjust="spacingAndGlyphs" fill="#222" stroke="#222" stroke-width="0.1">60</text>
<line x1="172.30" y1="461.30" x2="175.30" y2="461.30" stroke="#1a1a1a" stroke-width="1.0" stroke-linecap="butt"/>
<text x="169.00" y="463.65" font-size="6.7" text-anchor="end" textLength="6.86" lengthAdjust="spacingAndGlyphs" fill="#222" stroke="#222" stroke-width="0.1">80</text>
<line x1="172.30" y1="451.25" x2="175.30" y2="451.25" stroke="#1a1a1a" stroke-width="1.0" stroke-linecap="butt"/>
<text x="169.00" y="453.60" font-size="6.7" text-anchor="end" textLength="10.28" lengthAdjust="spacingAndGlyphs" fill="#222" stroke="#222" stroke-width="0.1">100</text>
<line x1="180.00" y1="506.52" x2="180.00" y2="509.52" stroke="#1a1a1a" stroke-width="1.0" stroke-linecap="butt"/>
<text x="180.00" y="518.23" font-size="6.7" text-anchor="middle" textLength="3.43" lengthAdjust="spacingAndGlyphs" fill="#222" stroke="#222" stroke-width="0.1">1</text>
<line x1="196.35" y1="506.52" x2="196.35" y2="509.52" stroke="#1a1a1a" stroke-width="1.0" stroke-linecap="butt"/>
<text x="196.35" y="518.23" font-size="6.7" text-anchor="middle" textLength="6.86" lengthAdjust="spacingAndGlyphs" fill="#222" stroke="#222" stroke-width="0.1">10</text>
<line x1="212.70" y1="506.52" x2="212.70" y2="509.52" stroke="#1a1a1a" stroke-width="1.0" stroke-linecap="butt"/>
<text x="212.70" y="518.23" font-size="6.7" text-anchor="middle" textLength="10.28" lengthAdjust="spacingAndGlyphs" fill="#222" stroke="#222" stroke-width="0.1">100</text>
<line x1="229.05" y1="506.52" x2="229.05" y2="509.52" stroke="#1a1a1a" stroke-width="1.0" stroke-linecap="butt"/>
<text x="229.05" y="518.23" font-size="6.7" text-anchor="middle" textLength="13.71" lengthAdjust="spacingAndGlyphs" fill="#222" stroke="#222" stroke-width="0.1">1000</text>
<line x1="245.40" y1="506.52" x2="245.40" y2="509.52" stroke="#1a1a1a" stroke-width="1.0" stroke-linecap="butt"/>
<text x="245.40" y="518.23" font-size="6.7" text-anchor="middle" textLength="17.14" lengthAdjust="spacingAndGlyphs" fill="#222" stroke="#222" stroke-width="0.1">10000</text>
<text x="199.40" y="444.10" font-size="8.1" fill="#111" textLength="33.70" lengthAdjust="spacingAndGlyphs" stroke="#111" stroke-width="0.04">ruxolitinib</text>
<text x="210.00" y="529.00" font-size="8.4" fill="#111" textLength="12.00" lengthAdjust="spacingAndGlyphs" stroke="#111" stroke-width="0.3">[nM]</text>
<text transform="translate(153.80,490.50) rotate(-90)" x="0" y="0" font-size="8.0" textLength="25.80" lengthAdjust="spacingAndGlyphs" fill="#111" stroke="#111" stroke-width="0.22">% toxicity</text>
<text x="271.60" y="16.50" font-size="11.6" font-weight="bold" text-anchor="end" fill="#000" stroke="#000" stroke-width="0.25">E</text>
<text x="401.10" y="16.50" font-size="11.6" font-weight="bold" text-anchor="end" fill="#000" stroke="#000" stroke-width="0.25">F</text>
<text x="271.70" y="123.00" font-size="11.6" font-weight="bold" text-anchor="end" fill="#000" stroke="#000" stroke-width="0.25">G</text>
<text x="399.70" y="123.00" font-size="11.6" font-weight="bold" text-anchor="end" fill="#000" stroke="#000" stroke-width="0.25">H</text>
<text x="271.50" y="229.50" font-size="11.6" font-weight="bold" text-anchor="end" fill="#000" stroke="#000" stroke-width="0.25">I</text>
<text x="399.70" y="229.80" font-size="11.6" font-weight="bold" text-anchor="end" fill="#000" stroke="#000" stroke-width="0.25">J</text>
<text x="271.70" y="336.30" font-size="11.6" font-weight="bold" text-anchor="end" fill="#000" stroke="#000" stroke-width="0.25">K</text>
<text x="399.70" y="336.30" font-size="11.6" font-weight="bold" text-anchor="end" fill="#000" stroke="#000" stroke-width="0.25">L</text>
<text x="271.50" y="443.00" font-size="11.6" font-weight="bold" text-anchor="end" fill="#000" stroke="#000" stroke-width="0.25">M</text>
<text x="399.70" y="443.00" font-size="11.6" font-weight="bold" text-anchor="end" fill="#000" stroke="#000" stroke-width="0.25">N</text>
<text x="15.00" y="16.50" font-size="11.6" font-weight="bold" text-anchor="end" fill="#000" stroke="#000" stroke-width="0.25">A</text>
<text x="14.90" y="191.20" font-size="11.6" font-weight="bold" text-anchor="end" fill="#000" stroke="#000" stroke-width="0.25">B</text>
<text x="15.00" y="443.00" font-size="11.6" font-weight="bold" text-anchor="end" fill="#000" stroke="#000" stroke-width="0.25">C</text>
<text x="144.20" y="443.00" font-size="11.6" font-weight="bold" text-anchor="end" fill="#000" stroke="#000" stroke-width="0.25">D</text>
<text x="68.00" y="17.60" font-size="8.0" fill="#111" textLength="126.00" lengthAdjust="spacingAndGlyphs" stroke="#111" stroke-width="0.03">Cell viability: STAT3 vs TP53 mutant</text>
<line x1="117.50" y1="27.00" x2="117.50" y2="142.30" stroke="#555" stroke-width="1.1" stroke-dasharray="1,1" stroke-linecap="butt"/>
<circle cx="129.50" cy="55.80" r="0.9" fill="#8a8a8a" stroke="#666" stroke-width="0.3"/>
<circle cx="112.80" cy="72.80" r="0.9" fill="#8a8a8a" stroke="#666" stroke-width="0.3"/>
<circle cx="106.20" cy="84.20" r="0.9" fill="#8a8a8a" stroke="#666" stroke-width="0.3"/>
<circle cx="97.20" cy="93.90" r="0.9" fill="#8a8a8a" stroke="#666" stroke-width="0.3"/>
<circle cx="104.60" cy="94.40" r="0.9" fill="#8a8a8a" stroke="#666" stroke-width="0.3"/>
<circle cx="93.20" cy="109.20" r="0.9" fill="#8a8a8a" stroke="#666" stroke-width="0.3"/>
<circle cx="99.50" cy="109.00" r="0.9" fill="#8a8a8a" stroke="#666" stroke-width="0.3"/>
<circle cx="96.70" cy="112.20" r="0.9" fill="#8a8a8a" stroke="#666" stroke-width="0.3"/>
<circle cx="98.90" cy="113.70" r="0.9" fill="#8a8a8a" stroke="#666" stroke-width="0.3"/>
<circle cx="102.50" cy="113.80" r="0.9" fill="#8a8a8a" stroke="#666" stroke-width="0.3"/>
<circle cx="121.90" cy="111.10" r="0.9" fill="#8a8a8a" stroke="#666" stroke-width="0.3"/>
<circle cx="89.50" cy="117.40" r="0.9" fill="#8a8a8a" stroke="#666" stroke-width="0.3"/>
<circle cx="91.20" cy="116.40" r="0.9" fill="#8a8a8a" stroke="#666" stroke-width="0.3"/>
<circle cx="87.40" cy="119.10" r="0.9" fill="#8a8a8a" stroke="#666" stroke-width="0.3"/>
<circle cx="90.80" cy="121.40" r="0.9" fill="#8a8a8a" stroke="#666" stroke-width="0.3"/>
<circle cx="92.50" cy="120.50" r="0.9" fill="#8a8a8a" stroke="#666" stroke-width="0.3"/>
<circle cx="79.90" cy="122.40" r="0.9" fill="#8a8a8a" stroke="#666" stroke-width="0.3"/>
<circle cx="100.80" cy="119.70" r="0.9" fill="#8a8a8a" stroke="#666" stroke-width="0.3"/>
<circle cx="103.50" cy="120.80" r="0.9" fill="#8a8a8a" stroke="#666" stroke-width="0.3"/>
<circle cx="93.60" cy="125.00" r="0.9" fill="#8a8a8a" stroke="#666" stroke-width="0.3"/>
<circle cx="94.60" cy="128.10" r="0.9" fill="#8a8a8a" stroke="#666" stroke-width="0.3"/>
<circle cx="97.70" cy="125.60" r="0.9" fill="#8a8a8a" stroke="#666" stroke-width="0.3"/>
<circle cx="98.40" cy="127.00" r="0.9" fill="#8a8a8a" stroke="#666" stroke-width="0.3"/>
<circle cx="91.90" cy="130.20" r="0.9" fill="#8a8a8a" stroke="#666" stroke-width="0.3"/>
<circle cx="91.90" cy="132.20" r="0.9" fill="#8a8a8a" stroke="#666" stroke-width="0.3"/>
<circle cx="101.20" cy="132.20" r="0.9" fill="#8a8a8a" stroke="#666" stroke-width="0.3"/>
<circle cx="103.90" cy="132.90" r="0.9" fill="#8a8a8a" stroke="#666" stroke-width="0.3"/>
<circle cx="104.20" cy="125.00" r="0.9" fill="#8a8a8a" stroke="#666" stroke-width="0.3"/>
<circle cx="103.60" cy="128.10" r="0.9" fill="#8a8a8a" stroke="#666" stroke-width="0.3"/>
<circle cx="107.30" cy="117.70" r="0.9" fill="#8a8a8a" stroke="#666" stroke-width="0.3"/>
<circle cx="108.10" cy="116.90" r="0.9" fill="#8a8a8a" stroke="#666" stroke-width="0.3"/>
<circle cx="111.90" cy="118.30" r="0.9" fill="#8a8a8a" stroke="#666" stroke-width="0.3"/>
<circle cx="107.30" cy="121.20" r="0.9" fill="#8a8a8a" stroke="#666" stroke-width="0.3"/>
<circle cx="108.80" cy="121.20" r="0.9" fill="#8a8a8a" stroke="#666" stroke-width="0.3"/>
<circle cx="111.90" cy="121.50" r="0.9" fill="#8a8a8a" stroke="#666" stroke-width="0.3"/>
<circle cx="118.50" cy="118.10" r="0.9" fill="#8a8a8a" stroke="#666" stroke-width="0.3"/>
<circle cx="126.20" cy="122.20" r="0.9" fill="#8a8a8a" stroke="#666" stroke-width="0.3"/>
<circle cx="104.60" cy="123.80" r="0.9" fill="#8a8a8a" stroke="#666" stroke-width="0.3"/>
<circle cx="105.40" cy="125.40" r="0.9" fill="#8a8a8a" stroke="#666" stroke-width="0.3"/>
<circle cx="110.00" cy="124.20" r="0.9" fill="#8a8a8a" stroke="#666" stroke-width="0.3"/>
<circle cx="117.70" cy="126.50" r="0.9" fill="#8a8a8a" stroke="#666" stroke-width="0.3"/>
<circle cx="108.50" cy="126.20" r="0.9" fill="#8a8a8a" stroke="#666" stroke-width="0.3"/>
<circle cx="109.20" cy="130.00" r="0.9" fill="#8a8a8a" stroke="#666" stroke-width="0.3"/>
<circle cx="115.40" cy="128.80" r="0.9" fill="#8a8a8a" stroke="#666" stroke-width="0.3"/>
<circle cx="112.30" cy="131.20" r="0.9" fill="#8a8a8a" stroke="#666" stroke-width="0.3"/>
<circle cx="113.00" cy="131.60" r="0.9" fill="#8a8a8a" stroke="#666" stroke-width="0.3"/>
<circle cx="114.60" cy="131.50" r="0.9" fill="#8a8a8a" stroke="#666" stroke-width="0.3"/>
<circle cx="116.90" cy="130.40" r="0.9" fill="#8a8a8a" stroke="#666" stroke-width="0.3"/>
<circle cx="107.30" cy="132.70" r="0.9" fill="#8a8a8a" stroke="#666" stroke-width="0.3"/>
<circle cx="117.30" cy="132.70" r="0.9" fill="#8a8a8a" stroke="#666" stroke-width="0.3"/>
<circle cx="120.00" cy="134.60" r="0.9" fill="#8a8a8a" stroke="#666" stroke-width="0.3"/>
<circle cx="123.10" cy="134.50" r="0.9" fill="#8a8a8a" stroke="#666" stroke-width="0.3"/>
<circle cx="106.20" cy="135.80" r="0.9" fill="#8a8a8a" stroke="#666" stroke-width="0.3"/>
<circle cx="110.40" cy="136.50" r="0.9" fill="#8a8a8a" stroke="#666" stroke-width="0.3"/>
<circle cx="114.20" cy="135.00" r="0.9" fill="#8a8a8a" stroke="#666" stroke-width="0.3"/>
<circle cx="122.30" cy="136.90" r="0.9" fill="#8a8a8a" stroke="#666" stroke-width="0.3"/>
<circle cx="124.60" cy="138.10" r="0.9" fill="#8a8a8a" stroke="#666" stroke-width="0.3"/>
<circle cx="128.10" cy="138.60" r="0.9" fill="#8a8a8a" stroke="#666" stroke-width="0.3"/>
<circle cx="135.20" cy="137.70" r="0.9" fill="#8a8a8a" stroke="#666" stroke-width="0.3"/>
<circle cx="109.20" cy="139.20" r="0.9" fill="#8a8a8a" stroke="#666" stroke-width="0.3"/>
<circle cx="111.90" cy="140.00" r="0.9" fill="#8a8a8a" stroke="#666" stroke-width="0.3"/>
<circle cx="115.80" cy="140.40" r="0.9" fill="#8a8a8a" stroke="#666" stroke-width="0.3"/>
<circle cx="117.70" cy="139.20" r="0.9" fill="#8a8a8a" stroke="#666" stroke-width="0.3"/>
<circle cx="123.10" cy="139.60" r="0.9" fill="#8a8a8a" stroke="#666" stroke-width="0.3"/>
<circle cx="117.70" cy="141.20" r="0.9" fill="#8a8a8a" stroke="#666" stroke-width="0.3"/>
<circle cx="115.00" cy="138.10" r="0.9" fill="#8a8a8a" stroke="#666" stroke-width="0.3"/>
<circle cx="113.50" cy="127.50" r="0.9" fill="#8a8a8a" stroke="#666" stroke-width="0.3"/>
<circle cx="116.50" cy="124.00" r="0.9" fill="#8a8a8a" stroke="#666" stroke-width="0.3"/>
<circle cx="119.00" cy="129.00" r="0.9" fill="#8a8a8a" stroke="#666" stroke-width="0.3"/>
<circle cx="117.00" cy="136.00" r="0.9" fill="#8a8a8a" stroke="#666" stroke-width="0.3"/>
<circle cx="119.50" cy="141.00" r="0.9" fill="#8a8a8a" stroke="#666" stroke-width="0.3"/>
<circle cx="112.30" cy="131.20" r="1.0" fill="#333"/>
<circle cx="117.70" cy="126.50" r="1.0" fill="#333"/>
<circle cx="117.60" cy="141.00" r="1.0" fill="#333"/>
<line x1="76.30" y1="84.40" x2="91.60" y2="85.30" stroke="#222" stroke-width="0.75" stroke-linecap="butt"/>
<line x1="80.10" y1="88.90" x2="94.20" y2="87.40" stroke="#222" stroke-width="0.75" stroke-linecap="butt"/>
<line x1="56.40" y1="109.90" x2="56.40" y2="117.60" stroke="#222" stroke-width="0.75" stroke-linecap="butt"/>
<rect x="75.70" y="71.70" width="2.2" height="2.2" fill="#e88a10"/>
<rect x="76.50" y="76.80" width="2.2" height="2.2" fill="#e88a10"/>
<rect x="90.80" y="84.20" width="2.2" height="2.2" fill="#e88a10"/>
<rect x="93.50" y="86.30" width="2.2" height="2.2" fill="#e88a10"/>
<rect x="76.80" y="95.80" width="2.2" height="2.2" fill="#e88a10"/>
<rect x="78.20" y="99.30" width="2.2" height="2.2" fill="#e88a10"/>
<rect x="84.90" y="99.70" width="2.2" height="2.2" fill="#e88a10"/>
<rect x="62.10" y="105.40" width="2.2" height="2.2" fill="#e88a10"/>
<rect x="55.30" y="107.00" width="2.2" height="2.2" fill="#e88a10"/>
<circle cx="145.25" cy="40.75" r="1.35" fill="#14307a"/>
<circle cx="184.50" cy="56.25" r="1.35" fill="#14307a"/>
<circle cx="188.00" cy="121.50" r="1.35" fill="#14307a"/>
<circle cx="144.25" cy="133.75" r="1.35" fill="#14307a"/>
<text x="145.00" y="37.30" font-size="5.6" textLength="22.00" lengthAdjust="spacingAndGlyphs" stroke="#222" stroke-width="0.1">AMG-232</text>
<text x="185.75" y="54.00" font-size="5.6" textLength="23.25" lengthAdjust="spacingAndGlyphs" stroke="#222" stroke-width="0.1">idasanutlin</text>
<text x="159.00" y="119.70" font-size="5.6" textLength="26.00" lengthAdjust="spacingAndGlyphs" stroke="#222" stroke-width="0.1">A-1331852</text>
<text x="147.50" y="133.00" font-size="5.6" textLength="21.25" lengthAdjust="spacingAndGlyphs" stroke="#222" stroke-width="0.1">navitoclax</text>
<text x="50.50" y="72.00" font-size="5.6" textLength="25.50" lengthAdjust="spacingAndGlyphs" stroke="#222" stroke-width="0.1">midostaurin</text>
<text x="54.20" y="78.50" font-size="5.6" textLength="20.70" lengthAdjust="spacingAndGlyphs" stroke="#222" stroke-width="0.1">volasertib</text>
<text x="52.10" y="85.70" font-size="5.6" textLength="23.10" lengthAdjust="spacingAndGlyphs" stroke="#222" stroke-width="0.1">tosedostat</text>
<text x="52.10" y="90.60" font-size="5.6" textLength="26.90" lengthAdjust="spacingAndGlyphs" stroke="#222" stroke-width="0.1">momelotinib</text>
<text x="48.80" y="95.90" font-size="5.6" textLength="27.20" lengthAdjust="spacingAndGlyphs" stroke="#222" stroke-width="0.1">gemcitabine</text>
<text x="53.20" y="103.50" font-size="5.6" textLength="20.40" lengthAdjust="spacingAndGlyphs" stroke="#222" stroke-width="0.1">ruxolitinib</text>
<text x="88.20" y="102.90" font-size="5.6" textLength="23.80" lengthAdjust="spacingAndGlyphs" stroke="#222" stroke-width="0.1">palbociclib</text>
<text x="64.50" y="110.80" font-size="5.6" textLength="17.90" lengthAdjust="spacingAndGlyphs" stroke="#222" stroke-width="0.1">filanesib</text>
<text x="47.00" y="121.80" font-size="5.6" textLength="22.50" lengthAdjust="spacingAndGlyphs" stroke="#222" stroke-width="0.1">cytarabine</text>
<line x1="44.30" y1="25.00" x2="44.30" y2="142.90" stroke="#1a1a1a" stroke-width="1.25" stroke-linecap="butt"/>
<line x1="43.70" y1="142.30" x2="218.00" y2="142.30" stroke="#1a1a1a" stroke-width="1.25" stroke-linecap="butt"/>
<line x1="41.20" y1="142.30" x2="44.30" y2="142.30" stroke="#1a1a1a" stroke-width="1.0" stroke-linecap="butt"/>
<text x="38.50" y="144.50" font-size="6.5" text-anchor="end" textLength="3.33" lengthAdjust="spacingAndGlyphs" fill="#222" stroke="#222" stroke-width="0.1">0</text>
<line x1="41.20" y1="113.75" x2="44.30" y2="113.75" stroke="#1a1a1a" stroke-width="1.0" stroke-linecap="butt"/>
<text x="38.50" y="115.95" font-size="6.5" text-anchor="end" textLength="3.33" lengthAdjust="spacingAndGlyphs" fill="#222" stroke="#222" stroke-width="0.1">1</text>
<line x1="41.20" y1="85.20" x2="44.30" y2="85.20" stroke="#1a1a1a" stroke-width="1.0" stroke-linecap="butt"/>
<text x="38.50" y="87.40" font-size="6.5" text-anchor="end" textLength="3.33" lengthAdjust="spacingAndGlyphs" fill="#222" stroke="#222" stroke-width="0.1">2</text>
<line x1="41.20" y1="56.65" x2="44.30" y2="56.65" stroke="#1a1a1a" stroke-width="1.0" stroke-linecap="butt"/>
<text x="38.50" y="58.85" font-size="6.5" text-anchor="end" textLength="3.33" lengthAdjust="spacingAndGlyphs" fill="#222" stroke="#222" stroke-width="0.1">3</text>
<line x1="41.20" y1="28.10" x2="44.30" y2="28.10" stroke="#1a1a1a" stroke-width="1.0" stroke-linecap="butt"/>
<text x="38.50" y="30.30" font-size="6.5" text-anchor="end" textLength="3.33" lengthAdjust="spacingAndGlyphs" fill="#222" stroke="#222" stroke-width="0.1">4</text>
<line x1="42.60" y1="128.03" x2="44.30" y2="128.03" stroke="#1a1a1a" stroke-width="0.9" stroke-linecap="butt"/>
<line x1="42.60" y1="99.48" x2="44.30" y2="99.48" stroke="#1a1a1a" stroke-width="0.9" stroke-linecap="butt"/>
<line x1="42.60" y1="70.93" x2="44.30" y2="70.93" stroke="#1a1a1a" stroke-width="0.9" stroke-linecap="butt"/>
<line x1="42.60" y1="42.38" x2="44.30" y2="42.38" stroke="#1a1a1a" stroke-width="0.9" stroke-linecap="butt"/>
<line x1="44.00" y1="142.30" x2="44.00" y2="145.20" stroke="#1a1a1a" stroke-width="1.0" stroke-linecap="butt"/>
<text x="43.10" y="154.30" font-size="6.5" text-anchor="middle" textLength="8.64" lengthAdjust="spacingAndGlyphs" fill="#222" stroke="#222" stroke-width="0.1">-15</text>
<line x1="68.50" y1="142.30" x2="68.50" y2="145.20" stroke="#1a1a1a" stroke-width="1.0" stroke-linecap="butt"/>
<text x="67.60" y="154.30" font-size="6.5" text-anchor="middle" textLength="8.64" lengthAdjust="spacingAndGlyphs" fill="#222" stroke="#222" stroke-width="0.1">-10</text>
<line x1="93.00" y1="142.30" x2="93.00" y2="145.20" stroke="#1a1a1a" stroke-width="1.0" stroke-linecap="butt"/>
<text x="92.10" y="154.30" font-size="6.5" text-anchor="middle" textLength="5.32" lengthAdjust="spacingAndGlyphs" fill="#222" stroke="#222" stroke-width="0.1">-5</text>
<line x1="117.50" y1="142.30" x2="117.50" y2="145.20" stroke="#1a1a1a" stroke-width="1.0" stroke-linecap="butt"/>
<text x="117.50" y="154.30" font-size="6.5" text-anchor="middle" textLength="3.33" lengthAdjust="spacingAndGlyphs" fill="#222" stroke="#222" stroke-width="0.1">0</text>
<line x1="142.00" y1="142.30" x2="142.00" y2="145.20" stroke="#1a1a1a" stroke-width="1.0" stroke-linecap="butt"/>
<text x="142.00" y="154.30" font-size="6.5" text-anchor="middle" textLength="3.33" lengthAdjust="spacingAndGlyphs" fill="#222" stroke="#222" stroke-width="0.1">5</text>
<line x1="166.50" y1="142.30" x2="166.50" y2="145.20" stroke="#1a1a1a" stroke-width="1.0" stroke-linecap="butt"/>
<text x="166.50" y="154.30" font-size="6.5" text-anchor="middle" textLength="6.65" lengthAdjust="spacingAndGlyphs" fill="#222" stroke="#222" stroke-width="0.1">10</text>
<line x1="191.00" y1="142.30" x2="191.00" y2="145.20" stroke="#1a1a1a" stroke-width="1.0" stroke-linecap="butt"/>
<text x="191.00" y="154.30" font-size="6.5" text-anchor="middle" textLength="6.65" lengthAdjust="spacingAndGlyphs" fill="#222" stroke="#222" stroke-width="0.1">15</text>
<line x1="215.50" y1="142.30" x2="215.50" y2="145.20" stroke="#1a1a1a" stroke-width="1.0" stroke-linecap="butt"/>
<text x="215.50" y="154.30" font-size="6.5" text-anchor="middle" textLength="6.65" lengthAdjust="spacingAndGlyphs" fill="#222" stroke="#222" stroke-width="0.1">20</text>
<text transform="translate(29.20,100.00) rotate(-90)" x="0" y="0" font-size="7.6" textLength="32.50" lengthAdjust="spacingAndGlyphs" fill="#111" stroke="#111" stroke-width="0.15">-log(P value)</text>
<text x="109.00" y="165.20" font-size="8.8" fill="#111" textLength="44.80" lengthAdjust="spacingAndGlyphs" stroke="#111" stroke-width="0.18">Difference in DSS</text>
<text x="68.75" y="192.40" font-size="8.0" fill="#111" textLength="125.00" lengthAdjust="spacingAndGlyphs" stroke="#111" stroke-width="0.03">Cell toxicity: STAT3 vs TP53 mutant</text>
<line x1="113.00" y1="202.00" x2="113.00" y2="317.30" stroke="#555" stroke-width="2.0" stroke-dasharray="1,1" stroke-linecap="butt"/>
<circle cx="88.50" cy="272.10" r="0.9" fill="#8a8a8a" stroke="#666" stroke-width="0.3"/>
<circle cx="86.90" cy="274.50" r="0.9" fill="#8a8a8a" stroke="#666" stroke-width="0.3"/>
<circle cx="84.50" cy="279.00" r="0.9" fill="#8a8a8a" stroke="#666" stroke-width="0.3"/>
<circle cx="95.70" cy="286.00" r="0.9" fill="#8a8a8a" stroke="#666" stroke-width="0.3"/>
<circle cx="102.00" cy="289.00" r="0.9" fill="#8a8a8a" stroke="#666" stroke-width="0.3"/>
<circle cx="85.60" cy="293.00" r="0.9" fill="#8a8a8a" stroke="#666" stroke-width="0.3"/>
<circle cx="102.00" cy="298.10" r="0.9" fill="#8a8a8a" stroke="#666" stroke-width="0.3"/>
<circle cx="91.60" cy="300.80" r="0.9" fill="#8a8a8a" stroke="#666" stroke-width="0.3"/>
<circle cx="115.90" cy="265.10" r="0.9" fill="#8a8a8a" stroke="#666" stroke-width="0.3"/>
<circle cx="119.90" cy="270.90" r="0.9" fill="#8a8a8a" stroke="#666" stroke-width="0.3"/>
<circle cx="119.00" cy="276.30" r="0.9" fill="#8a8a8a" stroke="#666" stroke-width="0.3"/>
<circle cx="124.30" cy="281.00" r="0.9" fill="#8a8a8a" stroke="#666" stroke-width="0.3"/>
<circle cx="111.80" cy="282.60" r="0.9" fill="#8a8a8a" stroke="#666" stroke-width="0.3"/>
<circle cx="113.80" cy="286.00" r="0.9" fill="#8a8a8a" stroke="#666" stroke-width="0.3"/>
<circle cx="115.90" cy="285.70" r="0.9" fill="#8a8a8a" stroke="#666" stroke-width="0.3"/>
<circle cx="117.90" cy="286.20" r="0.9" fill="#8a8a8a" stroke="#666" stroke-width="0.3"/>
<circle cx="119.90" cy="288.00" r="0.9" fill="#8a8a8a" stroke="#666" stroke-width="0.3"/>
<circle cx="125.30" cy="288.00" r="0.9" fill="#8a8a8a" stroke="#666" stroke-width="0.3"/>
<circle cx="128.60" cy="285.30" r="0.9" fill="#8a8a8a" stroke="#666" stroke-width="0.3"/>
<circle cx="109.10" cy="298.10" r="0.9" fill="#8a8a8a" stroke="#666" stroke-width="0.3"/>
<circle cx="111.80" cy="297.40" r="0.9" fill="#8a8a8a" stroke="#666" stroke-width="0.3"/>
<circle cx="115.90" cy="296.70" r="0.9" fill="#8a8a8a" stroke="#666" stroke-width="0.3"/>
<circle cx="119.20" cy="296.00" r="0.9" fill="#8a8a8a" stroke="#666" stroke-width="0.3"/>
<circle cx="121.20" cy="299.40" r="0.9" fill="#8a8a8a" stroke="#666" stroke-width="0.3"/>
<circle cx="126.00" cy="300.80" r="0.9" fill="#8a8a8a" stroke="#666" stroke-width="0.3"/>
<circle cx="125.30" cy="297.40" r="0.9" fill="#8a8a8a" stroke="#666" stroke-width="0.3"/>
<circle cx="112.50" cy="303.50" r="0.9" fill="#8a8a8a" stroke="#666" stroke-width="0.3"/>
<circle cx="115.20" cy="306.10" r="0.9" fill="#8a8a8a" stroke="#666" stroke-width="0.3"/>
<circle cx="122.60" cy="304.80" r="0.9" fill="#8a8a8a" stroke="#666" stroke-width="0.3"/>
<circle cx="122.60" cy="310.20" r="0.9" fill="#8a8a8a" stroke="#666" stroke-width="0.3"/>
<circle cx="103.10" cy="310.20" r="0.9" fill="#8a8a8a" stroke="#666" stroke-width="0.3"/>
<circle cx="107.80" cy="307.50" r="0.9" fill="#8a8a8a" stroke="#666" stroke-width="0.3"/>
<circle cx="106.40" cy="313.50" r="0.9" fill="#8a8a8a" stroke="#666" stroke-width="0.3"/>
<circle cx="113.80" cy="308.80" r="0.9" fill="#8a8a8a" stroke="#666" stroke-width="0.3"/>
<circle cx="117.20" cy="314.20" r="0.9" fill="#8a8a8a" stroke="#666" stroke-width="0.3"/>
<circle cx="111.10" cy="315.60" r="0.9" fill="#8a8a8a" stroke="#666" stroke-width="0.3"/>
<circle cx="121.10" cy="246.50" r="0.9" fill="#8a8a8a" stroke="#666" stroke-width="0.3"/>
<circle cx="129.70" cy="244.00" r="0.9" fill="#8a8a8a" stroke="#666" stroke-width="0.3"/>
<circle cx="130.80" cy="244.60" r="0.9" fill="#8a8a8a" stroke="#666" stroke-width="0.3"/>
<circle cx="126.60" cy="252.90" r="0.9" fill="#8a8a8a" stroke="#666" stroke-width="0.3"/>
<circle cx="116.00" cy="265.30" r="0.9" fill="#8a8a8a" stroke="#666" stroke-width="0.3"/>
<circle cx="119.80" cy="271.00" r="0.9" fill="#8a8a8a" stroke="#666" stroke-width="0.3"/>
<circle cx="129.70" cy="270.10" r="0.9" fill="#8a8a8a" stroke="#666" stroke-width="0.3"/>
<circle cx="129.70" cy="271.70" r="0.9" fill="#8a8a8a" stroke="#666" stroke-width="0.3"/>
<circle cx="118.80" cy="276.40" r="0.9" fill="#8a8a8a" stroke="#666" stroke-width="0.3"/>
<circle cx="133.70" cy="277.30" r="0.9" fill="#8a8a8a" stroke="#666" stroke-width="0.3"/>
<circle cx="150.30" cy="276.10" r="0.9" fill="#8a8a8a" stroke="#666" stroke-width="0.3"/>
<circle cx="124.20" cy="281.10" r="0.9" fill="#8a8a8a" stroke="#666" stroke-width="0.3"/>
<circle cx="144.00" cy="281.90" r="0.9" fill="#8a8a8a" stroke="#666" stroke-width="0.3"/>
<circle cx="149.20" cy="286.30" r="0.9" fill="#8a8a8a" stroke="#666" stroke-width="0.3"/>
<circle cx="114.70" cy="285.60" r="0.9" fill="#8a8a8a" stroke="#666" stroke-width="0.3"/>
<circle cx="129.00" cy="285.20" r="0.9" fill="#8a8a8a" stroke="#666" stroke-width="0.3"/>
<circle cx="130.50" cy="286.30" r="0.9" fill="#8a8a8a" stroke="#666" stroke-width="0.3"/>
<circle cx="135.30" cy="286.30" r="0.9" fill="#8a8a8a" stroke="#666" stroke-width="0.3"/>
<circle cx="125.30" cy="288.20" r="0.9" fill="#8a8a8a" stroke="#666" stroke-width="0.3"/>
<circle cx="130.20" cy="288.70" r="0.9" fill="#8a8a8a" stroke="#666" stroke-width="0.3"/>
<circle cx="135.30" cy="289.50" r="0.9" fill="#8a8a8a" stroke="#666" stroke-width="0.3"/>
<circle cx="139.20" cy="292.30" r="0.9" fill="#8a8a8a" stroke="#666" stroke-width="0.3"/>
<circle cx="135.30" cy="294.20" r="0.9" fill="#8a8a8a" stroke="#666" stroke-width="0.3"/>
<circle cx="116.30" cy="295.80" r="0.9" fill="#8a8a8a" stroke="#666" stroke-width="0.3"/>
<circle cx="119.50" cy="295.50" r="0.9" fill="#8a8a8a" stroke="#666" stroke-width="0.3"/>
<circle cx="125.00" cy="297.40" r="0.9" fill="#8a8a8a" stroke="#666" stroke-width="0.3"/>
<circle cx="130.50" cy="298.50" r="0.9" fill="#8a8a8a" stroke="#666" stroke-width="0.3"/>
<circle cx="134.00" cy="297.90" r="0.9" fill="#8a8a8a" stroke="#666" stroke-width="0.3"/>
<circle cx="121.10" cy="299.80" r="0.9" fill="#8a8a8a" stroke="#666" stroke-width="0.3"/>
<circle cx="125.80" cy="300.20" r="0.9" fill="#8a8a8a" stroke="#666" stroke-width="0.3"/>
<circle cx="146.30" cy="302.10" r="0.9" fill="#8a8a8a" stroke="#666" stroke-width="0.3"/>
<circle cx="116.00" cy="304.50" r="0.9" fill="#8a8a8a" stroke="#666" stroke-width="0.3"/>
<circle cx="121.80" cy="306.10" r="0.9" fill="#8a8a8a" stroke="#666" stroke-width="0.3"/>
<circle cx="133.70" cy="308.50" r="0.9" fill="#8a8a8a" stroke="#666" stroke-width="0.3"/>
<circle cx="122.60" cy="310.00" r="0.9" fill="#8a8a8a" stroke="#666" stroke-width="0.3"/>
<circle cx="114.70" cy="309.20" r="0.9" fill="#8a8a8a" stroke="#666" stroke-width="0.3"/>
<circle cx="117.10" cy="313.20" r="0.9" fill="#8a8a8a" stroke="#666" stroke-width="0.3"/>
<circle cx="113.20" cy="314.00" r="0.9" fill="#8a8a8a" stroke="#666" stroke-width="0.3"/>
<circle cx="114.00" cy="311.50" r="0.9" fill="#8a8a8a" stroke="#666" stroke-width="0.3"/>
<circle cx="118.50" cy="316.00" r="0.9" fill="#8a8a8a" stroke="#666" stroke-width="0.3"/>
<circle cx="113.60" cy="285.80" r="1.1" fill="#333"/>
<circle cx="112.40" cy="297.20" r="1.1" fill="#333"/>
<circle cx="113.00" cy="316.00" r="1.1" fill="#333"/>
<line x1="134.20" y1="235.30" x2="143.60" y2="245.40" stroke="#222" stroke-width="0.75" stroke-linecap="butt"/>
<line x1="150.90" y1="233.20" x2="146.90" y2="245.40" stroke="#222" stroke-width="0.75" stroke-linecap="butt"/>
<rect x="81.10" y="286.30" width="2.2" height="2.2" fill="#e88a10"/>
<rect x="79.10" y="288.50" width="2.2" height="2.2" fill="#e88a10"/>
<circle cx="163.40" cy="224.40" r="1.35" fill="#14307a"/>
<circle cx="144.10" cy="245.90" r="1.35" fill="#14307a"/>
<circle cx="146.80" cy="246.40" r="1.35" fill="#14307a"/>
<circle cx="160.30" cy="242.60" r="1.35" fill="#14307a"/>
<circle cx="180.00" cy="245.10" r="1.35" fill="#14307a"/>
<circle cx="145.90" cy="250.90" r="1.35" fill="#14307a"/>
<circle cx="195.00" cy="255.50" r="1.35" fill="#14307a"/>
<circle cx="153.90" cy="290.80" r="1.35" fill="#14307a"/>
<text x="162.50" y="222.30" font-size="5.6" textLength="34.25" lengthAdjust="spacingAndGlyphs" stroke="#222" stroke-width="0.1">dexamethasone</text>
<text x="116.20" y="234.00" font-size="5.6" textLength="22.80" lengthAdjust="spacingAndGlyphs" stroke="#222" stroke-width="0.1">mepacrine</text>
<text x="147.40" y="232.30" font-size="5.6" textLength="26.35" lengthAdjust="spacingAndGlyphs" stroke="#222" stroke-width="0.1">momelotinib</text>
<text x="162.00" y="241.20" font-size="5.6" textLength="20.50" lengthAdjust="spacingAndGlyphs" stroke="#222" stroke-width="0.1">ruxolitinib</text>
<text x="182.00" y="249.20" font-size="5.6" textLength="27.25" lengthAdjust="spacingAndGlyphs" stroke="#222" stroke-width="0.1">omacetaxine</text>
<text x="148.50" y="254.60" font-size="5.6" textLength="21.50" lengthAdjust="spacingAndGlyphs" stroke="#222" stroke-width="0.1">etoposide</text>
<text x="191.25" y="261.80" font-size="5.6" textLength="25.75" lengthAdjust="spacingAndGlyphs" stroke="#222" stroke-width="0.1">A-1331852</text>
<text x="155.00" y="289.60" font-size="5.6" textLength="21.25" lengthAdjust="spacingAndGlyphs" stroke="#222" stroke-width="0.1">navitoclax</text>
<text x="64.50" y="285.60" font-size="5.6" textLength="17.00" lengthAdjust="spacingAndGlyphs" stroke="#222" stroke-width="0.1">filanesib</text>
<text x="57.00" y="294.30" font-size="5.6" textLength="21.25" lengthAdjust="spacingAndGlyphs" stroke="#222" stroke-width="0.1">birinapant</text>
<line x1="44.20" y1="200.30" x2="44.20" y2="317.90" stroke="#1a1a1a" stroke-width="1.25" stroke-linecap="butt"/>
<line x1="43.60" y1="317.30" x2="218.00" y2="317.30" stroke="#1a1a1a" stroke-width="1.25" stroke-linecap="butt"/>
<line x1="41.20" y1="317.30" x2="44.20" y2="317.30" stroke="#1a1a1a" stroke-width="1.0" stroke-linecap="butt"/>
<text x="38.30" y="319.50" font-size="6.5" text-anchor="end" textLength="8.31" lengthAdjust="spacingAndGlyphs" fill="#222" stroke="#222" stroke-width="0.1">0.0</text>
<line x1="41.20" y1="288.55" x2="44.20" y2="288.55" stroke="#1a1a1a" stroke-width="1.0" stroke-linecap="butt"/>
<text x="38.30" y="290.75" font-size="6.5" text-anchor="end" textLength="8.31" lengthAdjust="spacingAndGlyphs" fill="#222" stroke="#222" stroke-width="0.1">0.5</text>
<line x1="41.20" y1="259.80" x2="44.20" y2="259.80" stroke="#1a1a1a" stroke-width="1.0" stroke-linecap="butt"/>
<text x="38.30" y="262.00" font-size="6.5" text-anchor="end" textLength="8.31" lengthAdjust="spacingAndGlyphs" fill="#222" stroke="#222" stroke-width="0.1">1.0</text>
<line x1="41.20" y1="231.05" x2="44.20" y2="231.05" stroke="#1a1a1a" stroke-width="1.0" stroke-linecap="butt"/>
<text x="38.30" y="233.25" font-size="6.5" text-anchor="end" textLength="8.31" lengthAdjust="spacingAndGlyphs" fill="#222" stroke="#222" stroke-width="0.1">1.5</text>
<line x1="41.20" y1="202.30" x2="44.20" y2="202.30" stroke="#1a1a1a" stroke-width="1.0" stroke-linecap="butt"/>
<text x="38.30" y="204.50" font-size="6.5" text-anchor="end" textLength="8.31" lengthAdjust="spacingAndGlyphs" fill="#222" stroke="#222" stroke-width="0.1">2.0</text>
<line x1="43.95" y1="317.30" x2="43.95" y2="320.20" stroke="#1a1a1a" stroke-width="1.0" stroke-linecap="butt"/>
<text x="43.05" y="329.30" font-size="6.5" text-anchor="middle" textLength="8.64" lengthAdjust="spacingAndGlyphs" fill="#222" stroke="#222" stroke-width="0.1">-10</text>
<line x1="78.35" y1="317.30" x2="78.35" y2="320.20" stroke="#1a1a1a" stroke-width="1.0" stroke-linecap="butt"/>
<text x="77.45" y="329.30" font-size="6.5" text-anchor="middle" textLength="5.32" lengthAdjust="spacingAndGlyphs" fill="#222" stroke="#222" stroke-width="0.1">-5</text>
<line x1="112.75" y1="317.30" x2="112.75" y2="320.20" stroke="#1a1a1a" stroke-width="1.0" stroke-linecap="butt"/>
<text x="112.75" y="329.30" font-size="6.5" text-anchor="middle" textLength="3.33" lengthAdjust="spacingAndGlyphs" fill="#222" stroke="#222" stroke-width="0.1">0</text>
<line x1="147.15" y1="317.30" x2="147.15" y2="320.20" stroke="#1a1a1a" stroke-width="1.0" stroke-linecap="butt"/>
<text x="147.15" y="329.30" font-size="6.5" text-anchor="middle" textLength="3.33" lengthAdjust="spacingAndGlyphs" fill="#222" stroke="#222" stroke-width="0.1">5</text>
<line x1="181.55" y1="317.30" x2="181.55" y2="320.20" stroke="#1a1a1a" stroke-width="1.0" stroke-linecap="butt"/>
<text x="181.55" y="329.30" font-size="6.5" text-anchor="middle" textLength="6.65" lengthAdjust="spacingAndGlyphs" fill="#222" stroke="#222" stroke-width="0.1">10</text>
<line x1="215.95" y1="317.30" x2="215.95" y2="320.20" stroke="#1a1a1a" stroke-width="1.0" stroke-linecap="butt"/>
<text x="215.95" y="329.30" font-size="6.5" text-anchor="middle" textLength="6.65" lengthAdjust="spacingAndGlyphs" fill="#222" stroke="#222" stroke-width="0.1">15</text>
<text transform="translate(25.20,275.90) rotate(-90)" x="0" y="0" font-size="7.6" textLength="32.50" lengthAdjust="spacingAndGlyphs" fill="#111" stroke="#111" stroke-width="0.15">-log(P value)</text>
<text x="108.75" y="340.60" font-size="8.8" fill="#111" textLength="45.00" lengthAdjust="spacingAndGlyphs" stroke="#111" stroke-width="0.18">Difference in DSS</text>
<circle cx="52.00" cy="351.00" r="1.3" fill="#c4c4c4"/>
<text x="56.25" y="352.90" font-size="5.3" fill="#2a2a2a" textLength="13.25" lengthAdjust="spacingAndGlyphs" stroke="#2a2a2a" stroke-width="0.05">Drugs</text>
<circle cx="79.50" cy="351.00" r="1.3" fill="#14307a"/>
<text x="83.75" y="352.90" font-size="5.3" fill="#2a2a2a" textLength="58.25" lengthAdjust="spacingAndGlyphs" stroke="#2a2a2a" stroke-width="0.05">Selective to STAT3 mutant</text>
<circle cx="151.75" cy="351.00" r="1.3" fill="#e88a10"/>
<text x="156.25" y="352.90" font-size="5.3" fill="#2a2a2a" textLength="55.75" lengthAdjust="spacingAndGlyphs" stroke="#2a2a2a" stroke-width="0.05">Selective to TP53 mutant</text>
<text x="69.50" y="406.60" font-size="6.3" fill="#1a1a1a" textLength="34.25" lengthAdjust="spacingAndGlyphs" stroke="#1a1a1a" stroke-width="0.05">TP53 mutant</text>
<text x="144.25" y="406.60" font-size="6.3" fill="#1a1a1a" textLength="37.00" lengthAdjust="spacingAndGlyphs" stroke="#1a1a1a" stroke-width="0.05">STAT3 mutant</text>
<line x1="57.00" y1="414.30" x2="62.50" y2="414.30" stroke="#f0b51a" stroke-width="1.0" stroke-linecap="butt"/>
<circle cx="59.75" cy="414.30" r="0.9" fill="#f0b51a"/>
<text x="65.75" y="416.30" font-size="5.6" fill="#2a2a2a" textLength="13.75" lengthAdjust="spacingAndGlyphs" stroke="#2a2a2a" stroke-width="0.05">IMC-1</text>
<line x1="93.25" y1="414.30" x2="98.75" y2="414.30" stroke="#bf1a40" stroke-width="1.0" stroke-linecap="butt"/>
<circle cx="96.00" cy="414.30" r="0.9" fill="#bf1a40"/>
<text x="102.00" y="416.30" font-size="5.6" fill="#2a2a2a" textLength="14.25" lengthAdjust="spacingAndGlyphs" stroke="#2a2a2a" stroke-width="0.05">NK-92</text>
<line x1="139.50" y1="414.30" x2="145.00" y2="414.30" stroke="#55a7e6" stroke-width="1.0" stroke-linecap="butt"/>
<circle cx="142.25" cy="414.30" r="0.9" fill="#55a7e6"/>
<text x="148.25" y="416.30" font-size="5.6" fill="#2a2a2a" textLength="14.25" lengthAdjust="spacingAndGlyphs" stroke="#2a2a2a" stroke-width="0.05">NK-YS</text>
<line x1="172.00" y1="414.30" x2="177.50" y2="414.30" stroke="#1f3d8c" stroke-width="1.0" stroke-linecap="butt"/>
<circle cx="174.75" cy="414.30" r="0.9" fill="#1f3d8c"/>
<text x="180.00" y="416.30" font-size="5.6" fill="#2a2a2a" textLength="6.25" lengthAdjust="spacingAndGlyphs" stroke="#2a2a2a" stroke-width="0.05">YT</text>
<line x1="57.00" y1="423.00" x2="62.50" y2="423.00" stroke="#6e4219" stroke-width="1.0" stroke-linecap="butt"/>
<circle cx="59.75" cy="423.00" r="0.9" fill="#6e4219"/>
<text x="65.75" y="425.00" font-size="5.6" fill="#2a2a2a" textLength="18.75" lengthAdjust="spacingAndGlyphs" stroke="#2a2a2a" stroke-width="0.05">KHYG-1</text>
<line x1="93.25" y1="423.00" x2="98.75" y2="423.00" stroke="#ec8b20" stroke-width="1.0" stroke-linecap="butt"/>
<circle cx="96.00" cy="423.00" r="0.9" fill="#ec8b20"/>
<text x="102.00" y="425.00" font-size="5.6" fill="#2a2a2a" textLength="9.75" lengthAdjust="spacingAndGlyphs" stroke="#2a2a2a" stroke-width="0.05">NKL</text>
<line x1="139.50" y1="423.00" x2="145.00" y2="423.00" stroke="#5aab3c" stroke-width="1.0" stroke-linecap="butt"/>
<circle cx="142.25" cy="423.00" r="0.9" fill="#5aab3c"/>
<text x="148.25" y="425.00" font-size="5.6" fill="#2a2a2a" textLength="14.25" lengthAdjust="spacingAndGlyphs" stroke="#2a2a2a" stroke-width="0.05">SNK-6</text>
<rect x="0.5" y="0.5" width="519" height="537" fill="none" stroke="#000" stroke-width="1.2"/>
</svg>
</body></html>
